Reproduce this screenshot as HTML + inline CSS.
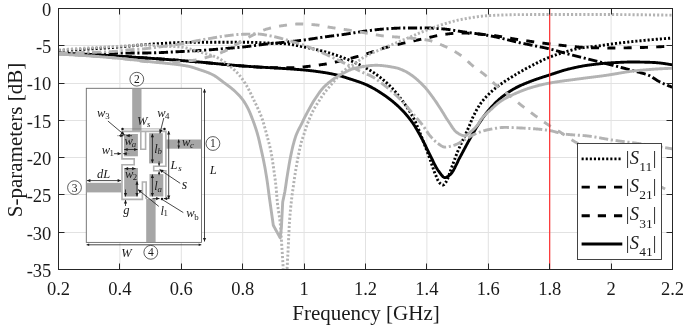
<!DOCTYPE html>
<html><head><meta charset="utf-8"><title>S-parameters</title>
<style>html,body{margin:0;padding:0;background:#fff;}body{width:685px;height:326px;overflow:hidden;font-family:"Liberation Serif",serif;}</style>
</head><body>
<svg width="685" height="326" viewBox="0 0 685 326" style="display:block;will-change:transform">
<rect width="685" height="326" fill="#fff"/>
<path d="M119.90 8.5 V269.5 M181.30 8.5 V269.5 M242.70 8.5 V269.5 M304.10 8.5 V269.5 M365.50 8.5 V269.5 M426.90 8.5 V269.5 M488.30 8.5 V269.5 M549.70 8.5 V269.5 M611.10 8.5 V269.5 M58.5 45.50 H672.5 M58.5 83.50 H672.5 M58.5 120.50 H672.5 M58.5 157.50 H672.5 M58.5 194.50 H672.5 M58.5 232.50 H672.5" stroke="#e2e2e2" stroke-width="1" fill="none"/>
<clipPath id="cp"><rect x="58.5" y="8.5" width="614.0" height="261.0"/></clipPath>
<g clip-path="url(#cp)" fill="none" stroke-width="2.9" stroke-linejoin="round">
<path d="M58.70 50.60 L59.20 50.58 L59.70 50.56 L60.20 50.54 L60.70 50.52 L61.20 50.50 L61.70 50.48 L62.20 50.46 L62.70 50.44 L63.20 50.42 L63.70 50.40 L64.20 50.38 L64.70 50.36 L65.20 50.33 L65.70 50.31 L66.20 50.29 L66.70 50.27 L67.20 50.24 L67.70 50.22 L68.20 50.20 L68.70 50.17 L69.20 50.15 L69.70 50.13 L70.20 50.10 L70.70 50.08 L71.20 50.05 L71.70 50.03 L72.20 50.00 L72.70 49.98 L73.20 49.95 L73.70 49.93 L74.20 49.90 L74.70 49.88 L75.20 49.85 L75.70 49.82 L76.20 49.80 L76.70 49.77 L77.20 49.74 L77.70 49.72 L78.20 49.69 L78.70 49.66 L79.20 49.63 L79.70 49.61 L80.20 49.58 L80.70 49.55 L81.20 49.52 L81.70 49.49 L82.20 49.46 L82.70 49.44 L83.20 49.41 L83.70 49.38 L84.20 49.35 L84.70 49.32 L85.20 49.29 L85.70 49.26 L86.20 49.23 L86.70 49.20 L87.20 49.17 L87.70 49.14 L88.20 49.11 L88.70 49.07 L89.20 49.04 L89.70 49.01 L90.20 48.98 L90.70 48.95 L91.20 48.92 L91.70 48.89 L92.20 48.85 L92.70 48.82 L93.20 48.79 L93.70 48.76 L94.20 48.73 L94.70 48.69 L95.20 48.66 L95.70 48.63 L96.20 48.59 L96.70 48.56 L97.20 48.53 L97.70 48.49 L98.20 48.46 L98.70 48.43 L99.20 48.39 L99.70 48.36 L100.20 48.33 L100.70 48.29 L101.20 48.26 L101.70 48.22 L102.20 48.19 L102.70 48.15 L103.20 48.12 L103.70 48.08 L104.20 48.05 L104.70 48.01 L105.20 47.98 L105.70 47.94 L106.20 47.91 L106.70 47.87 L107.20 47.84 L107.70 47.80 L108.20 47.77 L108.70 47.73 L109.20 47.69 L109.70 47.66 L110.20 47.62 L110.70 47.59 L111.20 47.55 L111.70 47.51 L112.20 47.48 L112.70 47.44 L113.20 47.40 L113.70 47.37 L114.20 47.33 L114.70 47.29 L115.20 47.26 L115.70 47.22 L116.20 47.18 L116.70 47.15 L117.20 47.11 L117.70 47.07 L118.20 47.03 L118.70 47.00 L119.20 46.96 L119.70 46.92 L120.00 46.90 L120.20 46.88 L120.70 46.85 L121.20 46.81 L121.70 46.77 L122.20 46.73 L122.70 46.68 L123.20 46.64 L123.70 46.60 L124.20 46.55 L124.70 46.51 L125.20 46.46 L125.70 46.42 L126.20 46.37 L126.70 46.32 L127.20 46.28 L127.70 46.23 L128.20 46.18 L128.70 46.13 L129.20 46.08 L129.70 46.04 L130.20 45.99 L130.70 45.94 L131.20 45.89 L131.70 45.84 L132.20 45.79 L132.70 45.74 L133.20 45.69 L133.70 45.64 L134.20 45.59 L134.70 45.54 L135.20 45.50 L135.70 45.45 L136.20 45.40 L136.70 45.35 L137.20 45.30 L137.70 45.26 L138.20 45.21 L138.70 45.17 L139.20 45.12 L139.70 45.08 L140.20 45.03 L140.70 44.99 L141.20 44.95 L141.70 44.90 L142.20 44.86 L142.70 44.82 L143.00 44.80 L143.20 44.78 L143.70 44.75 L144.20 44.71 L144.70 44.67 L145.20 44.63 L145.70 44.59 L146.20 44.55 L146.70 44.51 L147.20 44.48 L147.70 44.44 L148.20 44.40 L148.70 44.36 L149.20 44.33 L149.70 44.29 L150.20 44.25 L150.70 44.22 L151.20 44.18 L151.70 44.14 L152.20 44.11 L152.70 44.07 L153.20 44.04 L153.70 44.00 L154.20 43.97 L154.70 43.93 L155.20 43.90 L155.70 43.86 L156.20 43.83 L156.70 43.80 L157.20 43.76 L157.70 43.73 L158.20 43.70 L158.70 43.67 L159.20 43.64 L159.70 43.60 L160.20 43.57 L160.70 43.54 L161.20 43.51 L161.70 43.48 L162.20 43.45 L162.70 43.43 L163.20 43.40 L163.70 43.37 L164.20 43.34 L164.70 43.32 L165.00 43.30 L165.20 43.29 L165.70 43.26 L166.20 43.24 L166.70 43.21 L167.20 43.18 L167.70 43.15 L168.20 43.13 L168.70 43.10 L169.20 43.07 L169.70 43.04 L170.20 43.01 L170.70 42.99 L171.20 42.96 L171.70 42.93 L172.20 42.90 L172.70 42.88 L173.20 42.85 L173.70 42.82 L174.20 42.80 L174.70 42.77 L175.20 42.75 L175.70 42.72 L176.20 42.70 L176.70 42.67 L177.20 42.65 L177.70 42.63 L178.20 42.61 L178.70 42.59 L179.20 42.57 L179.70 42.55 L180.20 42.53 L180.70 42.51 L181.20 42.50 L181.70 42.48 L182.20 42.47 L182.70 42.45 L183.20 42.44 L183.70 42.43 L184.20 42.42 L184.70 42.41 L185.20 42.41 L185.70 42.40 L186.00 42.40 L186.20 42.40 L186.70 42.39 L187.20 42.39 L187.70 42.39 L188.20 42.38 L188.70 42.38 L189.20 42.38 L189.70 42.37 L190.20 42.37 L190.70 42.37 L191.20 42.36 L191.70 42.36 L192.20 42.36 L192.70 42.35 L193.20 42.35 L193.70 42.35 L194.20 42.34 L194.70 42.34 L195.20 42.34 L195.70 42.33 L196.20 42.33 L196.70 42.33 L197.20 42.33 L197.70 42.32 L198.20 42.32 L198.70 42.32 L199.20 42.31 L199.70 42.31 L200.20 42.31 L200.70 42.31 L201.20 42.30 L201.70 42.30 L202.20 42.30 L202.70 42.30 L203.20 42.29 L203.70 42.29 L204.20 42.29 L204.70 42.29 L205.20 42.28 L205.70 42.28 L206.20 42.28 L206.70 42.28 L207.20 42.28 L207.70 42.27 L208.20 42.27 L208.70 42.27 L209.20 42.27 L209.70 42.26 L210.20 42.26 L210.70 42.26 L211.20 42.26 L211.70 42.26 L212.20 42.26 L212.70 42.25 L213.20 42.25 L213.70 42.25 L214.20 42.25 L214.70 42.25 L215.20 42.24 L215.70 42.24 L216.20 42.24 L216.70 42.24 L217.20 42.24 L217.70 42.24 L218.20 42.24 L218.70 42.23 L219.20 42.23 L219.70 42.23 L220.20 42.23 L220.70 42.23 L221.20 42.23 L221.70 42.23 L222.20 42.22 L222.70 42.22 L223.20 42.22 L223.70 42.22 L224.20 42.22 L224.70 42.22 L225.20 42.22 L225.70 42.22 L226.20 42.22 L226.70 42.21 L227.20 42.21 L227.70 42.21 L228.20 42.21 L228.70 42.21 L229.20 42.21 L229.70 42.21 L230.20 42.21 L230.70 42.21 L231.20 42.21 L231.70 42.21 L232.20 42.21 L232.70 42.21 L233.20 42.21 L233.70 42.20 L234.20 42.20 L234.70 42.20 L235.20 42.20 L235.70 42.20 L236.20 42.20 L236.70 42.20 L237.20 42.20 L237.70 42.20 L238.20 42.20 L238.70 42.20 L239.20 42.20 L239.70 42.20 L240.20 42.20 L240.70 42.20 L241.20 42.20 L241.70 42.20 L242.20 42.20 L242.70 42.20 L243.00 42.20 L243.20 42.20 L243.70 42.20 L244.20 42.20 L244.70 42.21 L245.20 42.21 L245.70 42.22 L246.20 42.22 L246.70 42.23 L247.20 42.24 L247.70 42.25 L248.20 42.26 L248.70 42.27 L249.20 42.28 L249.70 42.30 L250.20 42.31 L250.70 42.33 L251.20 42.34 L251.70 42.36 L252.20 42.38 L252.70 42.39 L253.20 42.41 L253.70 42.43 L254.20 42.45 L254.70 42.47 L255.20 42.49 L255.70 42.51 L256.20 42.53 L256.70 42.55 L257.20 42.57 L257.70 42.59 L258.20 42.61 L258.70 42.64 L259.20 42.66 L259.70 42.68 L260.20 42.70 L260.70 42.73 L261.20 42.75 L261.70 42.77 L262.20 42.79 L262.70 42.82 L263.20 42.84 L263.70 42.86 L264.20 42.88 L264.70 42.90 L265.20 42.93 L265.70 42.95 L266.20 42.97 L266.70 42.99 L267.00 43.00 L267.20 43.01 L267.70 43.03 L268.20 43.05 L268.70 43.07 L269.20 43.09 L269.70 43.11 L270.20 43.13 L270.70 43.14 L271.20 43.16 L271.70 43.18 L272.20 43.20 L272.70 43.22 L273.20 43.24 L273.70 43.26 L274.20 43.28 L274.70 43.30 L275.20 43.32 L275.70 43.35 L276.20 43.37 L276.70 43.39 L277.20 43.41 L277.70 43.43 L278.20 43.46 L278.70 43.48 L279.20 43.51 L279.70 43.53 L280.20 43.56 L280.70 43.59 L281.20 43.61 L281.70 43.64 L282.20 43.67 L282.70 43.70 L283.20 43.73 L283.70 43.76 L284.20 43.80 L284.70 43.83 L285.20 43.87 L285.70 43.90 L286.20 43.94 L286.70 43.98 L287.00 44.00 L287.20 44.02 L287.70 44.06 L288.20 44.11 L288.70 44.16 L289.20 44.22 L289.70 44.28 L290.20 44.35 L290.70 44.42 L291.20 44.49 L291.70 44.57 L292.20 44.65 L292.70 44.73 L293.20 44.82 L293.70 44.91 L294.20 45.00 L294.70 45.10 L295.20 45.19 L295.70 45.29 L296.20 45.39 L296.70 45.49 L297.20 45.59 L297.70 45.69 L298.20 45.80 L298.70 45.90 L299.20 46.01 L299.70 46.11 L300.20 46.22 L300.70 46.32 L301.20 46.43 L301.70 46.53 L302.20 46.64 L302.70 46.74 L303.20 46.84 L303.70 46.94 L304.00 47.00 L304.20 47.04 L304.70 47.14 L305.20 47.24 L305.70 47.34 L306.20 47.44 L306.70 47.54 L307.20 47.64 L307.70 47.74 L308.20 47.84 L308.70 47.95 L309.20 48.05 L309.70 48.15 L310.20 48.26 L310.70 48.36 L311.20 48.47 L311.70 48.58 L312.20 48.68 L312.70 48.79 L313.20 48.90 L313.70 49.01 L314.20 49.12 L314.70 49.23 L315.20 49.35 L315.70 49.46 L316.20 49.57 L316.70 49.69 L317.20 49.81 L317.70 49.92 L318.20 50.04 L318.70 50.16 L319.20 50.28 L319.70 50.40 L320.20 50.53 L320.70 50.65 L321.20 50.78 L321.70 50.90 L322.20 51.03 L322.70 51.16 L323.20 51.29 L323.70 51.42 L324.00 51.50 L324.20 51.55 L324.70 51.69 L325.20 51.82 L325.70 51.96 L326.20 52.10 L326.70 52.24 L327.20 52.38 L327.70 52.53 L328.20 52.67 L328.70 52.82 L329.20 52.97 L329.70 53.12 L330.20 53.27 L330.70 53.42 L331.20 53.58 L331.70 53.73 L332.20 53.89 L332.70 54.05 L333.20 54.21 L333.70 54.37 L334.20 54.54 L334.70 54.70 L335.20 54.87 L335.70 55.03 L336.20 55.20 L336.70 55.37 L337.20 55.54 L337.70 55.72 L338.20 55.89 L338.70 56.06 L339.20 56.24 L339.70 56.42 L340.20 56.60 L340.70 56.78 L341.20 56.96 L341.70 57.14 L342.20 57.33 L342.70 57.51 L343.20 57.70 L343.70 57.89 L344.00 58.00 L344.20 58.08 L344.70 58.27 L345.20 58.46 L345.70 58.65 L346.20 58.85 L346.70 59.04 L347.20 59.24 L347.70 59.44 L348.20 59.64 L348.70 59.85 L349.20 60.05 L349.70 60.26 L350.20 60.47 L350.70 60.68 L351.20 60.89 L351.70 61.10 L352.20 61.32 L352.70 61.53 L353.20 61.75 L353.70 61.97 L354.20 62.19 L354.70 62.42 L355.20 62.64 L355.70 62.87 L356.20 63.10 L356.70 63.33 L357.20 63.57 L357.70 63.80 L358.20 64.04 L358.70 64.28 L359.20 64.52 L359.70 64.76 L360.20 65.01 L360.70 65.25 L361.20 65.50 L361.70 65.75 L362.20 66.01 L362.70 66.26 L363.20 66.52 L363.70 66.78 L364.20 67.04 L364.70 67.30 L365.20 67.57 L365.70 67.84 L366.00 68.00 L366.20 68.11 L366.70 68.38 L367.20 68.66 L367.70 68.95 L368.20 69.23 L368.70 69.53 L369.20 69.82 L369.70 70.13 L370.20 70.43 L370.70 70.74 L371.20 71.06 L371.70 71.38 L372.20 71.70 L372.70 72.03 L373.20 72.36 L373.70 72.69 L374.20 73.03 L374.70 73.37 L375.20 73.72 L375.70 74.07 L376.20 74.43 L376.70 74.78 L377.00 75.00 L377.20 75.15 L377.70 75.51 L378.20 75.88 L378.70 76.25 L379.20 76.63 L379.70 77.01 L380.20 77.40 L380.70 77.79 L381.20 78.18 L381.70 78.58 L382.20 78.98 L382.70 79.39 L383.20 79.81 L383.70 80.23 L384.20 80.65 L384.70 81.08 L385.20 81.52 L385.70 81.96 L386.20 82.40 L386.70 82.86 L387.20 83.32 L387.70 83.78 L388.20 84.25 L388.70 84.73 L389.20 85.21 L389.70 85.70 L390.00 86.00 L390.20 86.20 L390.70 86.71 L391.20 87.22 L391.70 87.74 L392.20 88.28 L392.70 88.82 L393.20 89.37 L393.70 89.93 L394.20 90.49 L394.70 91.07 L395.20 91.65 L395.70 92.24 L396.20 92.84 L396.70 93.44 L397.20 94.05 L397.70 94.67 L398.20 95.30 L398.70 95.93 L399.20 96.57 L399.70 97.21 L400.20 97.86 L400.70 98.52 L401.20 99.18 L401.70 99.85 L402.20 100.53 L402.70 101.21 L403.20 101.89 L403.70 102.58 L404.00 103.00 L404.20 103.28 L404.70 103.98 L405.20 104.68 L405.70 105.40 L406.20 106.12 L406.70 106.85 L407.20 107.58 L407.70 108.33 L408.20 109.09 L408.70 109.86 L409.20 110.64 L409.70 111.44 L410.20 112.25 L410.70 113.08 L411.20 113.93 L411.70 114.79 L412.20 115.67 L412.70 116.57 L413.20 117.49 L413.70 118.43 L414.00 119.00 L414.20 119.39 L414.70 120.39 L415.20 121.43 L415.70 122.51 L416.20 123.63 L416.70 124.77 L417.20 125.95 L417.70 127.15 L418.20 128.37 L418.70 129.61 L419.20 130.87 L419.70 132.14 L420.20 133.42 L420.70 134.71 L421.20 136.00 L421.70 137.30 L422.20 138.60 L422.70 139.89 L423.20 141.18 L423.60 142.20 L423.70 142.45 L424.20 143.74 L424.70 145.03 L425.20 146.34 L425.70 147.66 L426.20 148.99 L426.70 150.33 L427.20 151.68 L427.70 153.03 L428.20 154.39 L428.70 155.75 L429.20 157.11 L429.70 158.48 L430.00 159.30 L430.20 159.85 L430.70 161.26 L431.20 162.71 L431.70 164.18 L432.20 165.66 L432.70 167.13 L433.20 168.59 L433.70 170.01 L434.20 171.38 L434.70 172.69 L435.20 173.93 L435.40 174.40 L435.70 175.10 L436.20 176.30 L436.70 177.50 L437.20 178.67 L437.70 179.78 L438.20 180.80 L438.70 181.70 L439.20 182.44 L439.70 183.00 L440.20 183.45 L440.70 183.88 L441.20 184.27 L441.70 184.60 L442.20 184.84 L442.70 184.98 L443.00 185.00 L443.20 184.98 L443.70 184.77 L444.20 184.36 L444.70 183.81 L445.20 183.16 L445.70 182.46 L446.10 181.90 L446.20 181.76 L446.70 180.92 L447.20 179.89 L447.70 178.71 L448.20 177.41 L448.70 176.01 L449.20 174.55 L449.70 173.06 L450.20 171.57 L450.70 170.11 L451.20 168.70 L451.50 167.90 L451.70 167.38 L452.20 166.05 L452.70 164.72 L453.20 163.37 L453.70 162.01 L454.20 160.66 L454.70 159.30 L455.20 157.96 L455.70 156.63 L456.20 155.31 L456.70 154.02 L457.20 152.76 L457.70 151.52 L458.00 150.80 L458.20 150.32 L458.70 149.16 L459.20 148.02 L459.70 146.90 L460.20 145.81 L460.70 144.73 L461.20 143.66 L461.70 142.59 L462.20 141.53 L462.70 140.47 L463.20 139.40 L463.70 138.33 L464.20 137.24 L464.40 136.80 L464.70 136.14 L465.20 135.04 L465.70 133.94 L466.20 132.85 L466.70 131.75 L467.20 130.65 L467.70 129.54 L468.20 128.42 L468.70 127.30 L469.20 126.16 L469.70 125.00 L470.20 123.80 L470.70 122.55 L471.20 121.28 L471.70 120.02 L472.20 118.80 L472.70 117.64 L473.00 117.00 L473.20 116.59 L473.70 115.56 L474.20 114.56 L474.70 113.57 L475.20 112.60 L475.70 111.65 L476.20 110.72 L476.70 109.82 L477.20 108.93 L477.70 108.07 L478.20 107.23 L478.70 106.42 L479.20 105.63 L479.70 104.86 L480.20 104.13 L480.70 103.41 L481.00 103.00 L481.20 102.73 L481.70 102.06 L482.20 101.41 L482.70 100.78 L483.20 100.16 L483.70 99.56 L484.20 98.97 L484.70 98.39 L485.20 97.83 L485.70 97.28 L486.20 96.74 L486.70 96.21 L487.20 95.69 L487.70 95.18 L488.20 94.68 L488.70 94.19 L489.20 93.70 L489.70 93.22 L490.20 92.75 L490.70 92.28 L491.00 92.00 L491.20 91.82 L491.70 91.36 L492.20 90.91 L492.70 90.47 L493.20 90.04 L493.70 89.61 L494.20 89.20 L494.70 88.78 L495.20 88.38 L495.70 87.98 L496.20 87.58 L496.70 87.19 L497.20 86.81 L497.70 86.43 L498.20 86.05 L498.70 85.68 L499.20 85.31 L499.70 84.94 L500.20 84.58 L500.70 84.22 L501.00 84.00 L501.20 83.86 L501.70 83.50 L502.20 83.15 L502.70 82.80 L503.20 82.46 L503.70 82.12 L504.20 81.78 L504.70 81.44 L505.20 81.11 L505.70 80.78 L506.20 80.45 L506.70 80.13 L507.20 79.81 L507.70 79.49 L508.20 79.17 L508.70 78.85 L509.20 78.54 L509.70 78.23 L510.20 77.92 L510.70 77.61 L511.20 77.30 L511.70 77.00 L512.20 76.69 L512.70 76.39 L513.20 76.08 L513.70 75.78 L514.20 75.48 L514.70 75.18 L515.00 75.00 L515.20 74.88 L515.70 74.58 L516.20 74.28 L516.70 73.98 L517.20 73.69 L517.70 73.39 L518.20 73.10 L518.70 72.80 L519.20 72.51 L519.70 72.22 L520.20 71.93 L520.70 71.64 L521.20 71.35 L521.70 71.07 L522.20 70.78 L522.70 70.50 L523.20 70.22 L523.70 69.94 L524.20 69.66 L524.70 69.38 L525.20 69.10 L525.70 68.82 L526.20 68.55 L526.70 68.28 L527.20 68.01 L527.70 67.74 L528.20 67.47 L528.70 67.20 L529.20 66.94 L529.70 66.68 L530.20 66.41 L530.70 66.15 L531.00 66.00 L531.20 65.90 L531.70 65.64 L532.20 65.38 L532.70 65.12 L533.20 64.87 L533.70 64.61 L534.20 64.35 L534.70 64.10 L535.20 63.84 L535.70 63.59 L536.20 63.33 L536.70 63.08 L537.20 62.83 L537.70 62.58 L538.20 62.33 L538.70 62.08 L539.20 61.83 L539.70 61.59 L540.20 61.34 L540.70 61.10 L541.20 60.86 L541.70 60.62 L542.20 60.39 L542.70 60.15 L543.20 59.92 L543.70 59.69 L544.20 59.46 L544.70 59.23 L545.20 59.01 L545.70 58.79 L546.20 58.57 L546.70 58.35 L547.20 58.14 L547.70 57.93 L548.20 57.72 L548.70 57.52 L549.20 57.32 L549.70 57.12 L550.00 57.00 L550.20 56.92 L550.70 56.73 L551.20 56.54 L551.70 56.35 L552.20 56.17 L552.70 55.98 L553.20 55.80 L553.70 55.62 L554.20 55.44 L554.70 55.26 L555.20 55.09 L555.70 54.92 L556.20 54.74 L556.70 54.58 L557.20 54.41 L557.70 54.24 L558.20 54.08 L558.70 53.92 L559.20 53.75 L559.70 53.60 L560.20 53.44 L560.70 53.28 L561.20 53.13 L561.70 52.97 L562.20 52.82 L562.70 52.67 L563.20 52.52 L563.70 52.38 L564.20 52.23 L564.70 52.09 L565.00 52.00 L565.20 51.94 L565.70 51.80 L566.20 51.66 L566.70 51.51 L567.20 51.37 L567.70 51.22 L568.20 51.08 L568.70 50.94 L569.20 50.79 L569.70 50.65 L570.20 50.51 L570.70 50.37 L571.20 50.23 L571.70 50.10 L572.20 49.96 L572.70 49.83 L573.20 49.70 L573.70 49.57 L574.20 49.44 L574.70 49.31 L575.20 49.19 L575.70 49.07 L576.20 48.95 L576.70 48.84 L577.20 48.73 L577.70 48.62 L578.20 48.51 L578.70 48.41 L579.20 48.32 L579.70 48.22 L580.20 48.13 L580.70 48.05 L581.00 48.00 L581.20 47.97 L581.70 47.89 L582.20 47.82 L582.70 47.74 L583.20 47.67 L583.70 47.61 L584.20 47.54 L584.70 47.48 L585.20 47.41 L585.70 47.35 L586.20 47.30 L586.70 47.24 L587.20 47.18 L587.70 47.13 L588.20 47.07 L588.70 47.02 L589.20 46.97 L589.70 46.92 L590.20 46.87 L590.70 46.81 L591.20 46.76 L591.70 46.71 L592.20 46.66 L592.70 46.61 L593.20 46.56 L593.70 46.50 L594.20 46.45 L594.70 46.40 L595.20 46.34 L595.70 46.28 L596.20 46.22 L596.70 46.16 L597.20 46.10 L597.70 46.04 L598.00 46.00 L598.20 45.97 L598.70 45.91 L599.20 45.84 L599.70 45.77 L600.20 45.70 L600.70 45.62 L601.20 45.55 L601.70 45.47 L602.20 45.40 L602.70 45.32 L603.20 45.25 L603.70 45.17 L604.20 45.09 L604.70 45.01 L605.20 44.94 L605.70 44.86 L606.20 44.78 L606.70 44.70 L607.20 44.63 L607.70 44.55 L608.20 44.48 L608.70 44.40 L609.20 44.33 L609.70 44.26 L610.20 44.19 L610.70 44.12 L611.20 44.05 L611.60 44.00 L611.70 43.99 L612.20 43.92 L612.70 43.86 L613.20 43.79 L613.70 43.73 L614.20 43.67 L614.70 43.60 L615.20 43.54 L615.70 43.48 L616.20 43.42 L616.70 43.35 L617.20 43.29 L617.70 43.23 L618.20 43.17 L618.70 43.11 L619.20 43.05 L619.70 42.99 L620.20 42.93 L620.70 42.87 L621.20 42.81 L621.70 42.75 L622.20 42.69 L622.70 42.64 L623.20 42.58 L623.70 42.52 L624.20 42.46 L624.70 42.41 L625.20 42.35 L625.70 42.29 L626.20 42.24 L626.70 42.18 L627.20 42.13 L627.70 42.07 L628.20 42.02 L628.70 41.96 L629.20 41.91 L629.70 41.85 L630.20 41.80 L630.70 41.75 L631.20 41.69 L631.70 41.64 L632.20 41.59 L632.70 41.54 L633.20 41.48 L633.70 41.43 L634.20 41.38 L634.70 41.33 L635.20 41.28 L635.70 41.23 L636.20 41.18 L636.70 41.13 L637.20 41.08 L637.70 41.03 L638.00 41.00 L638.20 40.98 L638.70 40.93 L639.20 40.88 L639.70 40.83 L640.20 40.78 L640.70 40.74 L641.20 40.69 L641.70 40.64 L642.20 40.59 L642.70 40.54 L643.20 40.50 L643.70 40.45 L644.20 40.40 L644.70 40.35 L645.20 40.31 L645.70 40.26 L646.20 40.21 L646.70 40.17 L647.20 40.12 L647.70 40.07 L648.20 40.03 L648.70 39.98 L649.20 39.94 L649.70 39.89 L650.20 39.84 L650.70 39.80 L651.20 39.75 L651.70 39.71 L652.20 39.66 L652.70 39.62 L653.20 39.58 L653.70 39.53 L654.20 39.49 L654.70 39.44 L655.20 39.40 L655.70 39.36 L656.20 39.31 L656.70 39.27 L657.20 39.23 L657.70 39.19 L658.20 39.14 L658.70 39.10 L659.20 39.06 L659.70 39.02 L660.20 38.98 L660.70 38.94 L661.20 38.90 L661.70 38.85 L662.20 38.81 L662.70 38.77 L663.20 38.73 L663.70 38.69 L664.20 38.65 L664.70 38.62 L665.20 38.58 L665.70 38.54 L666.20 38.50 L666.70 38.46 L667.20 38.42 L667.70 38.38 L668.20 38.35 L668.70 38.31 L669.20 38.27 L669.70 38.24 L670.20 38.20 L670.70 38.16 L671.20 38.13 L671.70 38.09 L672.20 38.06 L672.70 38.02 L673.00 38.00" stroke="#000" stroke-dasharray="2.1 2.0"/>
<path d="M58.70 53.20 L59.20 53.22 L59.70 53.23 L60.20 53.25 L60.70 53.26 L61.20 53.28 L61.70 53.29 L62.20 53.31 L62.70 53.33 L63.20 53.34 L63.70 53.36 L64.20 53.38 L64.70 53.40 L65.20 53.41 L65.70 53.43 L66.20 53.45 L66.70 53.47 L67.20 53.48 L67.70 53.50 L68.20 53.52 L68.70 53.54 L69.20 53.56 L69.70 53.58 L70.20 53.60 L70.70 53.61 L71.20 53.63 L71.70 53.65 L72.20 53.67 L72.70 53.69 L73.20 53.71 L73.70 53.73 L74.20 53.75 L74.70 53.77 L75.20 53.79 L75.70 53.81 L76.20 53.84 L76.70 53.86 L77.20 53.88 L77.70 53.90 L78.20 53.92 L78.70 53.94 L79.20 53.96 L79.70 53.99 L80.00 54.00 L80.20 54.01 L80.70 54.03 L81.20 54.05 L81.70 54.08 L82.20 54.10 L82.70 54.12 L83.20 54.15 L83.70 54.17 L84.20 54.20 L84.70 54.22 L85.20 54.24 L85.70 54.27 L86.20 54.29 L86.70 54.32 L87.20 54.35 L87.70 54.37 L88.20 54.40 L88.70 54.42 L89.20 54.45 L89.70 54.48 L90.20 54.50 L90.70 54.53 L91.20 54.56 L91.70 54.58 L92.20 54.61 L92.70 54.64 L93.20 54.67 L93.70 54.69 L94.20 54.72 L94.70 54.75 L95.20 54.78 L95.70 54.81 L96.20 54.84 L96.70 54.87 L97.20 54.89 L97.70 54.92 L98.20 54.95 L98.70 54.98 L99.20 55.01 L99.70 55.04 L100.20 55.07 L100.70 55.10 L101.20 55.13 L101.70 55.16 L102.20 55.19 L102.70 55.22 L103.20 55.25 L103.70 55.28 L104.20 55.31 L104.70 55.34 L105.20 55.37 L105.70 55.40 L106.20 55.44 L106.70 55.47 L107.20 55.50 L107.70 55.53 L108.20 55.56 L108.70 55.59 L109.20 55.62 L109.70 55.65 L110.20 55.68 L110.70 55.72 L111.20 55.75 L111.70 55.78 L112.20 55.81 L112.70 55.84 L113.20 55.87 L113.70 55.90 L114.20 55.94 L114.70 55.97 L115.20 56.00 L115.70 56.03 L116.20 56.06 L116.70 56.09 L117.20 56.12 L117.70 56.16 L118.20 56.19 L118.70 56.22 L119.20 56.25 L119.70 56.28 L120.00 56.30 L120.20 56.31 L120.70 56.34 L121.20 56.38 L121.70 56.41 L122.20 56.44 L122.70 56.47 L123.20 56.50 L123.70 56.53 L124.20 56.56 L124.70 56.60 L125.20 56.63 L125.70 56.66 L126.20 56.69 L126.70 56.72 L127.20 56.76 L127.70 56.79 L128.20 56.82 L128.70 56.85 L129.20 56.88 L129.70 56.92 L130.20 56.95 L130.70 56.98 L131.20 57.01 L131.70 57.05 L132.20 57.08 L132.70 57.11 L133.20 57.14 L133.70 57.18 L134.20 57.21 L134.70 57.24 L135.20 57.28 L135.70 57.31 L136.20 57.34 L136.70 57.37 L137.20 57.41 L137.70 57.44 L138.20 57.47 L138.70 57.51 L139.20 57.54 L139.70 57.57 L140.20 57.61 L140.70 57.64 L141.20 57.67 L141.70 57.71 L142.20 57.74 L142.70 57.77 L143.20 57.81 L143.70 57.84 L144.20 57.88 L144.70 57.91 L145.20 57.94 L145.70 57.98 L146.20 58.01 L146.70 58.05 L147.20 58.08 L147.70 58.11 L148.20 58.15 L148.70 58.18 L149.20 58.22 L149.70 58.25 L150.20 58.29 L150.70 58.32 L151.20 58.35 L151.70 58.39 L152.20 58.42 L152.70 58.46 L153.20 58.49 L153.70 58.53 L154.20 58.56 L154.70 58.60 L155.20 58.63 L155.70 58.67 L156.20 58.70 L156.70 58.74 L157.20 58.77 L157.70 58.81 L158.20 58.85 L158.70 58.88 L159.20 58.92 L159.70 58.95 L160.20 58.99 L160.70 59.02 L161.20 59.06 L161.70 59.10 L162.20 59.13 L162.70 59.17 L163.20 59.20 L163.70 59.24 L164.20 59.28 L164.70 59.31 L165.20 59.35 L165.70 59.39 L166.20 59.42 L166.70 59.46 L167.20 59.49 L167.70 59.53 L168.20 59.57 L168.70 59.60 L169.20 59.64 L169.70 59.68 L170.20 59.72 L170.70 59.75 L171.20 59.79 L171.70 59.83 L172.20 59.86 L172.70 59.90 L173.20 59.94 L173.70 59.98 L174.20 60.01 L174.70 60.05 L175.20 60.09 L175.70 60.13 L176.20 60.17 L176.70 60.20 L177.20 60.24 L177.70 60.28 L178.20 60.32 L178.70 60.36 L179.20 60.39 L179.70 60.43 L180.20 60.47 L180.70 60.51 L181.20 60.55 L181.70 60.59 L182.20 60.62 L182.70 60.66 L183.20 60.70 L183.70 60.74 L184.20 60.78 L184.70 60.82 L185.20 60.86 L185.70 60.90 L186.20 60.94 L186.70 60.98 L187.00 61.00 L187.20 61.02 L187.70 61.06 L188.20 61.10 L188.70 61.14 L189.20 61.18 L189.70 61.22 L190.20 61.26 L190.70 61.30 L191.20 61.34 L191.70 61.39 L192.20 61.43 L192.70 61.47 L193.20 61.51 L193.70 61.56 L194.20 61.60 L194.70 61.65 L195.20 61.69 L195.70 61.73 L196.20 61.78 L196.70 61.82 L197.20 61.87 L197.70 61.91 L198.20 61.96 L198.70 62.01 L199.20 62.05 L199.70 62.10 L200.20 62.14 L200.70 62.19 L201.20 62.24 L201.70 62.29 L202.20 62.33 L202.70 62.38 L203.20 62.43 L203.70 62.47 L204.20 62.52 L204.70 62.57 L205.20 62.62 L205.70 62.66 L206.20 62.71 L206.70 62.76 L207.20 62.81 L207.70 62.86 L208.20 62.91 L208.70 62.95 L209.20 63.00 L209.70 63.05 L210.20 63.10 L210.70 63.15 L211.20 63.20 L211.70 63.24 L212.20 63.29 L212.70 63.34 L213.20 63.39 L213.70 63.44 L214.20 63.49 L214.70 63.54 L215.20 63.58 L215.70 63.63 L216.20 63.68 L216.70 63.73 L217.20 63.78 L217.70 63.83 L218.20 63.87 L218.70 63.92 L219.20 63.97 L219.70 64.02 L220.20 64.06 L220.70 64.11 L221.20 64.16 L221.70 64.21 L222.20 64.25 L222.70 64.30 L223.20 64.35 L223.70 64.39 L224.20 64.44 L224.70 64.49 L225.20 64.53 L225.70 64.58 L226.20 64.63 L226.70 64.67 L227.20 64.72 L227.70 64.76 L228.20 64.81 L228.70 64.85 L229.20 64.90 L229.70 64.94 L230.20 64.98 L230.70 65.03 L231.20 65.07 L231.70 65.11 L232.20 65.16 L232.70 65.20 L233.20 65.24 L233.70 65.28 L234.20 65.33 L234.70 65.37 L235.20 65.41 L235.70 65.45 L236.20 65.49 L236.70 65.53 L237.20 65.57 L237.70 65.61 L238.20 65.65 L238.70 65.69 L239.20 65.72 L239.70 65.76 L240.20 65.80 L240.70 65.84 L241.20 65.87 L241.70 65.91 L242.20 65.94 L242.70 65.98 L243.00 66.00 L243.20 66.01 L243.70 66.05 L244.20 66.08 L244.70 66.12 L245.20 66.16 L245.70 66.19 L246.20 66.23 L246.70 66.27 L247.20 66.30 L247.70 66.34 L248.20 66.38 L248.70 66.41 L249.20 66.45 L249.70 66.49 L250.20 66.52 L250.70 66.56 L251.20 66.60 L251.70 66.63 L252.20 66.67 L252.70 66.71 L253.20 66.74 L253.70 66.78 L254.20 66.81 L254.70 66.85 L255.20 66.88 L255.70 66.92 L256.20 66.95 L256.70 66.99 L257.20 67.02 L257.70 67.05 L258.20 67.08 L258.70 67.11 L259.20 67.14 L259.70 67.17 L260.20 67.20 L260.70 67.23 L261.20 67.26 L261.70 67.29 L262.20 67.31 L262.70 67.34 L263.20 67.36 L263.70 67.39 L264.20 67.41 L264.70 67.43 L265.20 67.45 L265.70 67.47 L266.20 67.49 L266.70 67.51 L267.20 67.53 L267.70 67.54 L268.20 67.56 L268.70 67.57 L269.20 67.58 L269.70 67.59 L270.00 67.60 L270.20 67.60 L270.70 67.61 L271.20 67.62 L271.70 67.63 L272.20 67.64 L272.70 67.65 L273.20 67.66 L273.70 67.67 L274.20 67.68 L274.70 67.68 L275.20 67.69 L275.70 67.70 L276.20 67.71 L276.70 67.71 L277.20 67.72 L277.70 67.73 L278.20 67.74 L278.70 67.74 L279.20 67.75 L279.70 67.75 L280.20 67.76 L280.70 67.77 L281.20 67.77 L281.70 67.78 L282.20 67.78 L282.70 67.78 L283.20 67.79 L283.70 67.79 L284.20 67.79 L284.70 67.80 L285.20 67.80 L285.70 67.80 L286.20 67.80 L286.70 67.80 L287.00 67.80 L287.20 67.80 L287.70 67.80 L288.20 67.79 L288.70 67.79 L289.20 67.78 L289.70 67.77 L290.20 67.76 L290.70 67.75 L291.20 67.73 L291.70 67.72 L292.20 67.70 L292.70 67.68 L293.20 67.66 L293.70 67.63 L294.20 67.61 L294.70 67.58 L295.20 67.55 L295.70 67.52 L296.20 67.49 L296.70 67.46 L297.20 67.43 L297.70 67.39 L298.20 67.36 L298.70 67.32 L299.20 67.28 L299.70 67.24 L300.20 67.20 L300.70 67.15 L301.20 67.11 L301.70 67.06 L302.20 67.02 L302.70 66.97 L303.20 66.92 L303.70 66.87 L304.20 66.82 L304.70 66.77 L305.20 66.71 L305.70 66.66 L306.20 66.61 L306.70 66.55 L307.20 66.49 L307.70 66.44 L308.20 66.38 L308.70 66.32 L309.20 66.26 L309.70 66.20 L310.20 66.14 L310.70 66.08 L311.20 66.02 L311.70 65.95 L312.20 65.89 L312.70 65.83 L313.20 65.76 L313.70 65.70 L314.20 65.63 L314.70 65.56 L315.20 65.50 L315.70 65.43 L316.20 65.36 L316.70 65.30 L317.20 65.23 L317.70 65.16 L318.20 65.09 L318.70 65.03 L319.20 64.96 L319.70 64.89 L320.20 64.82 L320.70 64.75 L321.20 64.68 L321.70 64.62 L322.20 64.55 L322.70 64.48 L323.20 64.41 L323.70 64.34 L324.00 64.30 L324.20 64.27 L324.70 64.20 L325.20 64.13 L325.70 64.05 L326.20 63.97 L326.70 63.89 L327.20 63.80 L327.70 63.71 L328.20 63.62 L328.70 63.53 L329.20 63.43 L329.70 63.33 L330.20 63.23 L330.70 63.13 L331.20 63.02 L331.70 62.92 L332.20 62.81 L332.70 62.70 L333.20 62.59 L333.70 62.48 L334.20 62.36 L334.70 62.25 L335.20 62.13 L335.70 62.01 L336.20 61.89 L336.70 61.78 L337.20 61.66 L337.70 61.53 L338.20 61.41 L338.70 61.29 L339.20 61.17 L339.70 61.05 L340.20 60.93 L340.70 60.80 L341.20 60.68 L341.70 60.56 L342.20 60.44 L342.70 60.31 L343.20 60.19 L343.70 60.07 L344.00 60.00 L344.20 59.95 L344.70 59.83 L345.20 59.71 L345.70 59.59 L346.20 59.46 L346.70 59.34 L347.20 59.22 L347.70 59.09 L348.20 58.96 L348.70 58.84 L349.20 58.71 L349.70 58.58 L350.20 58.45 L350.70 58.32 L351.20 58.19 L351.70 58.06 L352.20 57.92 L352.70 57.79 L353.20 57.66 L353.70 57.52 L354.20 57.39 L354.70 57.25 L355.20 57.11 L355.70 56.98 L356.20 56.84 L356.70 56.70 L357.20 56.56 L357.70 56.42 L358.20 56.28 L358.70 56.14 L359.20 55.99 L359.70 55.85 L360.20 55.71 L360.70 55.56 L361.20 55.42 L361.70 55.27 L362.20 55.13 L362.70 54.98 L363.20 54.83 L363.70 54.69 L364.20 54.54 L364.70 54.39 L365.20 54.24 L365.70 54.09 L366.00 54.00 L366.20 53.94 L366.70 53.79 L367.20 53.63 L367.70 53.47 L368.20 53.31 L368.70 53.15 L369.20 52.98 L369.70 52.81 L370.20 52.64 L370.70 52.47 L371.20 52.30 L371.70 52.13 L372.20 51.95 L372.70 51.78 L373.20 51.60 L373.70 51.43 L374.20 51.25 L374.70 51.07 L375.20 50.90 L375.70 50.72 L376.20 50.54 L376.70 50.37 L377.20 50.19 L377.70 50.02 L378.20 49.85 L378.70 49.68 L379.20 49.51 L379.70 49.34 L380.20 49.18 L380.70 49.01 L381.20 48.85 L381.70 48.69 L382.20 48.54 L382.70 48.38 L383.20 48.23 L383.70 48.09 L384.00 48.00 L384.20 47.94 L384.70 47.80 L385.20 47.66 L385.70 47.52 L386.20 47.38 L386.70 47.25 L387.20 47.11 L387.70 46.98 L388.20 46.84 L388.70 46.71 L389.20 46.58 L389.70 46.45 L390.20 46.32 L390.70 46.19 L391.20 46.06 L391.70 45.94 L392.20 45.81 L392.70 45.69 L393.20 45.56 L393.70 45.44 L394.20 45.32 L394.70 45.20 L395.20 45.07 L395.70 44.95 L396.20 44.83 L396.70 44.71 L397.20 44.59 L397.70 44.48 L398.20 44.36 L398.70 44.24 L399.20 44.12 L399.70 44.00 L400.20 43.89 L400.70 43.77 L401.20 43.65 L401.70 43.54 L402.20 43.42 L402.70 43.30 L403.20 43.19 L403.70 43.07 L404.00 43.00 L404.20 42.95 L404.70 42.84 L405.20 42.72 L405.70 42.61 L406.20 42.49 L406.70 42.38 L407.20 42.27 L407.70 42.15 L408.20 42.04 L408.70 41.93 L409.20 41.82 L409.70 41.71 L410.20 41.60 L410.70 41.49 L411.20 41.38 L411.70 41.27 L412.20 41.16 L412.70 41.05 L413.20 40.94 L413.70 40.83 L414.20 40.73 L414.70 40.62 L415.20 40.51 L415.70 40.40 L416.20 40.30 L416.70 40.19 L417.20 40.08 L417.70 39.98 L418.20 39.87 L418.70 39.76 L419.20 39.66 L419.70 39.55 L420.20 39.45 L420.70 39.34 L421.20 39.23 L421.70 39.13 L422.20 39.02 L422.70 38.92 L423.20 38.81 L423.70 38.70 L424.20 38.60 L424.70 38.49 L425.20 38.38 L425.70 38.28 L426.20 38.17 L426.70 38.06 L427.00 38.00 L427.20 37.96 L427.70 37.85 L428.20 37.74 L428.70 37.62 L429.20 37.51 L429.70 37.39 L430.20 37.27 L430.70 37.15 L431.20 37.03 L431.70 36.91 L432.20 36.79 L432.70 36.67 L433.20 36.55 L433.70 36.43 L434.20 36.31 L434.70 36.19 L435.20 36.07 L435.70 35.95 L436.20 35.83 L436.70 35.72 L437.20 35.61 L437.70 35.50 L438.20 35.39 L438.70 35.29 L439.20 35.18 L439.70 35.08 L440.20 34.99 L440.70 34.90 L441.20 34.81 L441.70 34.73 L442.20 34.65 L442.70 34.57 L443.20 34.50 L443.70 34.44 L444.00 34.40 L444.20 34.38 L444.70 34.32 L445.20 34.26 L445.70 34.20 L446.20 34.14 L446.70 34.08 L447.20 34.02 L447.70 33.96 L448.20 33.90 L448.70 33.85 L449.20 33.79 L449.70 33.73 L450.20 33.68 L450.70 33.63 L451.20 33.58 L451.70 33.53 L452.20 33.48 L452.70 33.43 L453.20 33.38 L453.70 33.34 L454.20 33.30 L454.70 33.26 L455.20 33.22 L455.70 33.19 L456.20 33.16 L456.70 33.13 L457.20 33.10 L457.70 33.08 L458.20 33.06 L458.70 33.04 L459.20 33.02 L459.70 33.01 L460.20 33.00 L460.70 33.00 L461.00 33.00 L461.20 33.00 L461.70 33.00 L462.20 33.01 L462.70 33.01 L463.20 33.02 L463.70 33.03 L464.20 33.04 L464.70 33.05 L465.20 33.07 L465.70 33.09 L466.20 33.10 L466.70 33.13 L467.20 33.15 L467.70 33.17 L468.20 33.19 L468.70 33.22 L469.20 33.25 L469.70 33.28 L470.20 33.31 L470.70 33.34 L471.20 33.37 L471.70 33.41 L472.20 33.44 L472.70 33.48 L473.20 33.52 L473.70 33.56 L474.20 33.59 L474.70 33.63 L475.20 33.68 L475.70 33.72 L476.20 33.76 L476.70 33.81 L477.20 33.85 L477.70 33.89 L478.20 33.94 L478.70 33.99 L479.20 34.03 L479.70 34.08 L480.20 34.13 L480.70 34.18 L481.20 34.23 L481.70 34.28 L482.20 34.32 L482.70 34.37 L483.20 34.42 L483.70 34.47 L484.20 34.52 L484.70 34.57 L485.20 34.62 L485.70 34.67 L486.20 34.72 L486.70 34.77 L487.20 34.82 L487.70 34.87 L488.20 34.92 L488.70 34.97 L489.00 35.00 L489.20 35.02 L489.70 35.07 L490.20 35.12 L490.70 35.18 L491.20 35.23 L491.70 35.29 L492.20 35.35 L492.70 35.41 L493.20 35.47 L493.70 35.54 L494.20 35.60 L494.70 35.67 L495.20 35.74 L495.70 35.81 L496.20 35.88 L496.70 35.95 L497.20 36.03 L497.70 36.10 L498.20 36.18 L498.70 36.26 L499.20 36.34 L499.70 36.42 L500.20 36.50 L500.70 36.58 L501.20 36.66 L501.70 36.74 L502.20 36.83 L502.70 36.91 L503.20 36.99 L503.70 37.08 L504.20 37.17 L504.70 37.25 L505.20 37.34 L505.70 37.43 L506.20 37.51 L506.70 37.60 L507.20 37.69 L507.70 37.78 L508.20 37.86 L508.70 37.95 L509.20 38.04 L509.70 38.13 L510.20 38.22 L510.70 38.30 L511.20 38.39 L511.70 38.48 L512.20 38.57 L512.70 38.65 L513.20 38.74 L513.70 38.83 L514.20 38.91 L514.70 39.00 L515.20 39.08 L515.70 39.17 L516.20 39.25 L516.70 39.33 L517.20 39.41 L517.70 39.49 L518.20 39.57 L518.70 39.65 L519.20 39.73 L519.70 39.81 L520.20 39.88 L520.70 39.96 L521.00 40.00 L521.20 40.03 L521.70 40.10 L522.20 40.18 L522.70 40.25 L523.20 40.32 L523.70 40.39 L524.20 40.47 L524.70 40.54 L525.20 40.61 L525.70 40.69 L526.20 40.76 L526.70 40.83 L527.20 40.90 L527.70 40.98 L528.20 41.05 L528.70 41.12 L529.20 41.19 L529.70 41.26 L530.20 41.34 L530.70 41.41 L531.20 41.48 L531.70 41.55 L532.20 41.62 L532.70 41.69 L533.20 41.76 L533.70 41.84 L534.20 41.91 L534.70 41.98 L535.20 42.05 L535.70 42.12 L536.20 42.19 L536.70 42.26 L537.20 42.32 L537.70 42.39 L538.20 42.46 L538.70 42.53 L539.20 42.60 L539.70 42.67 L540.20 42.73 L540.70 42.80 L541.20 42.87 L541.70 42.94 L542.20 43.00 L542.70 43.07 L543.20 43.14 L543.70 43.20 L544.20 43.27 L544.70 43.33 L545.20 43.40 L545.70 43.46 L546.20 43.53 L546.70 43.59 L547.20 43.65 L547.70 43.72 L548.20 43.78 L548.70 43.84 L549.20 43.90 L549.70 43.96 L550.00 44.00 L550.20 44.02 L550.70 44.09 L551.20 44.15 L551.70 44.21 L552.20 44.27 L552.70 44.33 L553.20 44.39 L553.70 44.45 L554.20 44.51 L554.70 44.57 L555.20 44.63 L555.70 44.68 L556.20 44.74 L556.70 44.80 L557.20 44.86 L557.70 44.92 L558.20 44.97 L558.70 45.03 L559.20 45.09 L559.70 45.14 L560.20 45.20 L560.70 45.25 L561.20 45.31 L561.70 45.36 L562.20 45.42 L562.70 45.47 L563.20 45.52 L563.70 45.58 L564.20 45.63 L564.70 45.68 L565.20 45.73 L565.70 45.78 L566.20 45.83 L566.70 45.88 L567.20 45.92 L567.70 45.97 L568.00 46.00 L568.20 46.02 L568.70 46.07 L569.20 46.11 L569.70 46.16 L570.20 46.21 L570.70 46.26 L571.20 46.31 L571.70 46.36 L572.20 46.41 L572.70 46.46 L573.20 46.51 L573.70 46.55 L574.20 46.60 L574.70 46.65 L575.20 46.70 L575.70 46.75 L576.20 46.80 L576.70 46.84 L577.20 46.89 L577.70 46.94 L578.20 46.98 L578.70 47.02 L579.20 47.07 L579.70 47.11 L580.20 47.15 L580.70 47.19 L581.20 47.23 L581.70 47.27 L582.20 47.30 L582.70 47.34 L583.20 47.37 L583.70 47.40 L584.20 47.43 L584.70 47.46 L585.20 47.49 L585.70 47.51 L586.20 47.53 L586.70 47.56 L587.20 47.57 L587.70 47.59 L588.00 47.60 L588.20 47.61 L588.70 47.62 L589.20 47.63 L589.70 47.65 L590.20 47.66 L590.70 47.67 L591.20 47.69 L591.70 47.70 L592.20 47.71 L592.70 47.73 L593.20 47.74 L593.70 47.75 L594.20 47.76 L594.70 47.78 L595.20 47.79 L595.70 47.80 L596.20 47.81 L596.70 47.82 L597.20 47.83 L597.70 47.84 L598.20 47.85 L598.70 47.86 L599.20 47.87 L599.70 47.88 L600.20 47.89 L600.70 47.90 L601.20 47.91 L601.70 47.92 L602.20 47.92 L602.70 47.93 L603.20 47.94 L603.70 47.95 L604.20 47.95 L604.70 47.96 L605.20 47.96 L605.70 47.97 L606.20 47.97 L606.70 47.98 L607.20 47.98 L607.70 47.99 L608.20 47.99 L608.70 47.99 L609.20 47.99 L609.70 48.00 L610.20 48.00 L610.70 48.00 L611.20 48.00 L611.60 48.00 L611.70 48.00 L612.20 48.00 L612.70 48.00 L613.20 48.00 L613.70 48.00 L614.20 47.99 L614.70 47.99 L615.20 47.99 L615.70 47.99 L616.20 47.98 L616.70 47.98 L617.20 47.97 L617.70 47.97 L618.20 47.97 L618.70 47.96 L619.20 47.95 L619.70 47.95 L620.20 47.94 L620.70 47.94 L621.20 47.93 L621.70 47.92 L622.20 47.91 L622.70 47.91 L623.20 47.90 L623.70 47.89 L624.20 47.88 L624.70 47.88 L625.20 47.87 L625.70 47.86 L626.20 47.85 L626.70 47.84 L627.20 47.83 L627.70 47.82 L628.20 47.81 L628.70 47.80 L629.20 47.79 L629.70 47.78 L630.20 47.77 L630.70 47.76 L631.20 47.75 L631.70 47.74 L632.20 47.73 L632.70 47.72 L633.20 47.71 L633.70 47.70 L634.20 47.68 L634.70 47.67 L635.20 47.66 L635.70 47.65 L636.20 47.64 L636.70 47.63 L637.20 47.62 L637.70 47.61 L638.00 47.60 L638.20 47.60 L638.70 47.58 L639.20 47.57 L639.70 47.56 L640.20 47.55 L640.70 47.53 L641.20 47.52 L641.70 47.51 L642.20 47.49 L642.70 47.48 L643.20 47.46 L643.70 47.45 L644.20 47.43 L644.70 47.41 L645.20 47.40 L645.70 47.38 L646.20 47.36 L646.70 47.35 L647.20 47.33 L647.70 47.31 L648.20 47.29 L648.70 47.27 L649.20 47.25 L649.70 47.23 L650.20 47.21 L650.70 47.19 L651.20 47.17 L651.70 47.15 L652.20 47.13 L652.70 47.11 L653.20 47.08 L653.70 47.06 L654.20 47.04 L654.70 47.02 L655.20 46.99 L655.70 46.97 L656.20 46.95 L656.70 46.92 L657.20 46.90 L657.70 46.87 L658.20 46.85 L658.70 46.82 L659.20 46.80 L659.70 46.77 L660.20 46.74 L660.70 46.72 L661.20 46.69 L661.70 46.66 L662.20 46.64 L662.70 46.61 L663.20 46.58 L663.70 46.56 L664.20 46.53 L664.70 46.50 L665.20 46.47 L665.70 46.44 L666.20 46.41 L666.70 46.38 L667.20 46.35 L667.70 46.32 L668.20 46.30 L668.70 46.27 L669.20 46.23 L669.70 46.20 L670.20 46.17 L670.70 46.14 L671.20 46.11 L671.70 46.08 L672.20 46.05 L672.70 46.02 L673.00 46.00" stroke="#000" stroke-dasharray="8.0 8.3"/>
<path d="M58.70 53.50 L59.20 53.52 L59.70 53.54 L60.20 53.57 L60.70 53.59 L61.20 53.61 L61.70 53.63 L62.20 53.65 L62.70 53.67 L63.20 53.69 L63.70 53.71 L64.20 53.73 L64.70 53.75 L65.20 53.77 L65.70 53.79 L66.20 53.81 L66.70 53.82 L67.20 53.84 L67.70 53.86 L68.20 53.87 L68.70 53.89 L69.20 53.90 L69.70 53.91 L70.20 53.93 L70.70 53.94 L71.20 53.95 L71.70 53.96 L72.20 53.97 L72.70 53.97 L73.20 53.98 L73.70 53.99 L74.20 53.99 L74.70 54.00 L75.20 54.00 L75.70 54.00 L76.00 54.00 L76.20 54.00 L76.70 54.00 L77.20 54.00 L77.70 54.00 L78.20 53.99 L78.70 53.99 L79.20 53.99 L79.70 53.98 L80.20 53.98 L80.70 53.97 L81.20 53.97 L81.70 53.96 L82.20 53.96 L82.70 53.95 L83.20 53.94 L83.70 53.93 L84.20 53.93 L84.70 53.92 L85.20 53.91 L85.70 53.90 L86.20 53.89 L86.70 53.88 L87.20 53.87 L87.70 53.86 L88.20 53.85 L88.70 53.83 L89.20 53.82 L89.70 53.81 L90.20 53.80 L90.70 53.79 L91.20 53.77 L91.70 53.76 L92.20 53.75 L92.70 53.73 L93.20 53.72 L93.70 53.71 L94.20 53.69 L94.70 53.68 L95.20 53.67 L95.70 53.65 L96.20 53.64 L96.70 53.62 L97.20 53.61 L97.70 53.60 L98.20 53.58 L98.70 53.57 L99.20 53.55 L99.70 53.54 L100.20 53.53 L100.70 53.51 L101.20 53.50 L101.70 53.48 L102.20 53.47 L102.70 53.46 L103.20 53.44 L103.70 53.43 L104.20 53.42 L104.70 53.40 L105.20 53.39 L105.70 53.38 L106.20 53.37 L106.70 53.36 L107.20 53.34 L107.70 53.33 L108.20 53.32 L108.70 53.31 L109.20 53.30 L109.70 53.29 L110.20 53.28 L110.70 53.27 L111.20 53.26 L111.70 53.25 L112.20 53.24 L112.70 53.23 L113.20 53.22 L113.70 53.22 L114.20 53.21 L114.70 53.20 L115.00 53.20 L115.20 53.20 L115.70 53.19 L116.20 53.19 L116.70 53.18 L117.20 53.18 L117.70 53.17 L118.20 53.17 L118.70 53.16 L119.20 53.16 L119.70 53.15 L120.20 53.15 L120.70 53.14 L121.20 53.14 L121.70 53.13 L122.20 53.13 L122.70 53.13 L123.20 53.12 L123.70 53.12 L124.20 53.11 L124.70 53.11 L125.20 53.11 L125.70 53.10 L126.20 53.10 L126.70 53.10 L127.20 53.09 L127.70 53.09 L128.20 53.09 L128.70 53.08 L129.20 53.08 L129.70 53.08 L130.20 53.08 L130.70 53.07 L131.20 53.07 L131.70 53.07 L132.20 53.06 L132.70 53.06 L133.20 53.06 L133.70 53.05 L134.20 53.05 L134.70 53.05 L135.20 53.04 L135.70 53.04 L136.20 53.04 L136.70 53.03 L137.20 53.03 L137.70 53.03 L138.20 53.02 L138.70 53.02 L139.20 53.02 L139.70 53.01 L140.20 53.01 L140.70 53.00 L141.20 53.00 L141.70 52.99 L142.20 52.99 L142.70 52.99 L143.20 52.98 L143.70 52.98 L144.20 52.97 L144.70 52.97 L145.20 52.96 L145.70 52.96 L146.20 52.95 L146.70 52.94 L147.20 52.94 L147.70 52.93 L148.20 52.92 L148.70 52.92 L149.20 52.91 L149.70 52.90 L150.00 52.90 L150.20 52.90 L150.70 52.89 L151.20 52.88 L151.70 52.87 L152.20 52.86 L152.70 52.85 L153.20 52.84 L153.70 52.82 L154.20 52.81 L154.70 52.80 L155.20 52.78 L155.70 52.77 L156.20 52.75 L156.70 52.73 L157.20 52.72 L157.70 52.70 L158.20 52.68 L158.70 52.66 L159.20 52.64 L159.70 52.62 L160.20 52.60 L160.70 52.58 L161.20 52.56 L161.70 52.54 L162.20 52.52 L162.70 52.49 L163.20 52.47 L163.70 52.45 L164.20 52.42 L164.70 52.40 L165.20 52.37 L165.70 52.35 L166.20 52.32 L166.70 52.30 L167.20 52.27 L167.70 52.25 L168.20 52.22 L168.70 52.20 L169.20 52.17 L169.70 52.14 L170.20 52.12 L170.70 52.09 L171.20 52.06 L171.70 52.04 L172.20 52.01 L172.70 51.98 L173.20 51.96 L173.70 51.93 L174.20 51.90 L174.70 51.88 L175.20 51.85 L175.70 51.82 L176.20 51.80 L176.70 51.77 L177.20 51.74 L177.70 51.72 L178.20 51.69 L178.70 51.67 L179.20 51.64 L179.70 51.62 L180.00 51.60 L180.20 51.59 L180.70 51.56 L181.20 51.54 L181.70 51.51 L182.20 51.49 L182.70 51.46 L183.20 51.44 L183.70 51.41 L184.20 51.38 L184.70 51.36 L185.20 51.33 L185.70 51.30 L186.20 51.28 L186.70 51.25 L187.20 51.22 L187.70 51.19 L188.20 51.17 L188.70 51.14 L189.20 51.11 L189.70 51.08 L190.20 51.05 L190.70 51.03 L191.20 51.00 L191.70 50.97 L192.20 50.94 L192.70 50.91 L193.20 50.88 L193.70 50.85 L194.20 50.82 L194.70 50.79 L195.20 50.76 L195.70 50.73 L196.20 50.70 L196.70 50.67 L197.20 50.64 L197.70 50.61 L198.20 50.58 L198.70 50.55 L199.20 50.51 L199.70 50.48 L200.20 50.45 L200.70 50.42 L201.20 50.39 L201.70 50.35 L202.20 50.32 L202.70 50.29 L203.20 50.26 L203.70 50.22 L204.20 50.19 L204.70 50.16 L205.20 50.12 L205.70 50.09 L206.20 50.05 L206.70 50.02 L207.00 50.00 L207.20 49.99 L207.70 49.95 L208.20 49.92 L208.70 49.88 L209.20 49.84 L209.70 49.81 L210.20 49.77 L210.70 49.73 L211.20 49.70 L211.70 49.66 L212.20 49.62 L212.70 49.58 L213.20 49.54 L213.70 49.50 L214.20 49.46 L214.70 49.42 L215.20 49.38 L215.70 49.34 L216.20 49.30 L216.70 49.26 L217.20 49.22 L217.70 49.18 L218.20 49.14 L218.70 49.10 L219.20 49.06 L219.70 49.01 L220.20 48.97 L220.70 48.93 L221.20 48.89 L221.70 48.85 L222.20 48.80 L222.70 48.76 L223.20 48.72 L223.70 48.68 L224.20 48.64 L224.70 48.59 L225.20 48.55 L225.70 48.51 L226.20 48.47 L226.70 48.43 L227.00 48.40 L227.20 48.38 L227.70 48.34 L228.20 48.30 L228.70 48.26 L229.20 48.22 L229.70 48.18 L230.20 48.14 L230.70 48.09 L231.20 48.05 L231.70 48.01 L232.20 47.97 L232.70 47.93 L233.20 47.89 L233.70 47.85 L234.20 47.80 L234.70 47.76 L235.20 47.72 L235.70 47.68 L236.20 47.63 L236.70 47.59 L237.20 47.55 L237.70 47.50 L238.20 47.46 L238.70 47.41 L239.20 47.37 L239.70 47.32 L240.20 47.27 L240.70 47.23 L241.20 47.18 L241.70 47.13 L242.20 47.08 L242.70 47.03 L243.00 47.00 L243.20 46.98 L243.70 46.93 L244.20 46.87 L244.70 46.82 L245.20 46.76 L245.70 46.71 L246.20 46.65 L246.70 46.59 L247.20 46.53 L247.70 46.47 L248.20 46.41 L248.70 46.35 L249.20 46.29 L249.70 46.22 L250.20 46.16 L250.70 46.10 L251.20 46.03 L251.70 45.97 L252.20 45.90 L252.70 45.83 L253.20 45.77 L253.70 45.70 L254.20 45.63 L254.70 45.57 L255.20 45.50 L255.70 45.43 L256.20 45.37 L256.70 45.30 L257.20 45.23 L257.70 45.16 L258.20 45.10 L258.70 45.03 L259.20 44.96 L259.70 44.90 L260.20 44.83 L260.70 44.77 L261.20 44.70 L261.70 44.64 L262.20 44.57 L262.70 44.51 L263.20 44.45 L263.70 44.39 L264.20 44.33 L264.70 44.27 L265.20 44.21 L265.70 44.15 L266.20 44.09 L266.70 44.03 L267.00 44.00 L267.20 43.98 L267.70 43.92 L268.20 43.87 L268.70 43.82 L269.20 43.76 L269.70 43.71 L270.20 43.66 L270.70 43.61 L271.20 43.56 L271.70 43.51 L272.20 43.46 L272.70 43.41 L273.20 43.36 L273.70 43.31 L274.20 43.26 L274.70 43.21 L275.20 43.17 L275.70 43.12 L276.20 43.07 L276.70 43.02 L277.20 42.97 L277.70 42.93 L278.20 42.88 L278.70 42.83 L279.20 42.78 L279.70 42.74 L280.20 42.69 L280.70 42.64 L281.20 42.59 L281.70 42.54 L282.20 42.49 L282.70 42.44 L283.20 42.39 L283.70 42.34 L284.20 42.29 L284.70 42.24 L285.20 42.19 L285.70 42.14 L286.20 42.09 L286.70 42.03 L287.00 42.00 L287.20 41.98 L287.70 41.92 L288.20 41.87 L288.70 41.81 L289.20 41.76 L289.70 41.71 L290.20 41.65 L290.70 41.59 L291.20 41.54 L291.70 41.48 L292.20 41.43 L292.70 41.37 L293.20 41.31 L293.70 41.26 L294.20 41.20 L294.70 41.14 L295.20 41.08 L295.70 41.03 L296.20 40.97 L296.70 40.91 L297.20 40.85 L297.70 40.79 L298.20 40.73 L298.70 40.67 L299.20 40.61 L299.70 40.55 L300.20 40.48 L300.70 40.42 L301.20 40.36 L301.70 40.30 L302.20 40.23 L302.70 40.17 L303.20 40.10 L303.70 40.04 L304.00 40.00 L304.20 39.97 L304.70 39.91 L305.20 39.84 L305.70 39.77 L306.20 39.70 L306.70 39.63 L307.20 39.56 L307.70 39.48 L308.20 39.41 L308.70 39.34 L309.20 39.26 L309.70 39.19 L310.20 39.11 L310.70 39.03 L311.20 38.96 L311.70 38.88 L312.20 38.80 L312.70 38.72 L313.20 38.65 L313.70 38.57 L314.20 38.49 L314.70 38.41 L315.20 38.33 L315.70 38.25 L316.20 38.17 L316.70 38.09 L317.20 38.02 L317.70 37.94 L318.20 37.86 L318.70 37.78 L319.20 37.71 L319.70 37.63 L320.20 37.55 L320.70 37.48 L321.20 37.40 L321.70 37.33 L322.20 37.26 L322.70 37.18 L323.20 37.11 L323.70 37.04 L324.00 37.00 L324.20 36.97 L324.70 36.90 L325.20 36.83 L325.70 36.77 L326.20 36.70 L326.70 36.63 L327.20 36.57 L327.70 36.50 L328.20 36.44 L328.70 36.37 L329.20 36.31 L329.70 36.24 L330.20 36.18 L330.70 36.12 L331.20 36.05 L331.70 35.99 L332.20 35.93 L332.70 35.87 L333.20 35.80 L333.70 35.74 L334.20 35.68 L334.70 35.62 L335.20 35.55 L335.70 35.49 L336.20 35.43 L336.70 35.37 L337.20 35.30 L337.70 35.24 L338.20 35.18 L338.70 35.11 L339.20 35.05 L339.70 34.98 L340.20 34.92 L340.70 34.85 L341.20 34.78 L341.70 34.72 L342.20 34.65 L342.70 34.58 L343.20 34.51 L343.70 34.44 L344.00 34.40 L344.20 34.37 L344.70 34.30 L345.20 34.23 L345.70 34.15 L346.20 34.08 L346.70 34.00 L347.20 33.93 L347.70 33.85 L348.20 33.77 L348.70 33.69 L349.20 33.61 L349.70 33.53 L350.20 33.45 L350.70 33.37 L351.20 33.29 L351.70 33.21 L352.20 33.13 L352.70 33.04 L353.20 32.96 L353.70 32.88 L354.20 32.80 L354.70 32.72 L355.20 32.63 L355.70 32.55 L356.20 32.47 L356.70 32.39 L357.20 32.31 L357.70 32.23 L358.20 32.15 L358.70 32.07 L359.20 31.99 L359.70 31.91 L360.20 31.83 L360.70 31.75 L361.20 31.68 L361.70 31.60 L362.20 31.53 L362.70 31.45 L363.20 31.38 L363.70 31.31 L364.20 31.24 L364.70 31.17 L365.20 31.10 L365.70 31.04 L366.00 31.00 L366.20 30.97 L366.70 30.91 L367.20 30.85 L367.70 30.78 L368.20 30.72 L368.70 30.65 L369.20 30.59 L369.70 30.52 L370.20 30.46 L370.70 30.40 L371.20 30.33 L371.70 30.27 L372.20 30.21 L372.70 30.14 L373.20 30.08 L373.70 30.02 L374.20 29.96 L374.70 29.90 L375.20 29.84 L375.70 29.79 L376.20 29.73 L376.70 29.67 L377.20 29.62 L377.70 29.56 L378.20 29.51 L378.70 29.46 L379.20 29.41 L379.70 29.36 L380.20 29.31 L380.70 29.27 L381.20 29.22 L381.70 29.18 L382.20 29.14 L382.70 29.10 L383.20 29.06 L383.70 29.02 L384.00 29.00 L384.20 28.99 L384.70 28.95 L385.20 28.92 L385.70 28.88 L386.20 28.85 L386.70 28.81 L387.20 28.77 L387.70 28.74 L388.20 28.70 L388.70 28.67 L389.20 28.63 L389.70 28.60 L390.20 28.57 L390.70 28.53 L391.20 28.50 L391.70 28.47 L392.20 28.44 L392.70 28.40 L393.20 28.37 L393.70 28.34 L394.20 28.31 L394.70 28.29 L395.20 28.26 L395.70 28.23 L396.20 28.21 L396.70 28.18 L397.20 28.16 L397.70 28.14 L398.20 28.12 L398.70 28.10 L399.20 28.08 L399.70 28.07 L400.20 28.05 L400.70 28.04 L401.20 28.03 L401.70 28.02 L402.20 28.01 L402.70 28.01 L403.20 28.00 L403.70 28.00 L404.00 28.00 L404.20 28.00 L404.70 28.00 L405.20 28.00 L405.70 28.00 L406.20 28.00 L406.70 28.00 L407.20 28.00 L407.70 28.00 L408.20 28.00 L408.70 28.00 L409.20 28.00 L409.70 28.00 L410.20 28.00 L410.70 28.00 L411.20 28.00 L411.70 28.00 L412.20 28.00 L412.70 28.00 L413.20 28.00 L413.70 28.00 L414.20 28.00 L414.70 28.00 L415.20 28.00 L415.70 28.00 L416.20 28.00 L416.70 28.00 L417.20 28.00 L417.70 28.00 L418.20 28.00 L418.70 28.00 L419.20 28.00 L419.70 28.00 L420.20 28.00 L420.70 28.00 L421.20 28.00 L421.70 28.00 L422.20 28.00 L422.70 28.00 L423.20 28.00 L423.70 28.00 L424.20 28.00 L424.70 28.00 L425.20 28.00 L425.70 28.00 L426.20 28.00 L426.70 28.00 L427.00 28.00 L427.20 28.00 L427.70 28.00 L428.20 28.01 L428.70 28.02 L429.20 28.03 L429.70 28.04 L430.20 28.05 L430.70 28.07 L431.20 28.09 L431.70 28.11 L432.20 28.13 L432.70 28.16 L433.20 28.18 L433.70 28.21 L434.20 28.24 L434.70 28.27 L435.20 28.30 L435.70 28.33 L436.20 28.37 L436.70 28.41 L437.20 28.44 L437.70 28.48 L438.20 28.52 L438.70 28.56 L439.20 28.60 L439.70 28.64 L440.20 28.68 L440.70 28.72 L441.20 28.76 L441.70 28.81 L442.20 28.85 L442.70 28.89 L443.20 28.93 L443.70 28.97 L444.00 29.00 L444.20 29.02 L444.70 29.06 L445.20 29.11 L445.70 29.16 L446.20 29.22 L446.70 29.28 L447.20 29.34 L447.70 29.40 L448.20 29.47 L448.70 29.54 L449.20 29.61 L449.70 29.68 L450.20 29.75 L450.70 29.83 L451.20 29.91 L451.70 29.99 L452.20 30.07 L452.70 30.15 L453.20 30.23 L453.70 30.31 L454.20 30.40 L454.70 30.48 L455.20 30.57 L455.70 30.65 L456.20 30.73 L456.70 30.82 L457.20 30.90 L457.70 30.98 L458.20 31.06 L458.70 31.15 L459.20 31.22 L459.70 31.30 L460.20 31.38 L460.70 31.46 L461.00 31.50 L461.20 31.53 L461.70 31.60 L462.20 31.67 L462.70 31.75 L463.20 31.82 L463.70 31.89 L464.20 31.96 L464.70 32.03 L465.20 32.10 L465.70 32.17 L466.20 32.24 L466.70 32.31 L467.20 32.37 L467.70 32.44 L468.20 32.51 L468.70 32.58 L469.20 32.65 L469.70 32.72 L470.20 32.78 L470.70 32.85 L471.20 32.92 L471.70 32.99 L472.20 33.06 L472.70 33.12 L473.20 33.19 L473.70 33.26 L474.20 33.33 L474.70 33.40 L475.20 33.47 L475.70 33.54 L476.20 33.61 L476.70 33.68 L477.20 33.75 L477.70 33.82 L478.20 33.89 L478.70 33.96 L479.20 34.03 L479.70 34.11 L480.20 34.18 L480.70 34.25 L481.20 34.33 L481.70 34.40 L482.20 34.48 L482.70 34.56 L483.20 34.63 L483.70 34.71 L484.20 34.79 L484.70 34.87 L485.20 34.95 L485.70 35.03 L486.20 35.12 L486.70 35.20 L487.20 35.29 L487.70 35.37 L488.20 35.46 L488.70 35.55 L489.00 35.60 L489.20 35.64 L489.70 35.73 L490.20 35.82 L490.70 35.91 L491.20 36.01 L491.70 36.11 L492.20 36.21 L492.70 36.31 L493.20 36.41 L493.70 36.51 L494.20 36.62 L494.70 36.73 L495.20 36.83 L495.70 36.94 L496.20 37.05 L496.70 37.16 L497.20 37.28 L497.70 37.39 L498.20 37.51 L498.70 37.62 L499.20 37.74 L499.70 37.86 L500.20 37.97 L500.70 38.09 L501.20 38.21 L501.70 38.33 L502.20 38.45 L502.70 38.58 L503.20 38.70 L503.70 38.82 L504.20 38.94 L504.70 39.07 L505.20 39.19 L505.70 39.31 L506.20 39.44 L506.70 39.56 L507.20 39.69 L507.70 39.81 L508.20 39.94 L508.70 40.06 L509.20 40.19 L509.70 40.31 L510.20 40.44 L510.70 40.56 L511.20 40.69 L511.70 40.81 L512.20 40.93 L512.70 41.06 L513.20 41.18 L513.70 41.30 L514.20 41.42 L514.70 41.54 L515.20 41.66 L515.70 41.78 L516.20 41.90 L516.70 42.02 L517.20 42.14 L517.70 42.26 L518.20 42.37 L518.70 42.49 L519.20 42.60 L519.70 42.71 L520.20 42.82 L520.70 42.93 L521.00 43.00 L521.20 43.04 L521.70 43.15 L522.20 43.26 L522.70 43.37 L523.20 43.47 L523.70 43.58 L524.20 43.68 L524.70 43.78 L525.20 43.89 L525.70 43.99 L526.20 44.09 L526.70 44.19 L527.20 44.29 L527.70 44.39 L528.20 44.49 L528.70 44.59 L529.20 44.69 L529.70 44.79 L530.20 44.89 L530.70 44.98 L531.20 45.08 L531.70 45.18 L532.20 45.28 L532.70 45.37 L533.20 45.47 L533.70 45.57 L534.20 45.67 L534.70 45.76 L535.20 45.86 L535.70 45.96 L536.20 46.06 L536.70 46.16 L537.20 46.26 L537.70 46.35 L538.20 46.45 L538.70 46.55 L539.20 46.65 L539.70 46.75 L540.20 46.86 L540.70 46.96 L541.20 47.06 L541.70 47.16 L542.20 47.27 L542.70 47.37 L543.20 47.48 L543.70 47.58 L544.20 47.69 L544.70 47.80 L545.20 47.90 L545.70 48.01 L546.20 48.12 L546.70 48.24 L547.20 48.35 L547.70 48.46 L548.20 48.58 L548.70 48.69 L549.20 48.81 L549.70 48.93 L550.00 49.00 L550.20 49.05 L550.70 49.17 L551.20 49.29 L551.70 49.42 L552.20 49.55 L552.70 49.68 L553.20 49.81 L553.70 49.95 L554.20 50.08 L554.70 50.22 L555.20 50.36 L555.70 50.50 L556.20 50.64 L556.70 50.78 L557.20 50.93 L557.70 51.07 L558.20 51.21 L558.70 51.36 L559.20 51.51 L559.70 51.65 L560.20 51.80 L560.70 51.94 L561.20 52.09 L561.70 52.23 L562.20 52.38 L562.70 52.52 L563.20 52.67 L563.70 52.81 L564.20 52.95 L564.70 53.10 L565.20 53.24 L565.70 53.38 L566.20 53.51 L566.70 53.65 L567.20 53.79 L567.70 53.92 L568.00 54.00 L568.20 54.05 L568.70 54.18 L569.20 54.31 L569.70 54.44 L570.20 54.57 L570.70 54.70 L571.20 54.83 L571.70 54.96 L572.20 55.08 L572.70 55.21 L573.20 55.34 L573.70 55.46 L574.20 55.59 L574.70 55.71 L575.20 55.84 L575.70 55.96 L576.20 56.08 L576.70 56.21 L577.20 56.33 L577.70 56.45 L578.20 56.58 L578.70 56.70 L579.20 56.82 L579.70 56.95 L580.20 57.07 L580.70 57.19 L581.20 57.31 L581.70 57.44 L582.20 57.56 L582.70 57.68 L583.20 57.81 L583.70 57.93 L584.20 58.05 L584.70 58.18 L585.20 58.30 L585.70 58.42 L586.20 58.55 L586.70 58.67 L587.20 58.80 L587.70 58.92 L588.00 59.00 L588.20 59.05 L588.70 59.18 L589.20 59.30 L589.70 59.43 L590.20 59.55 L590.70 59.68 L591.20 59.81 L591.70 59.93 L592.20 60.06 L592.70 60.18 L593.20 60.31 L593.70 60.44 L594.20 60.56 L594.70 60.69 L595.20 60.81 L595.70 60.94 L596.20 61.07 L596.70 61.19 L597.20 61.32 L597.70 61.45 L598.20 61.57 L598.70 61.70 L599.20 61.83 L599.70 61.95 L600.20 62.08 L600.70 62.21 L601.20 62.33 L601.70 62.46 L602.20 62.59 L602.70 62.71 L603.20 62.84 L603.70 62.97 L604.20 63.10 L604.70 63.22 L605.20 63.35 L605.70 63.48 L606.20 63.61 L606.70 63.74 L607.20 63.86 L607.70 63.99 L608.20 64.12 L608.70 64.25 L609.20 64.38 L609.70 64.51 L610.20 64.64 L610.70 64.77 L611.20 64.90 L611.60 65.00 L611.70 65.03 L612.20 65.16 L612.70 65.29 L613.20 65.41 L613.70 65.54 L614.20 65.67 L614.70 65.80 L615.20 65.93 L615.70 66.06 L616.20 66.19 L616.70 66.32 L617.20 66.45 L617.70 66.58 L618.20 66.71 L618.70 66.83 L619.20 66.96 L619.70 67.09 L620.20 67.22 L620.70 67.35 L621.20 67.48 L621.70 67.61 L622.20 67.74 L622.70 67.87 L623.20 68.00 L623.70 68.13 L624.20 68.26 L624.70 68.39 L625.20 68.52 L625.70 68.65 L626.20 68.79 L626.70 68.92 L627.20 69.05 L627.70 69.18 L628.20 69.31 L628.70 69.45 L629.20 69.58 L629.70 69.72 L630.20 69.85 L630.70 69.98 L631.20 70.12 L631.70 70.25 L632.20 70.39 L632.70 70.53 L633.20 70.66 L633.70 70.80 L634.20 70.94 L634.70 71.07 L635.20 71.21 L635.70 71.35 L636.20 71.49 L636.70 71.63 L637.20 71.77 L637.70 71.91 L638.00 72.00 L638.20 72.06 L638.70 72.20 L639.20 72.33 L639.70 72.47 L640.20 72.60 L640.70 72.74 L641.20 72.87 L641.70 73.01 L642.20 73.14 L642.70 73.28 L643.20 73.42 L643.70 73.56 L644.20 73.71 L644.70 73.86 L645.20 74.02 L645.70 74.18 L646.20 74.34 L646.70 74.52 L647.20 74.70 L647.70 74.88 L648.00 75.00 L648.20 75.08 L648.70 75.29 L649.20 75.52 L649.70 75.77 L650.20 76.04 L650.70 76.31 L651.20 76.60 L651.70 76.90 L652.20 77.20 L652.70 77.52 L653.20 77.84 L653.70 78.16 L654.20 78.49 L654.70 78.82 L655.20 79.15 L655.70 79.47 L656.20 79.80 L656.70 80.12 L657.20 80.43 L657.70 80.74 L658.20 81.03 L658.70 81.32 L659.20 81.59 L659.70 81.85 L660.00 82.00 L660.20 82.10 L660.70 82.34 L661.20 82.58 L661.70 82.81 L662.20 83.05 L662.70 83.28 L663.20 83.51 L663.70 83.74 L664.20 83.96 L664.70 84.18 L665.20 84.40 L665.70 84.62 L666.20 84.83 L666.70 85.04 L667.20 85.25 L667.70 85.45 L668.20 85.65 L668.70 85.85 L669.20 86.04 L669.70 86.23 L670.20 86.42 L670.70 86.60 L671.20 86.78 L671.70 86.96 L672.20 87.13 L672.70 87.30 L673.00 87.40" stroke="#000" stroke-dasharray="9.2 2.7 2.1 2.7"/>
<path d="M58.70 53.20 L59.20 53.22 L59.70 53.23 L60.20 53.25 L60.70 53.26 L61.20 53.28 L61.70 53.29 L62.20 53.31 L62.70 53.33 L63.20 53.34 L63.70 53.36 L64.20 53.38 L64.70 53.40 L65.20 53.41 L65.70 53.43 L66.20 53.45 L66.70 53.47 L67.20 53.48 L67.70 53.50 L68.20 53.52 L68.70 53.54 L69.20 53.56 L69.70 53.58 L70.20 53.60 L70.70 53.61 L71.20 53.63 L71.70 53.65 L72.20 53.67 L72.70 53.69 L73.20 53.71 L73.70 53.73 L74.20 53.75 L74.70 53.77 L75.20 53.79 L75.70 53.81 L76.20 53.84 L76.70 53.86 L77.20 53.88 L77.70 53.90 L78.20 53.92 L78.70 53.94 L79.20 53.96 L79.70 53.99 L80.00 54.00 L80.20 54.01 L80.70 54.03 L81.20 54.05 L81.70 54.08 L82.20 54.10 L82.70 54.12 L83.20 54.15 L83.70 54.17 L84.20 54.20 L84.70 54.22 L85.20 54.24 L85.70 54.27 L86.20 54.29 L86.70 54.32 L87.20 54.35 L87.70 54.37 L88.20 54.40 L88.70 54.42 L89.20 54.45 L89.70 54.48 L90.20 54.50 L90.70 54.53 L91.20 54.56 L91.70 54.58 L92.20 54.61 L92.70 54.64 L93.20 54.67 L93.70 54.69 L94.20 54.72 L94.70 54.75 L95.20 54.78 L95.70 54.81 L96.20 54.84 L96.70 54.87 L97.20 54.89 L97.70 54.92 L98.20 54.95 L98.70 54.98 L99.20 55.01 L99.70 55.04 L100.20 55.07 L100.70 55.10 L101.20 55.13 L101.70 55.16 L102.20 55.19 L102.70 55.22 L103.20 55.25 L103.70 55.28 L104.20 55.31 L104.70 55.34 L105.20 55.37 L105.70 55.40 L106.20 55.44 L106.70 55.47 L107.20 55.50 L107.70 55.53 L108.20 55.56 L108.70 55.59 L109.20 55.62 L109.70 55.65 L110.20 55.68 L110.70 55.72 L111.20 55.75 L111.70 55.78 L112.20 55.81 L112.70 55.84 L113.20 55.87 L113.70 55.90 L114.20 55.94 L114.70 55.97 L115.20 56.00 L115.70 56.03 L116.20 56.06 L116.70 56.09 L117.20 56.12 L117.70 56.16 L118.20 56.19 L118.70 56.22 L119.20 56.25 L119.70 56.28 L120.00 56.30 L120.20 56.31 L120.70 56.34 L121.20 56.38 L121.70 56.41 L122.20 56.44 L122.70 56.47 L123.20 56.50 L123.70 56.53 L124.20 56.56 L124.70 56.60 L125.20 56.63 L125.70 56.66 L126.20 56.69 L126.70 56.72 L127.20 56.76 L127.70 56.79 L128.20 56.82 L128.70 56.85 L129.20 56.88 L129.70 56.92 L130.20 56.95 L130.70 56.98 L131.20 57.01 L131.70 57.05 L132.20 57.08 L132.70 57.11 L133.20 57.14 L133.70 57.18 L134.20 57.21 L134.70 57.24 L135.20 57.28 L135.70 57.31 L136.20 57.34 L136.70 57.37 L137.20 57.41 L137.70 57.44 L138.20 57.47 L138.70 57.51 L139.20 57.54 L139.70 57.57 L140.20 57.61 L140.70 57.64 L141.20 57.67 L141.70 57.71 L142.20 57.74 L142.70 57.77 L143.20 57.81 L143.70 57.84 L144.20 57.88 L144.70 57.91 L145.20 57.94 L145.70 57.98 L146.20 58.01 L146.70 58.05 L147.20 58.08 L147.70 58.11 L148.20 58.15 L148.70 58.18 L149.20 58.22 L149.70 58.25 L150.20 58.29 L150.70 58.32 L151.20 58.35 L151.70 58.39 L152.20 58.42 L152.70 58.46 L153.20 58.49 L153.70 58.53 L154.20 58.56 L154.70 58.60 L155.20 58.63 L155.70 58.67 L156.20 58.70 L156.70 58.74 L157.20 58.77 L157.70 58.81 L158.20 58.85 L158.70 58.88 L159.20 58.92 L159.70 58.95 L160.20 58.99 L160.70 59.02 L161.20 59.06 L161.70 59.10 L162.20 59.13 L162.70 59.17 L163.20 59.20 L163.70 59.24 L164.20 59.28 L164.70 59.31 L165.20 59.35 L165.70 59.39 L166.20 59.42 L166.70 59.46 L167.20 59.49 L167.70 59.53 L168.20 59.57 L168.70 59.60 L169.20 59.64 L169.70 59.68 L170.20 59.72 L170.70 59.75 L171.20 59.79 L171.70 59.83 L172.20 59.86 L172.70 59.90 L173.20 59.94 L173.70 59.98 L174.20 60.01 L174.70 60.05 L175.20 60.09 L175.70 60.13 L176.20 60.17 L176.70 60.20 L177.20 60.24 L177.70 60.28 L178.20 60.32 L178.70 60.36 L179.20 60.39 L179.70 60.43 L180.20 60.47 L180.70 60.51 L181.20 60.55 L181.70 60.59 L182.20 60.62 L182.70 60.66 L183.20 60.70 L183.70 60.74 L184.20 60.78 L184.70 60.82 L185.20 60.86 L185.70 60.90 L186.20 60.94 L186.70 60.98 L187.00 61.00 L187.20 61.02 L187.70 61.06 L188.20 61.10 L188.70 61.14 L189.20 61.18 L189.70 61.22 L190.20 61.26 L190.70 61.30 L191.20 61.34 L191.70 61.38 L192.20 61.43 L192.70 61.47 L193.20 61.51 L193.70 61.55 L194.20 61.60 L194.70 61.64 L195.20 61.68 L195.70 61.73 L196.20 61.77 L196.70 61.82 L197.20 61.86 L197.70 61.90 L198.20 61.95 L198.70 61.99 L199.20 62.04 L199.70 62.08 L200.20 62.13 L200.70 62.18 L201.20 62.22 L201.70 62.27 L202.20 62.31 L202.70 62.36 L203.20 62.41 L203.70 62.45 L204.20 62.50 L204.70 62.55 L205.20 62.59 L205.70 62.64 L206.20 62.69 L206.70 62.73 L207.20 62.78 L207.70 62.83 L208.20 62.87 L208.70 62.92 L209.20 62.97 L209.70 63.02 L210.20 63.06 L210.70 63.11 L211.20 63.16 L211.70 63.21 L212.20 63.25 L212.70 63.30 L213.20 63.35 L213.70 63.40 L214.20 63.45 L214.70 63.49 L215.20 63.54 L215.70 63.59 L216.20 63.64 L216.70 63.68 L217.20 63.73 L217.70 63.78 L218.20 63.83 L218.70 63.87 L219.20 63.92 L219.70 63.97 L220.20 64.02 L220.70 64.06 L221.20 64.11 L221.70 64.16 L222.20 64.20 L222.70 64.25 L223.20 64.30 L223.70 64.34 L224.20 64.39 L224.70 64.44 L225.20 64.48 L225.70 64.53 L226.20 64.57 L226.70 64.62 L227.20 64.67 L227.70 64.71 L228.20 64.76 L228.70 64.80 L229.20 64.85 L229.70 64.89 L230.20 64.94 L230.70 64.98 L231.20 65.03 L231.70 65.07 L232.20 65.11 L232.70 65.16 L233.20 65.20 L233.70 65.24 L234.20 65.29 L234.70 65.33 L235.20 65.37 L235.70 65.41 L236.20 65.46 L236.70 65.50 L237.20 65.54 L237.70 65.58 L238.20 65.62 L238.70 65.66 L239.20 65.70 L239.70 65.74 L240.20 65.78 L240.70 65.82 L241.20 65.86 L241.70 65.90 L242.20 65.94 L242.70 65.98 L243.00 66.00 L243.20 66.02 L243.70 66.05 L244.20 66.09 L244.70 66.13 L245.20 66.16 L245.70 66.20 L246.20 66.24 L246.70 66.27 L247.20 66.31 L247.70 66.34 L248.20 66.38 L248.70 66.41 L249.20 66.44 L249.70 66.48 L250.20 66.51 L250.70 66.54 L251.20 66.58 L251.70 66.61 L252.20 66.64 L252.70 66.67 L253.20 66.71 L253.70 66.74 L254.20 66.77 L254.70 66.80 L255.20 66.83 L255.70 66.86 L256.20 66.89 L256.70 66.92 L257.20 66.95 L257.70 66.98 L258.20 67.01 L258.70 67.04 L259.20 67.07 L259.70 67.10 L260.20 67.13 L260.70 67.16 L261.20 67.19 L261.70 67.22 L262.20 67.25 L262.70 67.28 L263.20 67.30 L263.70 67.33 L264.20 67.36 L264.70 67.39 L265.20 67.42 L265.70 67.45 L266.20 67.47 L266.70 67.50 L267.20 67.53 L267.70 67.56 L268.20 67.59 L268.70 67.62 L269.20 67.64 L269.70 67.67 L270.20 67.70 L270.70 67.73 L271.20 67.76 L271.70 67.78 L272.20 67.81 L272.70 67.84 L273.20 67.87 L273.70 67.90 L274.20 67.93 L274.70 67.95 L275.20 67.98 L275.70 68.01 L276.20 68.04 L276.70 68.07 L277.20 68.10 L277.70 68.13 L278.20 68.16 L278.70 68.19 L279.20 68.21 L279.70 68.24 L280.20 68.27 L280.70 68.30 L281.20 68.33 L281.70 68.36 L282.20 68.39 L282.70 68.43 L283.20 68.46 L283.70 68.49 L284.20 68.52 L284.70 68.55 L285.20 68.58 L285.70 68.61 L286.20 68.65 L286.70 68.68 L287.20 68.71 L287.70 68.74 L288.20 68.78 L288.70 68.81 L289.20 68.84 L289.70 68.88 L290.20 68.91 L290.70 68.95 L291.20 68.98 L291.70 69.02 L292.20 69.05 L292.70 69.09 L293.20 69.12 L293.70 69.16 L294.20 69.20 L294.70 69.23 L295.20 69.27 L295.70 69.31 L296.20 69.35 L296.70 69.39 L297.20 69.43 L297.70 69.47 L298.20 69.50 L298.70 69.55 L299.20 69.59 L299.70 69.63 L300.20 69.67 L300.70 69.71 L301.20 69.75 L301.70 69.80 L302.20 69.84 L302.70 69.88 L303.20 69.93 L303.70 69.97 L304.00 70.00 L304.20 70.02 L304.70 70.06 L305.20 70.11 L305.70 70.16 L306.20 70.21 L306.70 70.26 L307.20 70.31 L307.70 70.36 L308.20 70.41 L308.70 70.47 L309.20 70.52 L309.70 70.58 L310.20 70.63 L310.70 70.69 L311.20 70.75 L311.70 70.81 L312.20 70.87 L312.70 70.93 L313.20 70.99 L313.70 71.05 L314.20 71.11 L314.70 71.18 L315.20 71.24 L315.70 71.31 L316.20 71.37 L316.70 71.44 L317.20 71.51 L317.70 71.57 L318.20 71.64 L318.70 71.71 L319.20 71.78 L319.70 71.86 L320.20 71.93 L320.70 72.00 L321.20 72.07 L321.70 72.15 L322.20 72.22 L322.70 72.30 L323.20 72.38 L323.70 72.45 L324.00 72.50 L324.20 72.53 L324.70 72.61 L325.20 72.69 L325.70 72.77 L326.20 72.86 L326.70 72.94 L327.20 73.03 L327.70 73.12 L328.20 73.21 L328.70 73.30 L329.20 73.40 L329.70 73.49 L330.20 73.59 L330.70 73.69 L331.20 73.79 L331.70 73.89 L332.20 73.99 L332.70 74.10 L333.20 74.20 L333.70 74.31 L334.20 74.42 L334.70 74.53 L335.20 74.64 L335.70 74.76 L336.20 74.87 L336.70 74.99 L337.20 75.11 L337.70 75.23 L338.00 75.30 L338.20 75.35 L338.70 75.47 L339.20 75.60 L339.70 75.74 L340.20 75.88 L340.70 76.02 L341.20 76.16 L341.70 76.31 L342.20 76.46 L342.70 76.61 L343.20 76.76 L343.70 76.92 L344.20 77.08 L344.70 77.24 L345.20 77.40 L345.70 77.56 L346.20 77.72 L346.70 77.88 L347.20 78.04 L347.70 78.20 L348.00 78.30 L348.20 78.36 L348.70 78.52 L349.20 78.68 L349.70 78.84 L350.20 79.00 L350.70 79.16 L351.20 79.32 L351.70 79.47 L352.20 79.63 L352.70 79.79 L353.20 79.95 L353.70 80.11 L354.20 80.27 L354.70 80.43 L355.20 80.60 L355.70 80.76 L356.20 80.92 L356.70 81.09 L357.20 81.26 L357.70 81.43 L358.20 81.60 L358.70 81.77 L359.20 81.95 L359.70 82.12 L360.20 82.30 L360.70 82.49 L361.20 82.67 L361.70 82.86 L362.20 83.05 L362.70 83.24 L363.20 83.44 L363.70 83.64 L364.20 83.84 L364.70 84.05 L365.20 84.26 L365.70 84.47 L366.00 84.60 L366.20 84.69 L366.70 84.91 L367.20 85.14 L367.70 85.37 L368.20 85.61 L368.70 85.85 L369.20 86.10 L369.70 86.35 L370.20 86.60 L370.70 86.86 L371.20 87.12 L371.70 87.39 L372.20 87.66 L372.70 87.94 L373.20 88.22 L373.70 88.50 L374.20 88.79 L374.70 89.08 L375.20 89.37 L375.70 89.67 L376.20 89.97 L376.70 90.28 L377.20 90.58 L377.70 90.89 L378.20 91.20 L378.70 91.52 L379.20 91.84 L379.70 92.16 L380.20 92.48 L380.70 92.80 L381.20 93.13 L381.70 93.46 L382.20 93.79 L382.70 94.12 L383.20 94.46 L383.70 94.80 L384.00 95.00 L384.20 95.14 L384.70 95.48 L385.20 95.82 L385.70 96.17 L386.20 96.53 L386.70 96.88 L387.20 97.25 L387.70 97.61 L388.20 97.98 L388.70 98.35 L389.20 98.73 L389.70 99.11 L390.20 99.50 L390.70 99.89 L391.20 100.28 L391.70 100.68 L392.20 101.08 L392.70 101.49 L393.20 101.91 L393.70 102.32 L394.20 102.74 L394.70 103.17 L395.20 103.60 L395.70 104.04 L396.20 104.48 L396.70 104.93 L397.20 105.38 L397.70 105.83 L398.20 106.30 L398.70 106.76 L399.20 107.23 L399.70 107.71 L400.00 108.00 L400.20 108.19 L400.70 108.68 L401.20 109.18 L401.70 109.69 L402.20 110.20 L402.70 110.72 L403.20 111.25 L403.70 111.79 L404.20 112.34 L404.70 112.89 L405.20 113.45 L405.70 114.03 L406.20 114.61 L406.70 115.19 L407.20 115.79 L407.70 116.40 L408.20 117.02 L408.70 117.64 L409.20 118.27 L409.70 118.92 L410.20 119.57 L410.70 120.23 L411.20 120.90 L411.70 121.59 L412.00 122.00 L412.20 122.28 L412.70 122.99 L413.20 123.72 L413.70 124.47 L414.20 125.25 L414.70 126.03 L415.20 126.84 L415.70 127.66 L416.20 128.49 L416.70 129.34 L417.20 130.19 L417.70 131.06 L418.20 131.94 L418.70 132.83 L419.20 133.72 L419.70 134.62 L420.20 135.53 L420.70 136.44 L421.20 137.35 L421.50 137.90 L421.70 138.27 L422.20 139.21 L422.70 140.16 L423.20 141.14 L423.70 142.14 L424.20 143.15 L424.70 144.17 L425.20 145.20 L425.70 146.23 L426.20 147.27 L426.70 148.31 L427.20 149.35 L427.70 150.38 L428.20 151.41 L428.70 152.42 L429.20 153.43 L429.70 154.41 L430.00 155.00 L430.20 155.39 L430.70 156.38 L431.20 157.39 L431.70 158.41 L432.20 159.44 L432.70 160.47 L433.20 161.51 L433.70 162.53 L434.20 163.54 L434.70 164.53 L435.20 165.50 L435.70 166.45 L436.20 167.36 L436.70 168.23 L437.20 169.06 L437.70 169.83 L438.20 170.56 L438.60 171.10 L438.70 171.23 L439.20 171.90 L439.70 172.59 L440.20 173.28 L440.70 173.97 L441.20 174.64 L441.70 175.27 L442.20 175.85 L442.70 176.37 L443.20 176.82 L443.70 177.18 L444.20 177.43 L444.70 177.58 L445.00 177.60 L445.20 177.59 L445.70 177.52 L446.20 177.37 L446.70 177.16 L447.20 176.89 L447.70 176.57 L448.20 176.22 L448.70 175.83 L449.20 175.42 L449.70 175.00 L450.20 174.57 L450.40 174.40 L450.70 174.13 L451.20 173.60 L451.70 172.99 L452.20 172.30 L452.70 171.55 L453.20 170.73 L453.70 169.85 L454.20 168.93 L454.70 167.97 L455.20 166.97 L455.70 165.95 L456.20 164.91 L456.70 163.86 L457.20 162.81 L457.70 161.76 L458.20 160.72 L458.70 159.71 L459.20 158.71 L459.70 157.76 L460.00 157.20 L460.20 156.83 L460.70 155.91 L461.20 154.99 L461.70 154.05 L462.20 153.12 L462.70 152.18 L463.20 151.23 L463.70 150.29 L464.20 149.34 L464.70 148.40 L465.20 147.46 L465.70 146.52 L466.20 145.58 L466.70 144.65 L467.20 143.73 L467.70 142.81 L468.20 141.90 L468.70 141.00 L469.20 140.10 L469.70 139.21 L470.20 138.31 L470.70 137.42 L471.20 136.52 L471.70 135.63 L472.20 134.74 L472.70 133.86 L473.20 132.98 L473.70 132.11 L474.20 131.24 L474.70 130.39 L475.20 129.54 L475.70 128.70 L476.20 127.87 L476.70 127.06 L477.20 126.26 L477.70 125.47 L478.00 125.00 L478.20 124.69 L478.70 123.92 L479.20 123.16 L479.70 122.40 L480.20 121.64 L480.70 120.89 L481.20 120.15 L481.70 119.41 L482.20 118.69 L482.70 117.97 L483.20 117.26 L483.70 116.56 L484.20 115.86 L484.70 115.18 L485.20 114.51 L485.70 113.86 L486.20 113.21 L486.70 112.58 L487.20 111.96 L487.70 111.36 L488.00 111.00 L488.20 110.76 L488.70 110.18 L489.20 109.60 L489.70 109.03 L490.20 108.46 L490.70 107.90 L491.20 107.35 L491.70 106.80 L492.20 106.26 L492.70 105.72 L493.20 105.19 L493.70 104.67 L494.20 104.15 L494.70 103.64 L495.20 103.14 L495.70 102.64 L496.20 102.15 L496.70 101.67 L497.20 101.19 L497.70 100.72 L498.20 100.26 L498.70 99.81 L499.20 99.36 L499.70 98.92 L500.20 98.49 L500.70 98.07 L501.20 97.65 L501.70 97.24 L502.00 97.00 L502.20 96.84 L502.70 96.45 L503.20 96.06 L503.70 95.67 L504.20 95.29 L504.70 94.91 L505.20 94.54 L505.70 94.18 L506.20 93.81 L506.70 93.46 L507.20 93.11 L507.70 92.76 L508.20 92.42 L508.70 92.08 L509.20 91.75 L509.70 91.42 L510.20 91.10 L510.70 90.79 L511.20 90.47 L511.70 90.17 L512.20 89.87 L512.70 89.57 L513.20 89.28 L513.70 88.99 L514.20 88.71 L514.70 88.43 L515.20 88.16 L515.50 88.00 L515.70 87.89 L516.20 87.63 L516.70 87.37 L517.20 87.12 L517.70 86.87 L518.20 86.62 L518.70 86.38 L519.20 86.14 L519.70 85.90 L520.20 85.67 L520.70 85.44 L521.20 85.21 L521.70 84.99 L522.20 84.77 L522.70 84.55 L523.20 84.33 L523.70 84.12 L524.20 83.91 L524.70 83.70 L525.20 83.49 L525.70 83.29 L526.20 83.08 L526.70 82.88 L527.20 82.68 L527.70 82.48 L528.20 82.28 L528.70 82.09 L529.20 81.89 L529.70 81.70 L530.20 81.51 L530.70 81.31 L531.00 81.20 L531.20 81.12 L531.70 80.93 L532.20 80.75 L532.70 80.56 L533.20 80.38 L533.70 80.19 L534.20 80.01 L534.70 79.84 L535.20 79.66 L535.70 79.48 L536.20 79.31 L536.70 79.14 L537.20 78.96 L537.70 78.79 L538.20 78.62 L538.70 78.46 L539.20 78.29 L539.70 78.12 L540.20 77.96 L540.70 77.79 L541.20 77.63 L541.70 77.47 L542.20 77.30 L542.70 77.14 L543.20 76.98 L543.70 76.82 L544.20 76.66 L544.70 76.50 L545.20 76.34 L545.70 76.18 L546.20 76.02 L546.70 75.86 L547.20 75.70 L547.70 75.54 L548.20 75.38 L548.70 75.22 L549.20 75.06 L549.70 74.90 L550.00 74.80 L550.20 74.74 L550.70 74.57 L551.20 74.41 L551.70 74.24 L552.20 74.08 L552.70 73.91 L553.20 73.75 L553.70 73.58 L554.20 73.41 L554.70 73.25 L555.20 73.08 L555.70 72.91 L556.20 72.75 L556.70 72.58 L557.20 72.41 L557.70 72.25 L558.20 72.08 L558.70 71.92 L559.20 71.76 L559.70 71.60 L560.20 71.44 L560.70 71.28 L561.20 71.12 L561.70 70.96 L562.20 70.81 L562.70 70.66 L563.20 70.51 L563.70 70.36 L564.20 70.22 L564.70 70.07 L565.20 69.93 L565.70 69.80 L566.20 69.66 L566.70 69.53 L567.20 69.40 L567.70 69.27 L568.00 69.20 L568.20 69.15 L568.70 69.03 L569.20 68.91 L569.70 68.79 L570.20 68.67 L570.70 68.55 L571.20 68.43 L571.70 68.32 L572.20 68.20 L572.70 68.08 L573.20 67.97 L573.70 67.86 L574.20 67.74 L574.70 67.63 L575.20 67.52 L575.70 67.41 L576.20 67.31 L576.70 67.20 L577.20 67.09 L577.70 66.99 L578.20 66.89 L578.70 66.79 L579.20 66.69 L579.70 66.59 L580.20 66.49 L580.70 66.40 L581.20 66.30 L581.70 66.21 L582.20 66.12 L582.70 66.03 L583.20 65.94 L583.70 65.86 L584.20 65.77 L584.70 65.69 L585.20 65.61 L585.70 65.53 L586.20 65.46 L586.70 65.38 L587.20 65.31 L587.70 65.24 L588.00 65.20 L588.20 65.17 L588.70 65.11 L589.20 65.04 L589.70 64.97 L590.20 64.91 L590.70 64.84 L591.20 64.78 L591.70 64.71 L592.20 64.65 L592.70 64.58 L593.20 64.52 L593.70 64.46 L594.20 64.40 L594.70 64.34 L595.20 64.28 L595.70 64.22 L596.20 64.16 L596.70 64.10 L597.20 64.05 L597.70 63.99 L598.20 63.94 L598.70 63.88 L599.20 63.83 L599.70 63.77 L600.20 63.72 L600.70 63.67 L601.20 63.62 L601.70 63.57 L602.20 63.52 L602.70 63.48 L603.20 63.43 L603.70 63.38 L604.20 63.34 L604.70 63.29 L605.20 63.25 L605.70 63.21 L606.20 63.17 L606.70 63.13 L607.20 63.09 L607.70 63.05 L608.20 63.02 L608.70 62.98 L609.20 62.95 L609.70 62.91 L610.20 62.88 L610.70 62.85 L611.20 62.82 L611.60 62.80 L611.70 62.79 L612.20 62.77 L612.70 62.74 L613.20 62.71 L613.70 62.68 L614.20 62.65 L614.70 62.63 L615.20 62.60 L615.70 62.57 L616.20 62.54 L616.70 62.51 L617.20 62.49 L617.70 62.46 L618.20 62.43 L618.70 62.41 L619.20 62.38 L619.70 62.36 L620.20 62.33 L620.70 62.31 L621.20 62.28 L621.70 62.26 L622.20 62.24 L622.70 62.22 L623.20 62.20 L623.70 62.18 L624.20 62.16 L624.70 62.14 L625.20 62.12 L625.70 62.11 L626.20 62.09 L626.70 62.08 L627.20 62.06 L627.70 62.05 L628.20 62.04 L628.70 62.03 L629.20 62.02 L629.70 62.02 L630.20 62.01 L630.70 62.00 L631.20 62.00 L631.70 62.00 L632.00 62.00 L632.20 62.00 L632.70 62.00 L633.20 62.00 L633.70 62.00 L634.20 62.01 L634.70 62.01 L635.20 62.01 L635.70 62.02 L636.20 62.02 L636.70 62.03 L637.20 62.03 L637.70 62.04 L638.20 62.05 L638.70 62.05 L639.20 62.06 L639.70 62.07 L640.20 62.08 L640.70 62.09 L641.20 62.10 L641.70 62.11 L642.20 62.12 L642.70 62.13 L643.20 62.14 L643.70 62.15 L644.20 62.17 L644.70 62.18 L645.20 62.19 L645.70 62.20 L646.20 62.22 L646.70 62.23 L647.20 62.25 L647.70 62.26 L648.20 62.28 L648.70 62.29 L649.20 62.31 L649.70 62.32 L650.20 62.34 L650.70 62.36 L651.20 62.37 L651.70 62.39 L652.00 62.40 L652.20 62.41 L652.70 62.43 L653.20 62.45 L653.70 62.48 L654.20 62.50 L654.70 62.53 L655.20 62.57 L655.70 62.60 L656.20 62.64 L656.70 62.68 L657.20 62.73 L657.70 62.77 L658.20 62.82 L658.70 62.87 L659.20 62.93 L659.70 62.98 L660.20 63.04 L660.70 63.10 L661.20 63.16 L661.70 63.22 L662.20 63.29 L662.70 63.35 L663.20 63.42 L663.70 63.49 L664.20 63.56 L664.70 63.63 L665.20 63.71 L665.70 63.78 L666.20 63.86 L666.70 63.94 L667.20 64.02 L667.70 64.10 L668.20 64.18 L668.70 64.26 L669.20 64.34 L669.70 64.43 L670.20 64.51 L670.70 64.60 L671.20 64.68 L671.70 64.77 L672.20 64.86 L672.70 64.95 L673.00 65.00" stroke="#000" />
<path d="M58.70 49.90 L59.20 49.87 L59.70 49.83 L60.20 49.80 L60.70 49.77 L61.20 49.73 L61.70 49.70 L62.20 49.67 L62.70 49.64 L63.20 49.60 L63.70 49.57 L64.20 49.54 L64.70 49.51 L65.20 49.47 L65.70 49.44 L66.20 49.41 L66.70 49.38 L67.20 49.34 L67.70 49.31 L68.20 49.28 L68.70 49.25 L69.20 49.22 L69.70 49.18 L70.20 49.15 L70.70 49.12 L71.20 49.09 L71.70 49.06 L72.20 49.02 L72.70 48.99 L73.20 48.96 L73.70 48.93 L74.20 48.90 L74.70 48.87 L75.20 48.84 L75.70 48.80 L76.20 48.77 L76.70 48.74 L77.20 48.71 L77.70 48.68 L78.20 48.65 L78.70 48.62 L79.20 48.59 L79.70 48.55 L80.20 48.52 L80.70 48.49 L81.20 48.46 L81.70 48.43 L82.20 48.40 L82.70 48.37 L83.20 48.34 L83.70 48.31 L84.20 48.28 L84.70 48.25 L85.20 48.22 L85.70 48.19 L86.20 48.16 L86.70 48.13 L87.20 48.10 L87.70 48.07 L88.20 48.04 L88.70 48.01 L89.20 47.98 L89.70 47.95 L90.20 47.92 L90.70 47.89 L91.20 47.86 L91.70 47.83 L92.20 47.80 L92.70 47.77 L93.20 47.74 L93.70 47.71 L94.20 47.68 L94.70 47.65 L95.20 47.62 L95.70 47.59 L96.20 47.56 L96.70 47.53 L97.20 47.50 L97.70 47.47 L98.20 47.44 L98.70 47.41 L99.20 47.38 L99.70 47.35 L100.20 47.32 L100.70 47.29 L101.20 47.27 L101.70 47.24 L102.20 47.21 L102.70 47.18 L103.20 47.15 L103.70 47.12 L104.20 47.09 L104.70 47.06 L105.20 47.03 L105.70 47.01 L106.20 46.98 L106.70 46.95 L107.20 46.92 L107.70 46.89 L108.20 46.86 L108.70 46.83 L109.20 46.81 L109.70 46.78 L110.20 46.75 L110.70 46.72 L111.20 46.69 L111.70 46.66 L112.20 46.64 L112.70 46.61 L113.20 46.58 L113.70 46.55 L114.20 46.52 L114.70 46.50 L115.20 46.47 L115.70 46.44 L116.20 46.41 L116.70 46.38 L117.20 46.36 L117.70 46.33 L118.20 46.30 L118.70 46.27 L119.20 46.24 L119.70 46.22 L120.00 46.20 L120.20 46.19 L120.70 46.16 L121.20 46.13 L121.70 46.10 L122.20 46.07 L122.70 46.04 L123.20 46.01 L123.70 45.97 L124.20 45.94 L124.70 45.91 L125.20 45.87 L125.70 45.84 L126.20 45.80 L126.70 45.77 L127.20 45.73 L127.70 45.70 L128.20 45.66 L128.70 45.63 L129.20 45.59 L129.70 45.56 L130.20 45.53 L130.70 45.49 L131.20 45.46 L131.70 45.43 L132.20 45.40 L132.70 45.37 L133.20 45.34 L133.70 45.31 L134.20 45.28 L134.70 45.25 L135.20 45.22 L135.70 45.20 L136.20 45.17 L136.70 45.15 L137.20 45.13 L137.70 45.11 L138.20 45.09 L138.70 45.07 L139.20 45.06 L139.70 45.04 L140.20 45.03 L140.70 45.02 L141.20 45.01 L141.70 45.01 L142.20 45.00 L142.70 45.00 L143.00 45.00 L143.20 45.00 L143.70 45.00 L144.20 45.01 L144.70 45.02 L145.20 45.03 L145.70 45.04 L146.20 45.05 L146.70 45.07 L147.20 45.09 L147.70 45.11 L148.20 45.14 L148.70 45.16 L149.20 45.19 L149.70 45.22 L150.20 45.25 L150.70 45.28 L151.20 45.31 L151.70 45.35 L152.20 45.38 L152.70 45.42 L153.20 45.45 L153.70 45.49 L154.20 45.53 L154.70 45.57 L155.20 45.61 L155.70 45.64 L156.20 45.68 L156.70 45.72 L157.20 45.76 L157.70 45.80 L158.20 45.84 L158.70 45.88 L159.20 45.92 L159.70 45.96 L160.20 45.99 L160.70 46.03 L161.20 46.07 L161.70 46.10 L162.20 46.14 L162.70 46.17 L163.20 46.20 L163.70 46.23 L164.20 46.26 L164.70 46.28 L165.00 46.30 L165.20 46.31 L165.70 46.33 L166.20 46.36 L166.70 46.38 L167.20 46.40 L167.70 46.42 L168.20 46.44 L168.70 46.45 L169.20 46.47 L169.70 46.49 L170.20 46.50 L170.70 46.52 L171.20 46.54 L171.70 46.55 L172.20 46.57 L172.70 46.58 L173.20 46.60 L173.70 46.62 L174.20 46.64 L174.70 46.65 L175.20 46.67 L175.70 46.69 L176.20 46.72 L176.70 46.74 L177.20 46.76 L177.70 46.79 L178.20 46.81 L178.70 46.84 L179.20 46.87 L179.70 46.91 L180.20 46.94 L180.70 46.98 L181.00 47.00 L181.20 47.02 L181.70 47.07 L182.20 47.13 L182.70 47.21 L183.20 47.29 L183.70 47.39 L184.20 47.50 L184.70 47.61 L185.20 47.73 L185.70 47.85 L186.20 47.98 L186.70 48.11 L187.20 48.25 L187.70 48.39 L188.20 48.52 L188.70 48.66 L189.20 48.79 L189.70 48.92 L190.00 49.00 L190.20 49.05 L190.70 49.18 L191.20 49.31 L191.70 49.45 L192.20 49.59 L192.70 49.73 L193.20 49.88 L193.70 50.03 L194.20 50.18 L194.70 50.33 L195.20 50.48 L195.70 50.63 L196.20 50.79 L196.70 50.95 L197.20 51.10 L197.70 51.26 L198.20 51.42 L198.70 51.58 L199.20 51.73 L199.70 51.89 L200.20 52.05 L200.70 52.21 L201.00 52.30 L201.20 52.36 L201.70 52.52 L202.20 52.67 L202.70 52.82 L203.20 52.96 L203.70 53.11 L204.20 53.25 L204.70 53.40 L205.20 53.54 L205.70 53.68 L206.20 53.82 L206.70 53.97 L207.20 54.11 L207.70 54.26 L208.20 54.40 L208.70 54.55 L209.20 54.70 L209.70 54.85 L210.20 55.01 L210.70 55.16 L211.20 55.32 L211.70 55.49 L212.20 55.65 L212.70 55.82 L213.20 56.00 L213.70 56.18 L214.20 56.36 L214.70 56.55 L215.20 56.75 L215.70 56.95 L216.20 57.16 L216.70 57.37 L217.00 57.50 L217.20 57.59 L217.70 57.82 L218.20 58.07 L218.70 58.33 L219.20 58.60 L219.70 58.89 L220.20 59.18 L220.70 59.48 L221.20 59.80 L221.70 60.12 L222.20 60.45 L222.70 60.79 L223.20 61.13 L223.70 61.48 L224.20 61.83 L224.70 62.19 L225.20 62.55 L225.70 62.91 L226.20 63.28 L226.50 63.50 L226.70 63.65 L227.20 64.02 L227.70 64.39 L228.20 64.77 L228.70 65.16 L229.20 65.55 L229.70 65.95 L230.20 66.35 L230.70 66.76 L231.20 67.18 L231.70 67.60 L232.20 68.03 L232.70 68.47 L233.20 68.92 L233.70 69.37 L234.20 69.84 L234.70 70.31 L235.20 70.79 L235.70 71.28 L236.20 71.78 L236.70 72.29 L237.20 72.82 L237.70 73.35 L238.20 73.89 L238.30 74.00 L238.70 74.45 L239.20 75.03 L239.70 75.62 L240.20 76.24 L240.70 76.88 L241.20 77.54 L241.70 78.21 L242.20 78.91 L242.70 79.62 L243.20 80.34 L243.70 81.08 L244.20 81.84 L244.70 82.61 L245.20 83.39 L245.70 84.19 L246.20 85.00 L246.70 85.83 L247.20 86.70 L247.70 87.59 L248.20 88.52 L248.70 89.47 L249.20 90.43 L249.70 91.42 L250.20 92.43 L250.70 93.45 L251.20 94.49 L251.70 95.53 L252.20 96.58 L252.70 97.63 L253.20 98.69 L253.70 99.74 L254.20 100.79 L254.30 101.00 L254.70 101.83 L255.20 102.86 L255.70 103.89 L256.20 104.91 L256.70 105.93 L257.20 106.97 L257.70 108.02 L258.20 109.08 L258.70 110.18 L259.20 111.30 L259.70 112.46 L260.20 113.66 L260.70 114.90 L261.20 116.20 L261.50 117.00 L261.70 117.55 L262.20 118.99 L262.70 120.52 L263.20 122.12 L263.70 123.79 L264.20 125.52 L264.70 127.29 L265.20 129.09 L265.70 130.93 L266.20 132.78 L266.70 134.63 L266.80 135.00 L267.20 136.47 L267.70 138.31 L268.20 140.16 L268.70 142.04 L269.20 144.00 L269.70 146.05 L270.20 148.22 L270.70 150.53 L271.00 152.00 L271.20 153.03 L271.70 155.83 L272.20 158.90 L272.70 162.16 L273.20 165.55 L273.70 169.00 L274.20 172.45 L274.70 175.97 L275.20 179.72 L275.70 183.81 L276.00 186.50 L276.20 188.52 L276.70 194.52 L277.20 200.63 L277.50 203.70 L277.70 205.41 L278.20 209.06 L278.70 212.17 L279.20 215.22 L279.70 218.68 L280.20 223.00 L280.70 229.01 L281.20 236.51 L281.70 244.45 L281.80 246.00 L282.20 252.01 L282.70 259.79 L283.20 269.00 L283.70 284.81 L284.00 290.00 L284.20 290.00 L284.70 290.00 L285.20 290.00 L285.70 290.00 L286.20 290.00 L286.30 290.00 L286.70 281.74 L287.10 269.00 L287.20 266.82 L287.70 257.14 L288.20 247.96 L288.30 246.00 L288.70 237.22 L289.20 226.40 L289.40 223.00 L289.70 218.78 L290.20 212.65 L290.70 207.38 L291.20 202.68 L291.50 200.00 L291.70 198.28 L292.20 194.34 L292.70 190.73 L293.20 187.21 L293.30 186.50 L293.70 183.64 L294.20 180.11 L294.70 176.68 L295.20 173.38 L295.50 171.50 L295.70 170.28 L296.20 167.29 L296.70 164.41 L297.20 161.62 L297.70 158.92 L298.20 156.32 L298.60 154.30 L298.70 153.80 L299.20 151.32 L299.70 148.90 L300.20 146.58 L300.70 144.43 L301.20 142.50 L301.70 140.81 L302.20 139.28 L302.70 137.86 L303.20 136.46 L303.70 135.00 L304.20 133.47 L304.70 131.90 L305.20 130.33 L305.70 128.77 L306.20 127.26 L306.70 125.82 L307.00 125.00 L307.20 124.47 L307.70 123.15 L308.20 121.87 L308.70 120.61 L309.20 119.37 L309.70 118.17 L310.20 116.99 L310.70 115.84 L311.20 114.73 L311.70 113.65 L312.20 112.60 L312.70 111.59 L313.00 111.00 L313.20 110.61 L313.70 109.68 L314.20 108.77 L314.70 107.89 L315.20 107.04 L315.70 106.21 L316.20 105.40 L316.70 104.60 L317.20 103.82 L317.70 103.03 L318.20 102.25 L318.70 101.47 L319.00 101.00 L319.20 100.68 L319.70 99.90 L320.20 99.12 L320.70 98.34 L321.20 97.57 L321.70 96.81 L322.20 96.06 L322.70 95.33 L323.20 94.61 L323.70 93.91 L324.00 93.50 L324.20 93.23 L324.70 92.56 L325.20 91.91 L325.70 91.26 L326.20 90.63 L326.70 90.01 L327.20 89.39 L327.70 88.78 L328.20 88.18 L328.70 87.59 L329.20 87.00 L329.70 86.41 L330.20 85.83 L330.70 85.25 L331.20 84.67 L331.70 84.09 L332.20 83.51 L332.70 82.93 L333.20 82.35 L333.70 81.76 L334.20 81.17 L334.70 80.58 L335.20 79.98 L335.70 79.37 L336.00 79.00 L336.20 78.75 L336.70 78.10 L337.20 77.44 L337.70 76.76 L338.20 76.10 L338.70 75.46 L339.20 74.85 L339.70 74.30 L340.00 74.00 L340.20 73.81 L340.70 73.35 L341.20 72.90 L341.70 72.46 L342.20 72.04 L342.70 71.63 L343.20 71.24 L343.70 70.85 L344.20 70.48 L344.70 70.11 L345.20 69.76 L345.70 69.41 L346.20 69.06 L346.70 68.73 L347.20 68.40 L347.70 68.07 L348.20 67.75 L348.70 67.43 L349.20 67.11 L349.70 66.80 L350.20 66.48 L350.70 66.16 L351.20 65.85 L351.70 65.53 L352.20 65.20 L352.70 64.87 L353.20 64.54 L353.70 64.21 L354.00 64.00 L354.20 63.86 L354.70 63.51 L355.20 63.16 L355.70 62.81 L356.20 62.46 L356.70 62.10 L357.20 61.75 L357.70 61.39 L358.20 61.04 L358.70 60.69 L359.20 60.33 L359.70 59.99 L360.20 59.64 L360.70 59.30 L361.20 58.96 L361.70 58.62 L362.20 58.29 L362.70 57.97 L363.20 57.65 L363.70 57.34 L364.20 57.03 L364.70 56.73 L365.20 56.44 L365.70 56.16 L366.00 56.00 L366.20 55.89 L366.70 55.63 L367.20 55.37 L367.70 55.11 L368.20 54.86 L368.70 54.61 L369.20 54.36 L369.70 54.12 L370.20 53.89 L370.70 53.65 L371.20 53.42 L371.70 53.20 L372.20 52.97 L372.70 52.75 L373.20 52.53 L373.70 52.31 L374.20 52.10 L374.70 51.88 L375.20 51.67 L375.70 51.46 L376.20 51.25 L376.70 51.04 L377.20 50.84 L377.70 50.63 L378.20 50.42 L378.70 50.22 L379.20 50.01 L379.70 49.81 L380.20 49.60 L380.70 49.39 L381.20 49.18 L381.70 48.98 L382.20 48.77 L382.70 48.56 L383.20 48.34 L383.70 48.13 L384.00 48.00 L384.20 47.91 L384.70 47.70 L385.20 47.48 L385.70 47.27 L386.20 47.05 L386.70 46.84 L387.20 46.63 L387.70 46.42 L388.20 46.20 L388.70 45.99 L389.20 45.78 L389.70 45.57 L390.20 45.36 L390.70 45.15 L391.20 44.94 L391.70 44.73 L392.20 44.52 L392.70 44.31 L393.20 44.10 L393.70 43.89 L394.20 43.68 L394.70 43.47 L395.20 43.27 L395.70 43.06 L396.20 42.85 L396.70 42.64 L397.20 42.43 L397.70 42.23 L398.20 42.02 L398.70 41.81 L399.20 41.60 L399.70 41.39 L400.20 41.19 L400.70 40.98 L401.20 40.77 L401.70 40.56 L402.20 40.35 L402.70 40.14 L403.20 39.93 L403.70 39.73 L404.00 39.60 L404.20 39.52 L404.70 39.31 L405.20 39.10 L405.70 38.88 L406.20 38.67 L406.70 38.46 L407.20 38.25 L407.70 38.03 L408.20 37.82 L408.70 37.61 L409.20 37.39 L409.70 37.18 L410.20 36.96 L410.70 36.75 L411.20 36.53 L411.70 36.32 L412.20 36.10 L412.70 35.89 L413.20 35.67 L413.70 35.46 L414.20 35.25 L414.70 35.03 L415.20 34.82 L415.70 34.61 L416.20 34.39 L416.70 34.18 L417.20 33.97 L417.70 33.76 L418.20 33.55 L418.70 33.34 L419.20 33.13 L419.70 32.92 L420.20 32.71 L420.70 32.51 L421.20 32.30 L421.70 32.10 L422.20 31.89 L422.70 31.69 L423.20 31.49 L423.70 31.29 L424.20 31.09 L424.70 30.89 L425.20 30.70 L425.70 30.50 L426.20 30.31 L426.70 30.11 L427.00 30.00 L427.20 29.92 L427.70 29.73 L428.20 29.54 L428.70 29.35 L429.20 29.16 L429.70 28.98 L430.20 28.79 L430.70 28.60 L431.20 28.41 L431.70 28.23 L432.20 28.04 L432.70 27.85 L433.20 27.67 L433.70 27.49 L434.20 27.30 L434.70 27.12 L435.20 26.94 L435.70 26.76 L436.20 26.58 L436.70 26.41 L437.20 26.23 L437.70 26.06 L438.20 25.88 L438.70 25.71 L439.20 25.54 L439.70 25.37 L440.20 25.21 L440.70 25.04 L441.20 24.88 L441.70 24.72 L442.20 24.56 L442.70 24.40 L443.20 24.24 L443.70 24.09 L444.00 24.00 L444.20 23.94 L444.70 23.79 L445.20 23.64 L445.70 23.49 L446.20 23.34 L446.70 23.19 L447.20 23.04 L447.70 22.89 L448.20 22.74 L448.70 22.59 L449.20 22.44 L449.70 22.30 L450.20 22.15 L450.70 22.01 L451.20 21.87 L451.70 21.73 L452.20 21.59 L452.70 21.45 L453.20 21.31 L453.70 21.18 L454.20 21.05 L454.70 20.92 L455.20 20.79 L455.70 20.67 L456.20 20.54 L456.70 20.42 L457.20 20.30 L457.70 20.19 L458.20 20.08 L458.70 19.97 L459.20 19.86 L459.70 19.75 L460.20 19.65 L460.70 19.56 L461.00 19.50 L461.20 19.46 L461.70 19.37 L462.20 19.28 L462.70 19.18 L463.20 19.09 L463.70 19.00 L464.20 18.91 L464.70 18.81 L465.20 18.72 L465.70 18.63 L466.20 18.54 L466.70 18.45 L467.20 18.36 L467.70 18.27 L468.20 18.19 L468.70 18.10 L469.20 18.01 L469.70 17.93 L470.20 17.84 L470.70 17.76 L471.20 17.67 L471.70 17.59 L472.20 17.51 L472.70 17.43 L473.20 17.35 L473.70 17.27 L474.20 17.20 L474.70 17.12 L475.20 17.05 L475.70 16.97 L476.20 16.90 L476.70 16.83 L477.20 16.76 L477.70 16.69 L478.20 16.62 L478.70 16.56 L479.20 16.50 L479.70 16.43 L480.20 16.37 L480.70 16.31 L481.20 16.26 L481.70 16.20 L482.20 16.15 L482.70 16.09 L483.20 16.04 L483.70 15.99 L484.20 15.95 L484.70 15.90 L485.20 15.86 L485.70 15.82 L486.20 15.78 L486.70 15.74 L487.20 15.71 L487.70 15.67 L488.20 15.64 L488.70 15.62 L489.00 15.60 L489.20 15.59 L489.70 15.56 L490.20 15.54 L490.70 15.51 L491.20 15.49 L491.70 15.46 L492.20 15.44 L492.70 15.41 L493.20 15.39 L493.70 15.37 L494.20 15.34 L494.70 15.32 L495.20 15.30 L495.70 15.27 L496.20 15.25 L496.70 15.23 L497.20 15.21 L497.70 15.18 L498.20 15.16 L498.70 15.14 L499.20 15.12 L499.70 15.10 L500.20 15.08 L500.70 15.06 L501.20 15.04 L501.70 15.02 L502.20 15.00 L502.70 14.98 L503.20 14.97 L503.70 14.95 L504.20 14.93 L504.70 14.91 L505.20 14.90 L505.70 14.88 L506.20 14.87 L506.70 14.85 L507.20 14.84 L507.70 14.82 L508.20 14.81 L508.70 14.79 L509.20 14.78 L509.70 14.77 L510.20 14.75 L510.70 14.74 L511.20 14.73 L511.70 14.72 L512.20 14.71 L512.70 14.70 L513.20 14.69 L513.70 14.68 L514.20 14.67 L514.70 14.66 L515.20 14.65 L515.70 14.65 L516.20 14.64 L516.70 14.63 L517.20 14.63 L517.70 14.62 L518.20 14.62 L518.70 14.61 L519.20 14.61 L519.70 14.61 L520.20 14.60 L520.70 14.60 L521.00 14.60 L521.20 14.60 L521.70 14.60 L522.20 14.60 L522.70 14.60 L523.20 14.59 L523.70 14.59 L524.20 14.59 L524.70 14.59 L525.20 14.59 L525.70 14.59 L526.20 14.59 L526.70 14.58 L527.20 14.58 L527.70 14.58 L528.20 14.58 L528.70 14.58 L529.20 14.58 L529.70 14.58 L530.20 14.58 L530.70 14.57 L531.20 14.57 L531.70 14.57 L532.20 14.57 L532.70 14.57 L533.20 14.57 L533.70 14.57 L534.20 14.57 L534.70 14.57 L535.20 14.56 L535.70 14.56 L536.20 14.56 L536.70 14.56 L537.20 14.56 L537.70 14.56 L538.20 14.56 L538.70 14.56 L539.20 14.56 L539.70 14.55 L540.20 14.55 L540.70 14.55 L541.20 14.55 L541.70 14.55 L542.20 14.55 L542.70 14.55 L543.20 14.55 L543.70 14.55 L544.20 14.55 L544.70 14.54 L545.20 14.54 L545.70 14.54 L546.20 14.54 L546.70 14.54 L547.20 14.54 L547.70 14.54 L548.20 14.54 L548.70 14.54 L549.20 14.54 L549.70 14.54 L550.20 14.54 L550.70 14.53 L551.20 14.53 L551.70 14.53 L552.20 14.53 L552.70 14.53 L553.20 14.53 L553.70 14.53 L554.20 14.53 L554.70 14.53 L555.20 14.53 L555.70 14.53 L556.20 14.53 L556.70 14.53 L557.20 14.53 L557.70 14.52 L558.20 14.52 L558.70 14.52 L559.20 14.52 L559.70 14.52 L560.20 14.52 L560.70 14.52 L561.20 14.52 L561.70 14.52 L562.20 14.52 L562.70 14.52 L563.20 14.52 L563.70 14.52 L564.20 14.52 L564.70 14.52 L565.20 14.52 L565.70 14.52 L566.20 14.52 L566.70 14.51 L567.20 14.51 L567.70 14.51 L568.20 14.51 L568.70 14.51 L569.20 14.51 L569.70 14.51 L570.20 14.51 L570.70 14.51 L571.20 14.51 L571.70 14.51 L572.20 14.51 L572.70 14.51 L573.20 14.51 L573.70 14.51 L574.20 14.51 L574.70 14.51 L575.20 14.51 L575.70 14.51 L576.20 14.51 L576.70 14.51 L577.20 14.51 L577.70 14.51 L578.20 14.51 L578.70 14.51 L579.20 14.51 L579.70 14.50 L580.20 14.50 L580.70 14.50 L581.20 14.50 L581.70 14.50 L582.20 14.50 L582.70 14.50 L583.20 14.50 L583.70 14.50 L584.20 14.50 L584.70 14.50 L585.20 14.50 L585.70 14.50 L586.20 14.50 L586.70 14.50 L587.20 14.50 L587.70 14.50 L588.20 14.50 L588.70 14.50 L589.20 14.50 L589.70 14.50 L590.20 14.50 L590.70 14.50 L591.20 14.50 L591.70 14.50 L592.20 14.50 L592.70 14.50 L593.20 14.50 L593.70 14.50 L594.20 14.50 L594.70 14.50 L595.20 14.50 L595.70 14.50 L596.20 14.50 L596.70 14.50 L597.20 14.50 L597.70 14.50 L598.00 14.50 L598.20 14.50 L598.70 14.50 L599.20 14.50 L599.70 14.50 L600.20 14.50 L600.70 14.50 L601.20 14.50 L601.70 14.50 L602.20 14.50 L602.70 14.50 L603.20 14.50 L603.70 14.51 L604.20 14.51 L604.70 14.51 L605.20 14.51 L605.70 14.51 L606.20 14.51 L606.70 14.51 L607.20 14.51 L607.70 14.52 L608.20 14.52 L608.70 14.52 L609.20 14.52 L609.70 14.52 L610.20 14.53 L610.70 14.53 L611.20 14.53 L611.70 14.53 L612.20 14.53 L612.70 14.54 L613.20 14.54 L613.70 14.54 L614.20 14.54 L614.70 14.55 L615.20 14.55 L615.70 14.55 L616.20 14.55 L616.70 14.56 L617.20 14.56 L617.70 14.56 L618.20 14.57 L618.70 14.57 L619.20 14.57 L619.70 14.58 L620.20 14.58 L620.70 14.58 L621.20 14.59 L621.70 14.59 L622.20 14.59 L622.70 14.60 L623.20 14.60 L623.70 14.61 L624.20 14.61 L624.70 14.61 L625.20 14.62 L625.70 14.62 L626.20 14.63 L626.70 14.63 L627.20 14.63 L627.70 14.64 L628.20 14.64 L628.70 14.65 L629.20 14.65 L629.70 14.66 L630.20 14.66 L630.70 14.67 L631.20 14.67 L631.70 14.68 L632.20 14.68 L632.70 14.69 L633.20 14.69 L633.70 14.69 L634.20 14.70 L634.70 14.71 L635.20 14.71 L635.70 14.72 L636.20 14.72 L636.70 14.73 L637.20 14.73 L637.70 14.74 L638.20 14.74 L638.70 14.75 L639.20 14.75 L639.70 14.76 L640.20 14.76 L640.70 14.77 L641.20 14.78 L641.70 14.78 L642.20 14.79 L642.70 14.79 L643.20 14.80 L643.70 14.80 L644.20 14.81 L644.70 14.82 L645.20 14.82 L645.70 14.83 L646.20 14.83 L646.70 14.84 L647.20 14.85 L647.70 14.85 L648.20 14.86 L648.70 14.87 L649.20 14.87 L649.70 14.88 L650.20 14.88 L650.70 14.89 L651.20 14.90 L651.70 14.90 L652.20 14.91 L652.70 14.92 L653.20 14.92 L653.70 14.93 L654.20 14.94 L654.70 14.94 L655.20 14.95 L655.70 14.96 L656.20 14.96 L656.70 14.97 L657.20 14.98 L657.70 14.98 L658.20 14.99 L658.70 15.00 L659.20 15.00 L659.70 15.01 L660.20 15.02 L660.70 15.02 L661.20 15.03 L661.70 15.04 L662.20 15.05 L662.70 15.05 L663.20 15.06 L663.70 15.07 L664.20 15.07 L664.70 15.08 L665.20 15.09 L665.70 15.09 L666.20 15.10 L666.70 15.11 L667.20 15.12 L667.70 15.12 L668.20 15.13 L668.70 15.14 L669.20 15.14 L669.70 15.15 L670.20 15.16 L670.70 15.17 L671.20 15.17 L671.70 15.18 L672.20 15.19 L672.70 15.20 L673.00 15.20" stroke="#b3b3b3" stroke-dasharray="2.1 2.0"/>
<path d="M58.70 54.20 L59.20 54.22 L59.70 54.24 L60.20 54.26 L60.70 54.29 L61.20 54.31 L61.70 54.33 L62.20 54.35 L62.70 54.38 L63.20 54.40 L63.70 54.42 L64.20 54.45 L64.70 54.47 L65.20 54.49 L65.70 54.52 L66.20 54.54 L66.70 54.57 L67.20 54.59 L67.70 54.62 L68.20 54.64 L68.70 54.67 L69.20 54.69 L69.70 54.72 L70.20 54.75 L70.70 54.77 L71.20 54.80 L71.70 54.83 L72.20 54.85 L72.70 54.88 L73.20 54.91 L73.70 54.93 L74.20 54.96 L74.70 54.99 L75.20 55.02 L75.70 55.05 L76.20 55.08 L76.70 55.10 L77.20 55.13 L77.70 55.16 L78.20 55.19 L78.70 55.22 L79.20 55.25 L79.70 55.28 L80.00 55.30 L80.20 55.31 L80.70 55.34 L81.20 55.37 L81.70 55.40 L82.20 55.44 L82.70 55.47 L83.20 55.50 L83.70 55.53 L84.20 55.56 L84.70 55.59 L85.20 55.63 L85.70 55.66 L86.20 55.69 L86.70 55.73 L87.20 55.76 L87.70 55.79 L88.20 55.83 L88.70 55.86 L89.20 55.89 L89.70 55.93 L90.20 55.96 L90.70 56.00 L91.20 56.03 L91.70 56.07 L92.20 56.10 L92.70 56.14 L93.20 56.18 L93.70 56.21 L94.20 56.25 L94.70 56.28 L95.20 56.32 L95.70 56.36 L96.20 56.39 L96.70 56.43 L97.20 56.47 L97.70 56.51 L98.20 56.55 L98.70 56.58 L99.20 56.62 L99.70 56.66 L100.20 56.70 L100.70 56.74 L101.20 56.78 L101.70 56.82 L102.20 56.86 L102.70 56.90 L103.20 56.94 L103.70 56.98 L104.20 57.02 L104.70 57.06 L105.20 57.10 L105.70 57.14 L106.20 57.18 L106.70 57.22 L107.20 57.26 L107.70 57.31 L108.20 57.35 L108.70 57.39 L109.20 57.43 L109.70 57.47 L110.20 57.52 L110.70 57.56 L111.20 57.60 L111.70 57.65 L112.20 57.69 L112.70 57.74 L113.20 57.78 L113.70 57.82 L114.20 57.87 L114.70 57.91 L115.20 57.96 L115.70 58.00 L116.20 58.05 L116.70 58.09 L117.20 58.14 L117.70 58.19 L118.20 58.23 L118.70 58.28 L119.20 58.33 L119.70 58.37 L120.00 58.40 L120.20 58.42 L120.70 58.47 L121.20 58.52 L121.70 58.57 L122.20 58.62 L122.70 58.68 L123.20 58.74 L123.70 58.79 L124.20 58.85 L124.70 58.91 L125.20 58.97 L125.70 59.04 L126.20 59.10 L126.70 59.17 L127.20 59.23 L127.70 59.30 L128.20 59.36 L128.70 59.43 L129.20 59.50 L129.70 59.57 L130.20 59.64 L130.70 59.71 L131.20 59.78 L131.70 59.85 L132.20 59.92 L132.70 59.99 L133.20 60.06 L133.70 60.13 L134.20 60.20 L134.70 60.27 L135.20 60.34 L135.70 60.40 L136.20 60.47 L136.70 60.54 L137.20 60.61 L137.70 60.67 L138.20 60.74 L138.70 60.81 L139.20 60.87 L139.70 60.93 L140.20 61.00 L140.70 61.06 L141.20 61.12 L141.70 61.17 L142.20 61.23 L142.70 61.29 L143.20 61.34 L143.70 61.40 L144.20 61.45 L144.70 61.50 L145.20 61.54 L145.70 61.59 L146.20 61.63 L146.70 61.68 L147.20 61.72 L147.70 61.75 L148.20 61.79 L148.70 61.82 L149.20 61.86 L149.70 61.88 L150.00 61.90 L150.20 61.91 L150.70 61.94 L151.20 61.96 L151.70 61.99 L152.20 62.01 L152.70 62.04 L153.20 62.07 L153.70 62.09 L154.20 62.12 L154.70 62.14 L155.20 62.17 L155.70 62.19 L156.20 62.21 L156.70 62.24 L157.20 62.26 L157.70 62.28 L158.20 62.30 L158.70 62.33 L159.20 62.35 L159.70 62.37 L160.20 62.39 L160.70 62.41 L161.20 62.43 L161.70 62.44 L162.20 62.46 L162.70 62.48 L163.20 62.49 L163.70 62.51 L164.20 62.52 L164.70 62.53 L165.20 62.54 L165.70 62.55 L166.20 62.56 L166.70 62.57 L167.20 62.58 L167.70 62.59 L168.20 62.59 L168.70 62.60 L169.20 62.60 L169.70 62.60 L170.00 62.60 L170.20 62.60 L170.70 62.60 L171.20 62.59 L171.70 62.57 L172.20 62.56 L172.70 62.54 L173.20 62.51 L173.70 62.49 L174.20 62.45 L174.70 62.42 L175.20 62.38 L175.70 62.34 L176.20 62.30 L176.70 62.25 L177.20 62.21 L177.70 62.16 L178.20 62.10 L178.70 62.05 L179.20 61.99 L179.70 61.94 L180.20 61.88 L180.70 61.82 L181.20 61.76 L181.70 61.70 L182.20 61.63 L182.70 61.57 L183.20 61.51 L183.70 61.44 L184.20 61.38 L184.70 61.32 L185.20 61.25 L185.70 61.19 L186.20 61.13 L186.70 61.07 L187.20 61.01 L187.70 60.95 L188.20 60.89 L188.70 60.83 L189.00 60.80 L189.20 60.78 L189.70 60.72 L190.20 60.67 L190.70 60.62 L191.20 60.56 L191.70 60.51 L192.20 60.45 L192.70 60.39 L193.20 60.33 L193.70 60.27 L194.20 60.21 L194.70 60.14 L195.20 60.07 L195.70 60.00 L196.20 59.93 L196.70 59.85 L197.00 59.80 L197.20 59.77 L197.70 59.67 L198.20 59.57 L198.70 59.47 L199.20 59.35 L199.70 59.23 L200.20 59.11 L200.70 58.98 L201.20 58.84 L201.70 58.71 L202.20 58.57 L202.70 58.43 L203.20 58.29 L203.70 58.15 L204.20 58.01 L204.70 57.88 L205.00 57.80 L205.20 57.75 L205.70 57.62 L206.20 57.49 L206.70 57.36 L207.20 57.22 L207.70 57.09 L208.20 56.96 L208.70 56.83 L209.20 56.70 L209.70 56.56 L210.20 56.42 L210.70 56.28 L211.20 56.14 L211.70 56.00 L212.20 55.85 L212.70 55.70 L213.20 55.55 L213.70 55.40 L214.00 55.30 L214.20 55.24 L214.70 55.07 L215.20 54.90 L215.70 54.73 L216.20 54.56 L216.70 54.38 L217.20 54.20 L217.70 54.01 L218.20 53.82 L218.70 53.63 L219.20 53.44 L219.70 53.24 L220.20 53.04 L220.70 52.84 L221.20 52.63 L221.70 52.43 L222.00 52.30 L222.20 52.22 L222.70 52.01 L223.20 51.79 L223.70 51.58 L224.20 51.36 L224.70 51.14 L225.20 50.92 L225.70 50.69 L226.20 50.45 L226.70 50.21 L227.20 49.96 L227.70 49.71 L228.20 49.44 L228.70 49.17 L229.00 49.00 L229.20 48.88 L229.70 48.57 L230.20 48.23 L230.70 47.86 L231.20 47.49 L231.70 47.11 L232.20 46.73 L232.70 46.36 L233.20 46.01 L233.70 45.68 L234.00 45.50 L234.20 45.38 L234.70 45.11 L235.20 44.84 L235.70 44.59 L236.20 44.34 L236.70 44.10 L237.20 43.86 L237.70 43.63 L238.20 43.39 L238.70 43.16 L239.20 42.91 L239.70 42.66 L240.00 42.50 L240.20 42.39 L240.70 42.12 L241.20 41.84 L241.70 41.56 L242.20 41.27 L242.70 40.98 L243.20 40.69 L243.70 40.39 L244.20 40.09 L244.70 39.78 L245.20 39.48 L245.70 39.18 L246.20 38.87 L246.70 38.57 L247.20 38.26 L247.70 37.96 L248.20 37.66 L248.70 37.36 L249.20 37.07 L249.70 36.78 L250.20 36.49 L250.70 36.21 L251.20 35.94 L251.70 35.67 L252.20 35.40 L252.70 35.15 L253.00 35.00 L253.20 34.90 L253.70 34.65 L254.20 34.41 L254.70 34.16 L255.20 33.92 L255.70 33.67 L256.20 33.43 L256.70 33.18 L257.20 32.94 L257.70 32.70 L258.20 32.47 L258.70 32.23 L259.20 32.00 L259.70 31.77 L260.20 31.55 L260.70 31.33 L261.20 31.11 L261.70 30.90 L262.20 30.69 L262.70 30.49 L263.20 30.29 L263.70 30.10 L264.20 29.92 L264.70 29.74 L265.20 29.56 L265.70 29.40 L266.20 29.24 L266.70 29.09 L267.00 29.00 L267.20 28.94 L267.70 28.80 L268.20 28.66 L268.70 28.53 L269.20 28.39 L269.70 28.26 L270.20 28.13 L270.70 28.00 L271.20 27.88 L271.70 27.75 L272.20 27.63 L272.70 27.51 L273.20 27.40 L273.70 27.28 L274.20 27.17 L274.70 27.06 L275.20 26.96 L275.70 26.85 L276.20 26.75 L276.70 26.65 L277.20 26.55 L277.70 26.46 L278.20 26.37 L278.70 26.28 L279.20 26.19 L279.70 26.10 L280.20 26.02 L280.70 25.94 L281.20 25.86 L281.70 25.79 L282.20 25.71 L282.70 25.64 L283.00 25.60 L283.20 25.57 L283.70 25.50 L284.20 25.43 L284.70 25.36 L285.20 25.29 L285.70 25.22 L286.20 25.16 L286.70 25.09 L287.20 25.02 L287.70 24.95 L288.20 24.88 L288.70 24.81 L289.20 24.75 L289.70 24.69 L290.20 24.62 L290.70 24.56 L291.20 24.50 L291.70 24.45 L292.20 24.40 L292.70 24.34 L293.20 24.30 L293.70 24.25 L294.20 24.21 L294.70 24.17 L295.20 24.13 L295.70 24.10 L296.20 24.07 L296.70 24.05 L297.20 24.03 L297.70 24.02 L298.20 24.01 L298.70 24.00 L299.00 24.00 L299.20 24.00 L299.70 24.00 L300.20 24.01 L300.70 24.01 L301.20 24.02 L301.70 24.03 L302.20 24.04 L302.70 24.06 L303.20 24.07 L303.70 24.09 L304.20 24.11 L304.70 24.13 L305.20 24.15 L305.70 24.17 L306.20 24.20 L306.70 24.22 L307.20 24.25 L307.70 24.28 L308.20 24.31 L308.70 24.34 L309.20 24.38 L309.70 24.41 L310.20 24.45 L310.70 24.48 L311.20 24.52 L311.70 24.56 L312.20 24.60 L312.70 24.63 L313.20 24.67 L313.70 24.72 L314.20 24.76 L314.70 24.80 L315.20 24.84 L315.70 24.89 L316.20 24.93 L316.70 24.97 L317.00 25.00 L317.20 25.02 L317.70 25.07 L318.20 25.13 L318.70 25.20 L319.20 25.27 L319.70 25.36 L320.20 25.44 L320.70 25.53 L321.20 25.63 L321.70 25.73 L322.20 25.83 L322.70 25.94 L323.20 26.04 L323.70 26.15 L324.20 26.26 L324.70 26.36 L325.20 26.47 L325.70 26.57 L326.20 26.67 L326.70 26.77 L327.20 26.86 L327.70 26.95 L328.00 27.00 L328.20 27.03 L328.70 27.12 L329.20 27.20 L329.70 27.28 L330.20 27.36 L330.70 27.43 L331.20 27.51 L331.70 27.59 L332.20 27.67 L332.70 27.74 L333.20 27.82 L333.70 27.89 L334.20 27.97 L334.70 28.04 L335.20 28.11 L335.70 28.19 L336.20 28.26 L336.70 28.33 L337.20 28.40 L337.70 28.48 L338.20 28.55 L338.70 28.62 L339.20 28.69 L339.70 28.76 L340.20 28.84 L340.70 28.91 L341.20 28.98 L341.70 29.05 L342.20 29.13 L342.70 29.20 L343.20 29.27 L343.70 29.35 L344.20 29.42 L344.70 29.49 L345.20 29.57 L345.70 29.64 L346.20 29.72 L346.70 29.80 L347.20 29.87 L347.70 29.95 L348.00 30.00 L348.20 30.03 L348.70 30.11 L349.20 30.19 L349.70 30.27 L350.20 30.35 L350.70 30.43 L351.20 30.51 L351.70 30.60 L352.20 30.68 L352.70 30.76 L353.20 30.84 L353.70 30.93 L354.20 31.01 L354.70 31.09 L355.20 31.18 L355.70 31.26 L356.20 31.35 L356.70 31.43 L357.20 31.51 L357.70 31.60 L358.20 31.68 L358.70 31.77 L359.20 31.85 L359.70 31.94 L360.20 32.02 L360.70 32.11 L361.20 32.19 L361.70 32.28 L362.20 32.36 L362.70 32.45 L363.20 32.53 L363.70 32.61 L364.20 32.70 L364.70 32.78 L365.20 32.87 L365.70 32.95 L366.00 33.00 L366.20 33.03 L366.70 33.12 L367.20 33.20 L367.70 33.29 L368.20 33.38 L368.70 33.47 L369.20 33.56 L369.70 33.65 L370.20 33.74 L370.70 33.84 L371.20 33.93 L371.70 34.02 L372.20 34.11 L372.70 34.21 L373.20 34.30 L373.70 34.39 L374.20 34.48 L374.70 34.58 L375.20 34.67 L375.70 34.76 L376.20 34.84 L376.70 34.93 L377.20 35.02 L377.70 35.10 L378.20 35.19 L378.70 35.27 L379.20 35.35 L379.70 35.43 L380.20 35.50 L380.70 35.58 L381.20 35.65 L381.70 35.72 L382.20 35.78 L382.70 35.85 L383.20 35.91 L383.70 35.97 L384.00 36.00 L384.20 36.02 L384.70 36.07 L385.20 36.13 L385.70 36.18 L386.20 36.22 L386.70 36.27 L387.20 36.32 L387.70 36.36 L388.20 36.40 L388.70 36.45 L389.20 36.49 L389.70 36.53 L390.20 36.57 L390.70 36.61 L391.20 36.64 L391.70 36.68 L392.20 36.72 L392.70 36.75 L393.20 36.79 L393.70 36.83 L394.20 36.86 L394.70 36.90 L395.20 36.93 L395.70 36.96 L396.20 37.00 L396.70 37.03 L397.20 37.07 L397.70 37.10 L398.20 37.14 L398.70 37.18 L399.20 37.21 L399.70 37.25 L400.20 37.29 L400.70 37.33 L401.20 37.36 L401.70 37.40 L402.20 37.44 L402.70 37.49 L403.20 37.53 L403.70 37.57 L404.00 37.60 L404.20 37.62 L404.70 37.66 L405.20 37.71 L405.70 37.75 L406.20 37.79 L406.70 37.84 L407.20 37.88 L407.70 37.92 L408.20 37.96 L408.70 38.00 L409.20 38.04 L409.70 38.08 L410.20 38.13 L410.70 38.17 L411.20 38.21 L411.70 38.25 L412.20 38.29 L412.70 38.34 L413.20 38.38 L413.70 38.42 L414.20 38.47 L414.70 38.51 L415.20 38.56 L415.70 38.60 L416.20 38.65 L416.70 38.70 L417.20 38.75 L417.70 38.80 L418.20 38.85 L418.70 38.90 L419.20 38.95 L419.70 39.01 L420.20 39.06 L420.70 39.12 L421.20 39.18 L421.70 39.24 L422.20 39.30 L422.70 39.37 L423.20 39.43 L423.70 39.50 L424.20 39.57 L424.70 39.64 L425.20 39.72 L425.70 39.79 L426.20 39.87 L426.70 39.95 L427.00 40.00 L427.20 40.03 L427.70 40.12 L428.20 40.22 L428.70 40.33 L429.20 40.44 L429.70 40.57 L430.20 40.70 L430.70 40.83 L431.20 40.97 L431.70 41.12 L432.20 41.28 L432.70 41.44 L433.20 41.60 L433.70 41.78 L434.20 41.95 L434.70 42.13 L435.20 42.32 L435.70 42.51 L436.20 42.70 L436.70 42.90 L437.20 43.10 L437.70 43.30 L438.20 43.51 L438.70 43.72 L439.20 43.93 L439.70 44.14 L440.20 44.35 L440.70 44.57 L441.20 44.78 L441.70 45.00 L442.20 45.22 L442.70 45.44 L443.20 45.65 L443.70 45.87 L444.00 46.00 L444.20 46.09 L444.70 46.31 L445.20 46.53 L445.70 46.76 L446.20 46.99 L446.70 47.22 L447.20 47.46 L447.70 47.70 L448.20 47.94 L448.70 48.19 L449.20 48.44 L449.70 48.70 L450.20 48.96 L450.70 49.22 L451.20 49.49 L451.70 49.76 L452.20 50.03 L452.70 50.31 L453.20 50.60 L453.70 50.88 L454.20 51.17 L454.70 51.46 L455.20 51.76 L455.70 52.06 L456.20 52.37 L456.70 52.68 L457.20 52.99 L457.70 53.31 L458.20 53.63 L458.70 53.95 L459.20 54.28 L459.70 54.62 L460.20 54.95 L460.70 55.29 L461.00 55.50 L461.20 55.64 L461.70 56.00 L462.20 56.38 L462.70 56.77 L463.20 57.18 L463.70 57.60 L464.20 58.03 L464.70 58.46 L465.20 58.91 L465.70 59.37 L466.20 59.83 L466.70 60.29 L467.20 60.76 L467.70 61.23 L468.20 61.70 L468.70 62.17 L469.20 62.64 L469.70 63.11 L470.20 63.57 L470.70 64.02 L471.20 64.47 L471.70 64.91 L472.20 65.34 L472.70 65.76 L473.00 66.00 L473.20 66.16 L473.70 66.56 L474.20 66.95 L474.70 67.33 L475.20 67.71 L475.70 68.08 L476.20 68.45 L476.70 68.82 L477.20 69.18 L477.70 69.54 L478.20 69.90 L478.70 70.26 L479.20 70.62 L479.70 70.98 L480.20 71.34 L480.70 71.70 L481.20 72.06 L481.70 72.43 L482.20 72.81 L482.70 73.18 L483.20 73.57 L483.70 73.95 L484.20 74.35 L484.70 74.75 L485.00 75.00 L485.20 75.17 L485.70 75.59 L486.20 76.02 L486.70 76.46 L487.20 76.91 L487.70 77.37 L488.20 77.83 L488.70 78.30 L489.20 78.77 L489.70 79.25 L490.20 79.73 L490.70 80.21 L491.20 80.69 L491.70 81.17 L492.20 81.65 L492.70 82.13 L493.20 82.60 L493.70 83.07 L494.20 83.54 L494.70 84.00 L495.20 84.45 L495.70 84.89 L496.20 85.33 L496.70 85.75 L497.00 86.00 L497.20 86.16 L497.70 86.57 L498.20 86.97 L498.70 87.36 L499.20 87.75 L499.70 88.13 L500.20 88.50 L500.70 88.88 L501.20 89.25 L501.70 89.61 L502.20 89.97 L502.70 90.34 L503.20 90.70 L503.70 91.06 L504.20 91.42 L504.70 91.78 L505.20 92.14 L505.70 92.51 L506.20 92.87 L506.70 93.24 L507.20 93.62 L507.70 93.99 L508.20 94.38 L508.70 94.76 L509.00 95.00 L509.20 95.16 L509.70 95.56 L510.20 95.96 L510.70 96.37 L511.20 96.78 L511.70 97.20 L512.20 97.62 L512.70 98.04 L513.20 98.46 L513.70 98.89 L514.20 99.31 L514.70 99.74 L515.20 100.17 L515.70 100.60 L516.20 101.02 L516.70 101.45 L517.20 101.87 L517.70 102.29 L518.20 102.71 L518.70 103.13 L519.20 103.54 L519.70 103.95 L520.20 104.36 L520.70 104.76 L521.00 105.00 L521.20 105.16 L521.70 105.55 L522.20 105.95 L522.70 106.34 L523.20 106.73 L523.70 107.11 L524.20 107.50 L524.70 107.89 L525.20 108.27 L525.70 108.65 L526.20 109.03 L526.70 109.41 L527.20 109.79 L527.70 110.17 L528.20 110.55 L528.70 110.92 L529.20 111.29 L529.70 111.67 L530.20 112.04 L530.70 112.41 L531.20 112.78 L531.70 113.15 L532.20 113.51 L532.70 113.88 L533.20 114.25 L533.70 114.61 L534.20 114.98 L534.70 115.34 L535.20 115.70 L535.70 116.06 L536.20 116.42 L536.70 116.78 L537.00 117.00 L537.20 117.14 L537.70 117.50 L538.20 117.86 L538.70 118.22 L539.20 118.58 L539.70 118.94 L540.20 119.29 L540.70 119.65 L541.20 120.01 L541.70 120.36 L542.20 120.71 L542.70 121.07 L543.20 121.42 L543.70 121.77 L544.20 122.11 L544.70 122.46 L545.20 122.81 L545.70 123.15 L546.20 123.49 L546.70 123.83 L547.20 124.16 L547.70 124.50 L548.20 124.83 L548.70 125.16 L549.20 125.48 L549.70 125.81 L550.00 126.00 L550.20 126.13 L550.70 126.44 L551.20 126.75 L551.70 127.06 L552.20 127.36 L552.70 127.66 L553.20 127.96 L553.70 128.25 L554.20 128.55 L554.70 128.84 L555.20 129.13 L555.70 129.42 L556.20 129.71 L556.70 130.00 L557.20 130.30 L557.70 130.59 L558.20 130.89 L558.70 131.20 L559.20 131.50 L559.70 131.81 L560.00 132.00 L560.20 132.13 L560.70 132.45 L561.20 132.77 L561.70 133.10 L562.20 133.43 L562.70 133.76 L563.20 134.10 L563.70 134.43 L564.20 134.77 L564.70 135.11 L565.20 135.46 L565.70 135.80 L566.20 136.14 L566.70 136.48 L567.20 136.83 L567.70 137.17 L568.20 137.51 L568.70 137.84 L569.20 138.18 L569.70 138.51 L570.20 138.84 L570.70 139.17 L571.20 139.49 L571.70 139.81 L572.00 140.00 L572.20 140.13 L572.70 140.44 L573.20 140.75 L573.70 141.05 L574.20 141.36 L574.70 141.66 L575.20 141.96 L575.70 142.26 L576.20 142.56 L576.70 142.85 L577.20 143.14 L577.70 143.43 L578.00 143.60 L578.20 143.71 L578.70 144.00 L579.20 144.28 L579.70 144.57 L580.20 144.85 L580.70 145.13 L581.20 145.41 L581.70 145.69 L582.20 145.97 L582.70 146.25 L583.20 146.53 L583.70 146.81 L584.20 147.09 L584.70 147.37 L585.20 147.65 L585.70 147.93 L586.20 148.20 L586.70 148.48 L587.20 148.75 L587.70 149.03 L588.20 149.31 L588.70 149.58 L589.20 149.85 L589.70 150.13 L590.20 150.40 L590.70 150.67 L591.20 150.95 L591.70 151.22 L592.20 151.49 L592.70 151.76 L593.20 152.03 L593.70 152.30 L594.20 152.57 L594.70 152.84 L595.20 153.11 L595.70 153.38 L596.20 153.65 L596.70 153.92 L597.20 154.19 L597.70 154.45 L598.20 154.72 L598.70 154.99 L599.20 155.26 L599.70 155.52 L600.20 155.79 L600.70 156.05 L601.20 156.32 L601.70 156.58 L602.20 156.85 L602.70 157.11 L603.20 157.37 L603.70 157.64 L604.20 157.90 L604.70 158.16 L605.20 158.43 L605.70 158.69 L606.20 158.95 L606.70 159.21 L607.20 159.47 L607.70 159.74 L608.20 160.00 L608.70 160.26 L609.20 160.52 L609.70 160.78 L610.20 161.04 L610.70 161.30 L611.20 161.56 L611.70 161.82 L612.20 162.08 L612.70 162.33 L613.20 162.59 L613.70 162.85 L614.20 163.11 L614.70 163.37 L615.20 163.62 L615.70 163.88 L616.20 164.14 L616.70 164.40 L617.20 164.65 L617.70 164.91 L618.20 165.17 L618.70 165.42 L619.20 165.68 L619.70 165.93 L620.20 166.19 L620.70 166.44 L621.20 166.70 L621.70 166.96 L622.20 167.21 L622.70 167.47 L623.20 167.72 L623.70 167.97 L624.20 168.23 L624.70 168.48 L625.20 168.74 L625.70 168.99 L626.20 169.25 L626.70 169.50 L627.20 169.75 L627.70 170.01 L628.20 170.26 L628.70 170.51 L629.20 170.77 L629.70 171.02 L630.20 171.27 L630.70 171.53 L631.20 171.78 L631.70 172.03 L632.20 172.29 L632.70 172.54 L633.20 172.79 L633.70 173.04 L634.20 173.30 L634.70 173.55 L635.20 173.80 L635.70 174.06 L636.20 174.31 L636.70 174.56 L637.20 174.81 L637.70 175.07 L638.20 175.32 L638.70 175.57 L639.20 175.82 L639.70 176.08 L640.20 176.33 L640.70 176.58 L641.20 176.83 L641.70 177.09 L642.20 177.34 L642.70 177.59 L643.20 177.84 L643.70 178.10 L644.20 178.35 L644.70 178.60 L645.20 178.85 L645.70 179.11 L646.20 179.36 L646.70 179.61 L647.20 179.86 L647.70 180.12 L648.20 180.37 L648.70 180.62 L649.20 180.88 L649.70 181.13 L650.20 181.38 L650.70 181.64 L651.20 181.89 L651.70 182.14 L652.20 182.40 L652.70 182.65 L653.20 182.91 L653.70 183.16 L654.20 183.41 L654.70 183.67 L655.20 183.92 L655.70 184.18 L656.20 184.43 L656.70 184.69 L657.20 184.94 L657.70 185.20 L658.20 185.45 L658.70 185.71 L659.20 185.96 L659.70 186.22 L660.20 186.48 L660.70 186.73 L661.20 186.99 L661.70 187.25 L662.00 187.40 L662.20 187.50 L662.70 187.76 L663.20 188.02 L663.70 188.27 L664.20 188.53 L664.70 188.78 L665.20 189.04 L665.70 189.29 L666.20 189.55 L666.70 189.80 L667.20 190.06 L667.70 190.31 L668.20 190.56 L668.70 190.82 L669.20 191.07 L669.70 191.33 L670.20 191.58 L670.70 191.83 L671.20 192.09 L671.70 192.34 L672.20 192.59 L672.70 192.85 L673.00 193.00" stroke="#b3b3b3" stroke-dasharray="8.0 8.3"/>
<path d="M58.70 53.00 L59.20 52.99 L59.70 52.99 L60.20 52.98 L60.70 52.97 L61.20 52.97 L61.70 52.96 L62.20 52.95 L62.70 52.95 L63.20 52.94 L63.70 52.93 L64.20 52.92 L64.70 52.91 L65.20 52.91 L65.70 52.90 L66.20 52.89 L66.70 52.88 L67.20 52.87 L67.70 52.86 L68.20 52.86 L68.70 52.85 L69.20 52.84 L69.70 52.83 L70.20 52.82 L70.70 52.81 L71.20 52.80 L71.70 52.79 L72.20 52.78 L72.70 52.77 L73.20 52.76 L73.70 52.75 L74.20 52.74 L74.70 52.73 L75.20 52.72 L75.70 52.71 L76.00 52.70 L76.20 52.70 L76.70 52.68 L77.20 52.67 L77.70 52.66 L78.20 52.65 L78.70 52.64 L79.20 52.63 L79.70 52.62 L80.20 52.61 L80.70 52.60 L81.20 52.59 L81.70 52.57 L82.20 52.56 L82.70 52.55 L83.20 52.54 L83.70 52.53 L84.20 52.52 L84.70 52.51 L85.20 52.49 L85.70 52.48 L86.20 52.47 L86.70 52.46 L87.20 52.45 L87.70 52.43 L88.20 52.42 L88.70 52.41 L89.20 52.40 L89.70 52.38 L90.20 52.37 L90.70 52.36 L91.20 52.34 L91.70 52.33 L92.20 52.32 L92.70 52.30 L93.20 52.29 L93.70 52.27 L94.20 52.26 L94.70 52.24 L95.20 52.23 L95.70 52.21 L96.20 52.20 L96.70 52.18 L97.20 52.17 L97.70 52.15 L98.20 52.14 L98.70 52.12 L99.20 52.10 L99.70 52.09 L100.20 52.07 L100.70 52.05 L101.20 52.03 L101.70 52.01 L102.20 52.00 L102.70 51.98 L103.20 51.96 L103.70 51.94 L104.20 51.92 L104.70 51.90 L105.20 51.88 L105.70 51.86 L106.20 51.84 L106.70 51.81 L107.20 51.79 L107.70 51.77 L108.20 51.75 L108.70 51.72 L109.20 51.70 L109.70 51.68 L110.20 51.65 L110.70 51.63 L111.20 51.60 L111.70 51.58 L112.20 51.55 L112.70 51.53 L113.20 51.50 L113.70 51.47 L114.20 51.44 L114.70 51.42 L115.00 51.40 L115.20 51.39 L115.70 51.35 L116.20 51.32 L116.70 51.27 L117.20 51.23 L117.70 51.17 L118.20 51.12 L118.70 51.06 L119.20 51.00 L119.70 50.94 L120.20 50.87 L120.70 50.80 L121.20 50.74 L121.70 50.67 L122.20 50.60 L122.70 50.53 L123.20 50.46 L123.70 50.39 L124.20 50.33 L124.70 50.26 L125.20 50.20 L125.70 50.14 L126.20 50.08 L126.70 50.02 L127.20 49.97 L127.70 49.93 L128.00 49.90 L128.20 49.88 L128.70 49.84 L129.20 49.80 L129.70 49.77 L130.20 49.73 L130.70 49.69 L131.20 49.66 L131.70 49.63 L132.20 49.60 L132.70 49.56 L133.20 49.53 L133.70 49.51 L134.20 49.48 L134.70 49.45 L135.20 49.42 L135.70 49.39 L136.20 49.36 L136.70 49.33 L137.20 49.30 L137.70 49.27 L138.20 49.24 L138.70 49.21 L139.20 49.18 L139.70 49.15 L140.20 49.11 L140.70 49.08 L141.20 49.04 L141.70 49.01 L142.20 48.97 L142.70 48.93 L143.00 48.90 L143.20 48.88 L143.70 48.84 L144.20 48.79 L144.70 48.74 L145.20 48.70 L145.70 48.65 L146.20 48.59 L146.70 48.54 L147.20 48.49 L147.70 48.43 L148.20 48.37 L148.70 48.31 L149.20 48.26 L149.70 48.20 L150.20 48.13 L150.70 48.07 L151.20 48.01 L151.70 47.95 L152.20 47.88 L152.70 47.82 L153.20 47.75 L153.70 47.69 L154.20 47.62 L154.70 47.55 L155.20 47.48 L155.70 47.42 L156.20 47.35 L156.70 47.28 L157.20 47.21 L157.70 47.15 L158.20 47.08 L158.70 47.01 L159.20 46.94 L159.70 46.87 L160.20 46.81 L160.70 46.74 L161.00 46.70 L161.20 46.67 L161.70 46.61 L162.20 46.54 L162.70 46.47 L163.20 46.41 L163.70 46.34 L164.20 46.28 L164.70 46.21 L165.20 46.14 L165.70 46.08 L166.20 46.01 L166.70 45.94 L167.20 45.88 L167.70 45.81 L168.20 45.74 L168.70 45.68 L169.20 45.61 L169.70 45.54 L170.20 45.47 L170.70 45.40 L171.20 45.33 L171.70 45.27 L172.20 45.20 L172.70 45.13 L173.20 45.05 L173.70 44.98 L174.20 44.91 L174.70 44.84 L175.20 44.77 L175.70 44.69 L176.20 44.62 L176.70 44.54 L177.20 44.47 L177.70 44.39 L178.20 44.32 L178.70 44.24 L179.20 44.16 L179.70 44.08 L180.20 44.00 L180.70 43.92 L181.20 43.84 L181.70 43.75 L182.20 43.67 L182.70 43.59 L183.20 43.50 L183.70 43.41 L184.20 43.33 L184.70 43.24 L185.20 43.15 L185.70 43.06 L186.00 43.00 L186.20 42.96 L186.70 42.86 L187.20 42.76 L187.70 42.65 L188.20 42.53 L188.70 42.41 L189.20 42.30 L189.70 42.18 L190.20 42.07 L190.70 41.96 L191.00 41.90 L191.20 41.86 L191.70 41.76 L192.20 41.66 L192.70 41.56 L193.20 41.46 L193.70 41.37 L194.20 41.27 L194.70 41.17 L195.20 41.08 L195.70 40.98 L196.20 40.89 L196.70 40.80 L197.20 40.71 L197.70 40.61 L198.20 40.52 L198.70 40.43 L199.20 40.34 L199.70 40.25 L200.20 40.16 L200.70 40.07 L201.20 39.99 L201.70 39.90 L202.20 39.81 L202.70 39.72 L203.20 39.63 L203.70 39.55 L204.20 39.46 L204.70 39.37 L205.20 39.29 L205.70 39.20 L206.20 39.11 L206.70 39.03 L207.20 38.94 L207.70 38.86 L208.20 38.77 L208.60 38.70 L208.70 38.68 L209.20 38.60 L209.70 38.51 L210.20 38.42 L210.70 38.33 L211.20 38.24 L211.70 38.16 L212.20 38.07 L212.70 37.98 L213.20 37.89 L213.70 37.80 L214.20 37.71 L214.70 37.63 L215.20 37.54 L215.70 37.45 L216.20 37.36 L216.70 37.28 L217.20 37.19 L217.70 37.11 L218.20 37.02 L218.70 36.94 L219.20 36.86 L219.70 36.78 L220.20 36.70 L220.70 36.62 L221.20 36.54 L221.70 36.46 L222.20 36.39 L222.70 36.32 L223.20 36.24 L223.70 36.17 L224.20 36.11 L224.70 36.04 L225.00 36.00 L225.20 35.97 L225.70 35.91 L226.20 35.84 L226.70 35.78 L227.20 35.71 L227.70 35.64 L228.20 35.58 L228.70 35.51 L229.20 35.45 L229.70 35.38 L230.20 35.32 L230.70 35.25 L231.20 35.19 L231.70 35.13 L232.20 35.07 L232.70 35.01 L233.20 34.95 L233.70 34.89 L234.20 34.84 L234.70 34.79 L235.20 34.74 L235.70 34.69 L236.20 34.65 L236.70 34.60 L237.20 34.56 L237.70 34.53 L238.20 34.49 L238.70 34.46 L239.20 34.44 L239.70 34.41 L240.00 34.40 L240.20 34.39 L240.70 34.37 L241.20 34.35 L241.70 34.33 L242.20 34.32 L242.70 34.30 L243.20 34.28 L243.70 34.26 L244.20 34.25 L244.70 34.23 L245.20 34.21 L245.70 34.20 L246.20 34.18 L246.70 34.17 L247.20 34.15 L247.70 34.14 L248.20 34.12 L248.70 34.11 L249.20 34.10 L249.70 34.09 L250.20 34.08 L250.70 34.07 L251.20 34.06 L251.70 34.05 L252.20 34.04 L252.70 34.03 L253.20 34.03 L253.70 34.02 L254.20 34.01 L254.70 34.01 L255.20 34.01 L255.70 34.00 L256.20 34.00 L256.70 34.00 L257.00 34.00 L257.20 34.00 L257.70 34.01 L258.20 34.02 L258.70 34.05 L259.20 34.08 L259.70 34.12 L260.20 34.16 L260.70 34.22 L261.20 34.27 L261.70 34.34 L262.20 34.40 L262.70 34.48 L263.20 34.55 L263.70 34.63 L264.20 34.72 L264.70 34.81 L265.20 34.90 L265.70 34.99 L266.20 35.08 L266.70 35.18 L267.20 35.27 L267.70 35.37 L268.20 35.47 L268.70 35.57 L269.20 35.66 L269.70 35.76 L270.20 35.85 L270.70 35.95 L271.00 36.00 L271.20 36.04 L271.70 36.13 L272.20 36.23 L272.70 36.33 L273.20 36.43 L273.70 36.54 L274.20 36.64 L274.70 36.76 L275.20 36.87 L275.70 36.99 L276.20 37.10 L276.70 37.23 L277.20 37.35 L277.70 37.47 L278.20 37.60 L278.70 37.73 L279.20 37.86 L279.70 37.99 L280.20 38.12 L280.70 38.26 L281.20 38.39 L281.70 38.53 L282.20 38.66 L282.70 38.80 L283.20 38.94 L283.70 39.08 L284.20 39.22 L284.70 39.36 L285.20 39.50 L285.70 39.64 L286.20 39.78 L286.70 39.92 L287.00 40.00 L287.20 40.06 L287.70 40.20 L288.20 40.34 L288.70 40.48 L289.20 40.62 L289.70 40.76 L290.20 40.91 L290.70 41.06 L291.20 41.20 L291.70 41.35 L292.20 41.50 L292.70 41.65 L293.20 41.80 L293.70 41.95 L294.20 42.11 L294.70 42.26 L295.20 42.42 L295.70 42.57 L296.20 42.73 L296.70 42.89 L297.20 43.05 L297.70 43.21 L298.20 43.38 L298.70 43.54 L299.20 43.70 L299.70 43.87 L300.20 44.04 L300.70 44.21 L301.20 44.38 L301.70 44.55 L302.20 44.72 L302.70 44.90 L303.00 45.00 L303.20 45.07 L303.70 45.25 L304.20 45.43 L304.70 45.61 L305.20 45.79 L305.70 45.97 L306.20 46.16 L306.70 46.34 L307.20 46.53 L307.70 46.72 L308.20 46.91 L308.70 47.11 L309.20 47.30 L309.70 47.50 L310.20 47.69 L310.70 47.89 L311.20 48.09 L311.70 48.29 L312.20 48.49 L312.70 48.70 L313.20 48.90 L313.70 49.10 L314.20 49.31 L314.70 49.52 L315.20 49.73 L315.70 49.93 L316.20 50.14 L316.70 50.35 L317.20 50.57 L317.70 50.78 L318.20 50.99 L318.70 51.20 L319.20 51.42 L319.70 51.63 L320.20 51.85 L320.70 52.06 L321.20 52.28 L321.70 52.50 L322.20 52.71 L322.70 52.93 L323.20 53.15 L323.70 53.37 L324.00 53.50 L324.20 53.59 L324.70 53.81 L325.20 54.03 L325.70 54.25 L326.20 54.48 L326.70 54.70 L327.20 54.93 L327.70 55.16 L328.20 55.39 L328.70 55.62 L329.20 55.85 L329.70 56.08 L330.20 56.32 L330.70 56.55 L331.20 56.79 L331.70 57.03 L332.20 57.26 L332.70 57.50 L333.20 57.74 L333.70 57.98 L334.20 58.22 L334.70 58.46 L335.20 58.70 L335.70 58.95 L336.20 59.19 L336.70 59.43 L337.20 59.68 L337.70 59.92 L338.20 60.16 L338.70 60.41 L339.20 60.65 L339.70 60.90 L340.20 61.14 L340.70 61.39 L341.20 61.63 L341.70 61.88 L342.20 62.12 L342.70 62.37 L343.20 62.61 L343.70 62.85 L344.00 63.00 L344.20 63.10 L344.70 63.34 L345.20 63.59 L345.70 63.84 L346.20 64.09 L346.70 64.34 L347.20 64.59 L347.70 64.84 L348.20 65.10 L348.70 65.35 L349.20 65.61 L349.70 65.86 L350.20 66.12 L350.70 66.38 L351.20 66.64 L351.70 66.89 L352.20 67.15 L352.70 67.41 L353.20 67.67 L353.70 67.92 L354.20 68.18 L354.70 68.44 L355.20 68.69 L355.70 68.95 L356.20 69.20 L356.70 69.46 L357.20 69.71 L357.70 69.96 L358.20 70.21 L358.70 70.46 L359.20 70.71 L359.70 70.96 L360.20 71.20 L360.70 71.45 L361.20 71.69 L361.70 71.93 L362.20 72.16 L362.70 72.40 L363.20 72.63 L363.70 72.86 L364.00 73.00 L364.20 73.09 L364.70 73.31 L365.20 73.52 L365.70 73.73 L366.20 73.93 L366.70 74.13 L367.20 74.33 L367.70 74.53 L368.20 74.73 L368.70 74.94 L369.20 75.15 L369.70 75.37 L370.20 75.60 L370.70 75.85 L371.00 76.00 L371.20 76.10 L371.70 76.37 L372.20 76.65 L372.70 76.94 L373.20 77.23 L373.70 77.54 L374.20 77.85 L374.70 78.17 L375.20 78.50 L375.70 78.83 L376.20 79.18 L376.70 79.52 L377.20 79.88 L377.70 80.23 L378.20 80.60 L378.70 80.96 L379.20 81.33 L379.70 81.71 L380.20 82.08 L380.70 82.46 L381.20 82.84 L381.70 83.23 L382.20 83.61 L382.70 84.00 L383.20 84.38 L383.70 84.77 L384.00 85.00 L384.20 85.15 L384.70 85.54 L385.20 85.93 L385.70 86.33 L386.20 86.72 L386.70 87.12 L387.20 87.52 L387.70 87.93 L388.20 88.34 L388.70 88.75 L389.20 89.17 L389.70 89.58 L390.20 90.01 L390.70 90.43 L391.20 90.86 L391.70 91.29 L392.20 91.73 L392.70 92.17 L393.20 92.61 L393.70 93.05 L394.20 93.50 L394.70 93.96 L395.20 94.41 L395.70 94.87 L396.20 95.34 L396.70 95.81 L397.20 96.28 L397.70 96.76 L398.20 97.24 L398.70 97.72 L399.20 98.21 L399.70 98.70 L400.00 99.00 L400.20 99.20 L400.70 99.71 L401.20 100.22 L401.70 100.74 L402.20 101.28 L402.70 101.82 L403.20 102.36 L403.70 102.92 L404.20 103.48 L404.70 104.04 L405.20 104.62 L405.70 105.19 L406.20 105.77 L406.70 106.36 L407.20 106.94 L407.70 107.53 L408.20 108.13 L408.70 108.72 L409.20 109.32 L409.70 109.91 L410.20 110.51 L410.70 111.11 L411.20 111.70 L411.70 112.30 L412.20 112.89 L412.70 113.48 L413.20 114.07 L413.70 114.65 L414.00 115.00 L414.20 115.23 L414.70 115.81 L415.20 116.38 L415.70 116.95 L416.20 117.52 L416.70 118.09 L417.20 118.66 L417.70 119.23 L418.20 119.80 L418.70 120.38 L419.20 120.96 L419.70 121.55 L420.20 122.15 L420.70 122.75 L421.20 123.36 L421.70 123.98 L422.20 124.61 L422.50 125.00 L422.70 125.26 L423.20 125.94 L423.70 126.64 L424.20 127.37 L424.70 128.11 L425.20 128.86 L425.70 129.63 L426.20 130.39 L426.70 131.15 L427.20 131.90 L427.70 132.64 L428.20 133.36 L428.70 134.05 L429.20 134.71 L429.70 135.34 L430.00 135.70 L430.20 135.93 L430.70 136.51 L431.20 137.09 L431.70 137.65 L432.20 138.21 L432.70 138.75 L433.20 139.29 L433.70 139.80 L434.20 140.31 L434.70 140.80 L435.20 141.26 L435.70 141.71 L436.20 142.14 L436.70 142.54 L437.20 142.92 L437.60 143.20 L437.70 143.27 L438.20 143.62 L438.70 143.98 L439.20 144.34 L439.70 144.70 L440.20 145.06 L440.70 145.40 L441.20 145.72 L441.70 146.02 L442.20 146.30 L442.70 146.54 L443.20 146.75 L443.70 146.91 L444.20 147.03 L444.70 147.09 L445.00 147.10 L445.20 147.10 L445.70 147.08 L446.20 147.05 L446.70 147.00 L447.20 146.94 L447.70 146.86 L448.20 146.78 L448.70 146.68 L449.20 146.57 L449.70 146.46 L450.20 146.33 L450.70 146.20 L451.20 146.07 L451.70 145.93 L452.20 145.79 L452.70 145.65 L453.20 145.51 L453.60 145.40 L453.70 145.37 L454.20 145.22 L454.70 145.05 L455.20 144.86 L455.70 144.66 L456.20 144.45 L456.70 144.22 L457.20 143.98 L457.70 143.73 L458.20 143.47 L458.70 143.20 L459.20 142.93 L459.70 142.65 L460.20 142.37 L460.70 142.08 L461.20 141.80 L461.70 141.51 L462.20 141.22 L462.70 140.94 L463.20 140.66 L463.70 140.38 L464.20 140.11 L464.40 140.00 L464.70 139.84 L465.20 139.56 L465.70 139.28 L466.20 138.99 L466.70 138.69 L467.20 138.39 L467.70 138.08 L468.20 137.77 L468.70 137.46 L469.20 137.15 L469.70 136.85 L470.20 136.54 L470.70 136.24 L471.20 135.95 L471.70 135.66 L472.20 135.38 L472.70 135.10 L473.20 134.84 L473.70 134.59 L474.20 134.35 L474.70 134.13 L475.00 134.00 L475.20 133.92 L475.70 133.71 L476.20 133.51 L476.70 133.31 L477.20 133.11 L477.70 132.91 L478.20 132.72 L478.70 132.53 L479.20 132.34 L479.70 132.15 L480.20 131.97 L480.70 131.80 L481.20 131.62 L481.70 131.45 L482.20 131.29 L482.70 131.12 L483.20 130.97 L483.70 130.81 L484.20 130.67 L484.70 130.52 L485.20 130.38 L485.70 130.25 L486.20 130.12 L486.70 130.00 L487.20 129.88 L487.70 129.76 L488.20 129.66 L488.70 129.56 L489.00 129.50 L489.20 129.46 L489.70 129.37 L490.20 129.27 L490.70 129.18 L491.20 129.08 L491.70 128.99 L492.20 128.90 L492.70 128.80 L493.20 128.71 L493.70 128.62 L494.20 128.53 L494.70 128.45 L495.20 128.36 L495.70 128.28 L496.20 128.20 L496.70 128.12 L497.20 128.04 L497.70 127.97 L498.20 127.90 L498.70 127.84 L499.20 127.78 L499.70 127.72 L500.20 127.66 L500.70 127.61 L501.20 127.57 L501.70 127.53 L502.20 127.49 L502.70 127.46 L503.20 127.44 L503.70 127.42 L504.20 127.41 L504.70 127.40 L505.00 127.40 L505.20 127.40 L505.70 127.40 L506.20 127.41 L506.70 127.41 L507.20 127.42 L507.70 127.43 L508.20 127.44 L508.70 127.45 L509.20 127.46 L509.70 127.48 L510.20 127.50 L510.70 127.51 L511.20 127.53 L511.70 127.55 L512.20 127.57 L512.70 127.59 L513.20 127.62 L513.70 127.64 L514.20 127.66 L514.70 127.69 L515.20 127.71 L515.70 127.74 L516.20 127.76 L516.70 127.79 L517.20 127.81 L517.70 127.84 L518.20 127.86 L518.70 127.89 L519.20 127.91 L519.70 127.94 L520.20 127.96 L520.70 127.99 L521.00 128.00 L521.20 128.01 L521.70 128.03 L522.20 128.06 L522.70 128.08 L523.20 128.11 L523.70 128.13 L524.20 128.16 L524.70 128.18 L525.20 128.21 L525.70 128.24 L526.20 128.26 L526.70 128.29 L527.20 128.32 L527.70 128.35 L528.20 128.38 L528.70 128.41 L529.20 128.44 L529.70 128.47 L530.20 128.50 L530.70 128.53 L531.20 128.57 L531.70 128.60 L532.20 128.63 L532.70 128.67 L533.20 128.70 L533.70 128.74 L534.20 128.78 L534.70 128.82 L535.20 128.85 L535.70 128.89 L536.20 128.93 L536.70 128.97 L537.00 129.00 L537.20 129.02 L537.70 129.06 L538.20 129.10 L538.70 129.15 L539.20 129.20 L539.70 129.25 L540.20 129.30 L540.70 129.35 L541.20 129.41 L541.70 129.46 L542.20 129.52 L542.70 129.58 L543.20 129.64 L543.70 129.70 L544.20 129.76 L544.70 129.82 L545.20 129.89 L545.70 129.96 L546.20 130.03 L546.70 130.10 L547.20 130.17 L547.70 130.24 L548.20 130.32 L548.70 130.39 L549.20 130.47 L549.70 130.55 L550.00 130.60 L550.20 130.63 L550.70 130.72 L551.20 130.82 L551.70 130.93 L552.20 131.04 L552.70 131.16 L553.20 131.29 L553.70 131.42 L554.20 131.55 L554.70 131.69 L555.20 131.84 L555.70 131.98 L556.20 132.12 L556.70 132.27 L557.20 132.42 L557.70 132.56 L558.20 132.70 L558.70 132.84 L559.20 132.98 L559.70 133.12 L560.20 133.25 L560.70 133.37 L561.20 133.49 L561.70 133.60 L562.20 133.70 L562.70 133.80 L563.20 133.88 L563.70 133.96 L564.00 134.00 L564.20 134.03 L564.70 134.09 L565.20 134.15 L565.70 134.21 L566.20 134.26 L566.70 134.32 L567.20 134.37 L567.70 134.42 L568.20 134.47 L568.70 134.51 L569.20 134.56 L569.70 134.60 L570.20 134.64 L570.70 134.68 L571.20 134.72 L571.70 134.76 L572.20 134.80 L572.70 134.83 L573.20 134.87 L573.70 134.90 L574.20 134.94 L574.70 134.97 L575.20 135.00 L575.70 135.04 L576.20 135.07 L576.70 135.10 L577.20 135.13 L577.70 135.17 L578.20 135.20 L578.70 135.23 L579.20 135.26 L579.70 135.30 L580.20 135.33 L580.70 135.37 L581.20 135.40 L581.70 135.44 L582.20 135.47 L582.70 135.51 L583.20 135.55 L583.70 135.59 L584.20 135.63 L584.70 135.67 L585.20 135.72 L585.70 135.77 L586.20 135.81 L586.70 135.86 L587.20 135.91 L587.70 135.97 L588.00 136.00 L588.20 136.02 L588.70 136.08 L589.20 136.14 L589.70 136.20 L590.20 136.27 L590.70 136.34 L591.20 136.41 L591.70 136.48 L592.20 136.55 L592.70 136.63 L593.20 136.71 L593.70 136.78 L594.20 136.87 L594.70 136.95 L595.20 137.03 L595.70 137.12 L596.20 137.20 L596.70 137.29 L597.20 137.38 L597.70 137.47 L598.20 137.56 L598.70 137.65 L599.20 137.74 L599.70 137.83 L600.20 137.92 L600.70 138.02 L601.20 138.11 L601.70 138.20 L602.20 138.30 L602.70 138.39 L603.20 138.48 L603.70 138.58 L604.20 138.67 L604.70 138.76 L605.20 138.85 L605.70 138.94 L606.20 139.03 L606.70 139.12 L607.20 139.21 L607.70 139.30 L608.20 139.39 L608.70 139.47 L609.20 139.56 L609.70 139.64 L610.20 139.72 L610.70 139.80 L611.20 139.88 L611.70 139.96 L612.00 140.00 L612.20 140.03 L612.70 140.10 L613.20 140.18 L613.70 140.25 L614.20 140.32 L614.70 140.39 L615.20 140.46 L615.70 140.53 L616.20 140.60 L616.70 140.67 L617.20 140.74 L617.70 140.81 L618.20 140.87 L618.70 140.94 L619.20 141.01 L619.70 141.07 L620.20 141.14 L620.70 141.21 L621.20 141.27 L621.70 141.34 L622.20 141.40 L622.70 141.46 L623.20 141.53 L623.70 141.59 L624.20 141.66 L624.70 141.72 L625.20 141.78 L625.70 141.85 L626.20 141.91 L626.70 141.97 L627.20 142.04 L627.70 142.10 L628.20 142.16 L628.70 142.23 L629.20 142.29 L629.70 142.35 L630.20 142.42 L630.70 142.48 L631.20 142.54 L631.70 142.61 L632.20 142.67 L632.70 142.74 L633.20 142.80 L633.70 142.86 L634.20 142.93 L634.70 142.99 L635.20 143.06 L635.70 143.13 L636.20 143.19 L636.70 143.26 L637.20 143.33 L637.70 143.40 L638.20 143.46 L638.70 143.53 L639.20 143.60 L639.70 143.67 L640.20 143.74 L640.70 143.81 L641.20 143.88 L641.70 143.96 L642.00 144.00 L642.20 144.03 L642.70 144.10 L643.20 144.18 L643.70 144.25 L644.20 144.32 L644.70 144.40 L645.20 144.47 L645.70 144.55 L646.20 144.62 L646.70 144.70 L647.20 144.77 L647.70 144.85 L648.20 144.92 L648.70 145.00 L649.20 145.08 L649.70 145.15 L650.20 145.23 L650.70 145.31 L651.20 145.39 L651.70 145.46 L652.20 145.54 L652.70 145.62 L653.20 145.70 L653.70 145.78 L654.20 145.86 L654.70 145.94 L655.20 146.02 L655.70 146.10 L656.20 146.18 L656.70 146.26 L657.20 146.34 L657.70 146.42 L658.20 146.50 L658.70 146.58 L659.20 146.66 L659.70 146.74 L660.20 146.83 L660.70 146.91 L661.20 146.99 L661.70 147.07 L662.20 147.16 L662.70 147.24 L663.20 147.32 L663.70 147.41 L664.20 147.49 L664.70 147.57 L665.20 147.66 L665.70 147.74 L666.20 147.83 L666.70 147.91 L667.20 148.00 L667.70 148.08 L668.20 148.17 L668.70 148.25 L669.20 148.34 L669.70 148.43 L670.20 148.51 L670.70 148.60 L671.20 148.69 L671.70 148.77 L672.20 148.86 L672.70 148.95 L673.00 149.00" stroke="#b3b3b3" stroke-dasharray="9.2 2.7 2.1 2.7"/>
<path d="M58.70 54.20 L59.20 54.22 L59.70 54.24 L60.20 54.26 L60.70 54.29 L61.20 54.31 L61.70 54.33 L62.20 54.35 L62.70 54.38 L63.20 54.40 L63.70 54.42 L64.20 54.45 L64.70 54.47 L65.20 54.49 L65.70 54.52 L66.20 54.54 L66.70 54.57 L67.20 54.59 L67.70 54.62 L68.20 54.64 L68.70 54.67 L69.20 54.69 L69.70 54.72 L70.20 54.75 L70.70 54.77 L71.20 54.80 L71.70 54.83 L72.20 54.85 L72.70 54.88 L73.20 54.91 L73.70 54.93 L74.20 54.96 L74.70 54.99 L75.20 55.02 L75.70 55.05 L76.20 55.08 L76.70 55.10 L77.20 55.13 L77.70 55.16 L78.20 55.19 L78.70 55.22 L79.20 55.25 L79.70 55.28 L80.00 55.30 L80.20 55.31 L80.70 55.34 L81.20 55.37 L81.70 55.40 L82.20 55.44 L82.70 55.47 L83.20 55.50 L83.70 55.53 L84.20 55.56 L84.70 55.60 L85.20 55.63 L85.70 55.66 L86.20 55.69 L86.70 55.73 L87.20 55.76 L87.70 55.80 L88.20 55.83 L88.70 55.86 L89.20 55.90 L89.70 55.93 L90.20 55.97 L90.70 56.00 L91.20 56.04 L91.70 56.07 L92.20 56.11 L92.70 56.15 L93.20 56.18 L93.70 56.22 L94.20 56.26 L94.70 56.29 L95.20 56.33 L95.70 56.37 L96.20 56.40 L96.70 56.44 L97.20 56.48 L97.70 56.52 L98.20 56.56 L98.70 56.59 L99.20 56.63 L99.70 56.67 L100.20 56.71 L100.70 56.75 L101.20 56.79 L101.70 56.83 L102.20 56.87 L102.70 56.91 L103.20 56.95 L103.70 56.99 L104.20 57.03 L104.70 57.07 L105.20 57.11 L105.70 57.15 L106.20 57.19 L106.70 57.24 L107.20 57.28 L107.70 57.32 L108.20 57.36 L108.70 57.40 L109.20 57.45 L109.70 57.49 L110.20 57.53 L110.70 57.57 L111.20 57.62 L111.70 57.66 L112.20 57.70 L112.70 57.75 L113.20 57.79 L113.70 57.83 L114.20 57.88 L114.70 57.92 L115.20 57.97 L115.70 58.01 L116.20 58.06 L116.70 58.10 L117.20 58.15 L117.70 58.19 L118.20 58.24 L118.70 58.28 L119.20 58.33 L119.70 58.37 L120.00 58.40 L120.20 58.42 L120.70 58.46 L121.20 58.51 L121.70 58.56 L122.20 58.61 L122.70 58.66 L123.20 58.70 L123.70 58.75 L124.20 58.80 L124.70 58.85 L125.20 58.90 L125.70 58.96 L126.20 59.01 L126.70 59.06 L127.20 59.11 L127.70 59.16 L128.20 59.22 L128.70 59.27 L129.20 59.33 L129.70 59.38 L130.20 59.43 L130.70 59.49 L131.20 59.54 L131.70 59.60 L132.20 59.65 L132.70 59.71 L133.20 59.77 L133.70 59.82 L134.20 59.88 L134.70 59.94 L135.20 59.99 L135.70 60.05 L136.20 60.11 L136.70 60.16 L137.20 60.22 L137.70 60.28 L138.20 60.34 L138.70 60.40 L139.20 60.45 L139.70 60.51 L140.20 60.57 L140.70 60.63 L141.20 60.69 L141.70 60.74 L142.20 60.80 L142.70 60.86 L143.20 60.92 L143.70 60.98 L144.20 61.03 L144.70 61.09 L145.20 61.15 L145.70 61.21 L146.20 61.27 L146.70 61.32 L147.20 61.38 L147.70 61.44 L148.20 61.50 L148.70 61.55 L149.20 61.61 L149.70 61.67 L150.00 61.70 L150.20 61.72 L150.70 61.78 L151.20 61.83 L151.70 61.89 L152.20 61.94 L152.70 61.99 L153.20 62.05 L153.70 62.10 L154.20 62.15 L154.70 62.20 L155.20 62.25 L155.70 62.30 L156.20 62.35 L156.70 62.40 L157.20 62.45 L157.70 62.50 L158.20 62.55 L158.70 62.60 L159.20 62.64 L159.70 62.69 L160.20 62.74 L160.70 62.79 L161.20 62.84 L161.70 62.88 L162.20 62.93 L162.70 62.98 L163.20 63.03 L163.70 63.07 L164.20 63.12 L164.70 63.17 L165.20 63.22 L165.70 63.27 L166.20 63.32 L166.70 63.37 L167.20 63.42 L167.70 63.47 L168.20 63.52 L168.70 63.57 L169.20 63.62 L169.70 63.67 L170.20 63.72 L170.70 63.77 L171.20 63.83 L171.70 63.88 L172.20 63.94 L172.70 63.99 L173.20 64.05 L173.70 64.10 L174.20 64.16 L174.70 64.22 L175.20 64.28 L175.70 64.34 L176.20 64.40 L176.70 64.46 L177.20 64.52 L177.70 64.59 L178.20 64.65 L178.70 64.72 L179.20 64.79 L179.70 64.85 L180.20 64.92 L180.70 64.99 L181.20 65.07 L181.70 65.14 L182.20 65.21 L182.70 65.29 L183.20 65.37 L183.70 65.44 L184.20 65.52 L184.70 65.61 L185.20 65.69 L185.70 65.77 L186.20 65.86 L186.70 65.95 L187.00 66.00 L187.20 66.04 L187.70 66.13 L188.20 66.23 L188.70 66.34 L189.20 66.46 L189.70 66.58 L190.20 66.71 L190.70 66.84 L191.20 66.97 L191.70 67.11 L192.20 67.26 L192.70 67.41 L193.20 67.56 L193.70 67.71 L194.20 67.87 L194.70 68.03 L195.20 68.19 L195.70 68.36 L196.20 68.53 L196.70 68.69 L197.20 68.86 L197.70 69.03 L198.20 69.20 L198.70 69.37 L199.20 69.53 L199.70 69.70 L200.00 69.80 L200.20 69.87 L200.70 70.03 L201.20 70.20 L201.70 70.36 L202.20 70.53 L202.70 70.70 L203.20 70.87 L203.70 71.04 L204.20 71.21 L204.70 71.38 L205.20 71.56 L205.70 71.74 L206.20 71.92 L206.70 72.10 L207.20 72.29 L207.70 72.49 L208.20 72.68 L208.70 72.89 L209.20 73.09 L209.70 73.30 L210.20 73.52 L210.70 73.74 L211.20 73.97 L211.70 74.21 L212.20 74.45 L212.30 74.50 L212.70 74.70 L213.20 74.97 L213.70 75.25 L214.20 75.54 L214.70 75.84 L215.20 76.16 L215.70 76.48 L216.20 76.82 L216.70 77.16 L217.20 77.51 L217.70 77.87 L218.20 78.23 L218.70 78.60 L219.20 78.97 L219.70 79.35 L220.20 79.73 L220.70 80.11 L221.20 80.50 L221.70 80.88 L222.20 81.26 L222.70 81.65 L223.20 82.03 L223.70 82.40 L224.20 82.78 L224.50 83.00 L224.70 83.15 L225.20 83.52 L225.70 83.88 L226.20 84.25 L226.70 84.61 L227.20 84.98 L227.70 85.35 L228.20 85.72 L228.70 86.10 L229.20 86.47 L229.70 86.85 L230.20 87.24 L230.70 87.63 L231.20 88.03 L231.70 88.44 L232.20 88.85 L232.70 89.27 L233.20 89.70 L233.70 90.14 L234.10 90.50 L234.20 90.59 L234.70 91.05 L235.20 91.51 L235.70 91.98 L236.20 92.45 L236.70 92.93 L237.20 93.43 L237.70 93.93 L238.20 94.44 L238.70 94.97 L239.20 95.50 L239.70 96.06 L240.20 96.62 L240.70 97.20 L241.20 97.80 L241.70 98.41 L242.20 99.05 L242.70 99.70 L243.20 100.38 L243.70 101.09 L244.20 101.84 L244.70 102.62 L245.20 103.42 L245.70 104.26 L246.20 105.13 L246.70 106.03 L247.20 106.96 L247.70 107.91 L248.00 108.50 L248.20 108.90 L248.70 109.94 L249.20 111.04 L249.70 112.18 L250.20 113.38 L250.70 114.60 L251.20 115.86 L251.70 117.14 L252.20 118.43 L252.70 119.74 L252.80 120.00 L253.20 121.05 L253.70 122.40 L254.20 123.79 L254.70 125.21 L255.20 126.68 L255.70 128.19 L255.80 128.50 L256.20 129.75 L256.70 131.37 L257.20 133.04 L257.70 134.79 L258.20 136.62 L258.30 137.00 L258.70 138.57 L259.20 140.66 L259.70 142.84 L260.20 145.08 L260.70 147.35 L261.00 148.70 L261.20 149.60 L261.70 151.84 L262.20 154.09 L262.70 156.38 L263.20 158.73 L263.70 161.16 L264.20 163.70 L264.70 166.35 L265.20 169.10 L265.70 171.97 L266.20 174.95 L266.70 178.06 L267.00 180.00 L267.20 181.34 L267.70 184.91 L268.20 188.68 L268.70 192.51 L269.20 196.27 L269.30 197.00 L269.70 199.83 L270.20 203.37 L270.70 206.90 L271.20 210.44 L271.70 213.98 L272.20 217.52 L272.70 221.05 L273.20 224.59 L273.30 225.30 L273.70 226.03 L274.20 226.94 L274.70 227.86 L275.20 228.77 L275.70 229.68 L276.20 230.60 L276.70 231.51 L277.20 232.42 L277.70 233.33 L278.20 234.25 L278.70 235.16 L279.20 236.07 L279.70 236.99 L280.20 237.90 L280.70 233.61 L281.20 229.32 L281.40 227.60 L281.70 221.69 L282.20 211.85 L282.70 202.00 L283.20 199.62 L283.70 197.24 L284.20 194.86 L284.70 192.48 L284.80 192.00 L285.20 189.60 L285.70 186.24 L286.20 182.72 L286.70 179.29 L286.90 178.00 L287.20 176.12 L287.70 173.01 L288.20 169.94 L288.70 166.94 L289.20 164.04 L289.70 161.25 L290.20 158.60 L290.70 156.06 L291.20 153.60 L291.70 151.25 L292.20 149.00 L292.70 146.89 L293.00 145.70 L293.20 144.93 L293.70 143.04 L294.20 141.22 L294.70 139.50 L295.20 137.88 L295.70 136.37 L296.20 135.00 L296.70 133.75 L297.20 132.58 L297.70 131.49 L298.20 130.46 L298.70 129.47 L299.20 128.50 L299.70 127.55 L300.20 126.59 L300.70 125.60 L301.00 125.00 L301.20 124.59 L301.70 123.57 L302.20 122.54 L302.70 121.52 L303.20 120.50 L303.70 119.48 L304.20 118.47 L304.70 117.47 L305.20 116.47 L305.70 115.49 L306.20 114.52 L306.70 113.56 L307.00 113.00 L307.20 112.63 L307.70 111.69 L308.20 110.76 L308.70 109.83 L309.20 108.91 L309.70 107.99 L310.20 107.08 L310.70 106.18 L311.20 105.29 L311.70 104.41 L312.20 103.55 L312.70 102.70 L313.20 101.86 L313.70 101.04 L314.20 100.24 L314.70 99.46 L315.00 99.00 L315.20 98.70 L315.70 97.94 L316.20 97.19 L316.70 96.44 L317.20 95.69 L317.70 94.96 L318.20 94.23 L318.70 93.52 L319.20 92.82 L319.70 92.13 L320.20 91.45 L320.70 90.80 L321.20 90.16 L321.70 89.54 L322.20 88.95 L322.70 88.37 L323.20 87.82 L323.70 87.30 L324.00 87.00 L324.20 86.80 L324.70 86.32 L325.20 85.84 L325.70 85.37 L326.20 84.91 L326.70 84.46 L327.20 84.02 L327.70 83.58 L328.20 83.15 L328.70 82.73 L329.20 82.32 L329.70 81.91 L330.20 81.51 L330.70 81.12 L331.20 80.73 L331.70 80.36 L332.20 79.99 L332.70 79.62 L333.20 79.26 L333.70 78.91 L334.20 78.57 L334.70 78.23 L335.20 77.90 L335.70 77.57 L336.20 77.25 L336.70 76.94 L337.20 76.63 L337.70 76.33 L338.20 76.03 L338.70 75.74 L339.20 75.45 L339.70 75.17 L340.00 75.00 L340.20 74.89 L340.70 74.61 L341.20 74.34 L341.70 74.06 L342.20 73.79 L342.70 73.52 L343.20 73.25 L343.70 72.98 L344.20 72.71 L344.70 72.45 L345.20 72.19 L345.70 71.94 L346.20 71.69 L346.70 71.44 L347.20 71.19 L347.70 70.96 L348.20 70.72 L348.70 70.50 L349.20 70.27 L349.70 70.06 L350.20 69.85 L350.70 69.65 L351.20 69.45 L351.70 69.26 L352.20 69.08 L352.70 68.91 L353.20 68.75 L353.70 68.59 L354.20 68.44 L354.70 68.31 L355.20 68.18 L355.70 68.07 L356.00 68.00 L356.20 67.96 L356.70 67.85 L357.20 67.75 L357.70 67.65 L358.20 67.54 L358.70 67.44 L359.20 67.34 L359.70 67.24 L360.20 67.14 L360.70 67.04 L361.20 66.95 L361.70 66.85 L362.20 66.76 L362.70 66.67 L363.20 66.58 L363.70 66.49 L364.20 66.41 L364.70 66.33 L365.20 66.25 L365.70 66.17 L366.20 66.09 L366.70 66.02 L367.20 65.95 L367.70 65.89 L368.20 65.82 L368.70 65.76 L369.20 65.70 L369.70 65.65 L370.20 65.60 L370.70 65.55 L371.20 65.51 L371.70 65.47 L372.20 65.43 L372.70 65.40 L373.20 65.37 L373.70 65.35 L374.20 65.33 L374.70 65.32 L375.20 65.31 L375.70 65.30 L376.00 65.30 L376.20 65.30 L376.70 65.30 L377.20 65.31 L377.70 65.32 L378.20 65.34 L378.70 65.36 L379.20 65.39 L379.70 65.41 L380.20 65.44 L380.70 65.48 L381.20 65.52 L381.70 65.56 L382.20 65.61 L382.70 65.65 L383.20 65.71 L383.70 65.76 L384.20 65.82 L384.70 65.88 L385.20 65.94 L385.70 66.01 L386.20 66.08 L386.70 66.15 L387.20 66.22 L387.70 66.30 L388.20 66.37 L388.70 66.45 L389.20 66.54 L389.70 66.62 L390.20 66.70 L390.70 66.79 L391.20 66.88 L391.70 66.97 L392.20 67.06 L392.70 67.16 L393.20 67.25 L393.70 67.35 L394.20 67.44 L394.70 67.54 L395.20 67.64 L395.70 67.74 L396.00 67.80 L396.20 67.84 L396.70 67.95 L397.20 68.08 L397.70 68.22 L398.20 68.37 L398.70 68.53 L399.20 68.70 L399.70 68.89 L400.20 69.08 L400.70 69.27 L401.20 69.48 L401.70 69.69 L402.20 69.91 L402.70 70.13 L403.20 70.36 L403.70 70.59 L404.20 70.82 L404.70 71.06 L405.00 71.20 L405.20 71.30 L405.70 71.54 L406.20 71.80 L406.70 72.08 L407.20 72.36 L407.70 72.66 L408.20 72.96 L408.70 73.27 L409.20 73.59 L409.70 73.92 L410.20 74.25 L410.70 74.59 L411.20 74.94 L411.70 75.29 L412.00 75.50 L412.20 75.64 L412.70 76.01 L413.20 76.38 L413.70 76.76 L414.20 77.16 L414.70 77.56 L415.20 77.97 L415.70 78.39 L416.20 78.82 L416.70 79.25 L417.20 79.69 L417.70 80.14 L418.20 80.59 L418.70 81.04 L419.20 81.50 L419.70 81.96 L420.20 82.44 L420.70 82.92 L421.20 83.40 L421.70 83.90 L422.20 84.40 L422.70 84.91 L423.20 85.43 L423.70 85.96 L424.20 86.49 L424.70 87.04 L425.20 87.59 L425.70 88.16 L426.00 88.50 L426.20 88.73 L426.70 89.32 L427.20 89.92 L427.70 90.53 L428.20 91.16 L428.70 91.80 L429.20 92.44 L429.70 93.10 L430.20 93.76 L430.70 94.44 L431.20 95.12 L431.70 95.80 L432.20 96.49 L432.70 97.18 L433.20 97.88 L433.70 98.58 L434.00 99.00 L434.20 99.28 L434.70 99.99 L435.20 100.71 L435.70 101.44 L436.20 102.18 L436.70 102.92 L437.20 103.67 L437.70 104.43 L438.20 105.19 L438.70 105.95 L439.20 106.72 L439.70 107.49 L440.20 108.26 L440.70 109.04 L441.00 109.50 L441.20 109.81 L441.70 110.60 L442.20 111.40 L442.70 112.21 L443.20 113.03 L443.70 113.86 L444.20 114.69 L444.70 115.52 L445.20 116.34 L445.70 117.16 L446.20 117.97 L446.70 118.77 L447.20 119.55 L447.70 120.32 L448.20 121.06 L448.50 121.50 L448.70 121.79 L449.20 122.53 L449.70 123.29 L450.20 124.05 L450.70 124.83 L451.20 125.60 L451.70 126.36 L452.20 127.11 L452.70 127.85 L453.20 128.55 L453.70 129.23 L454.20 129.88 L454.70 130.48 L455.20 131.04 L455.70 131.54 L456.20 131.99 L456.70 132.37 L456.90 132.50 L457.20 132.69 L457.70 133.01 L458.20 133.32 L458.70 133.63 L459.20 133.92 L459.70 134.21 L460.20 134.47 L460.70 134.72 L461.20 134.95 L461.70 135.15 L462.20 135.33 L462.70 135.47 L463.20 135.58 L463.70 135.66 L464.20 135.70 L464.40 135.70 L464.70 135.68 L465.20 135.60 L465.70 135.44 L466.20 135.21 L466.70 134.93 L467.20 134.61 L467.70 134.25 L468.20 133.85 L468.70 133.44 L469.20 133.01 L469.70 132.58 L470.20 132.15 L470.70 131.74 L471.00 131.50 L471.20 131.34 L471.70 130.94 L472.20 130.52 L472.70 130.09 L473.20 129.64 L473.70 129.17 L474.20 128.69 L474.70 128.19 L475.20 127.67 L475.70 127.13 L476.20 126.57 L476.70 126.00 L477.20 125.40 L477.70 124.77 L478.20 124.13 L478.30 124.00 L478.70 123.42 L479.20 122.57 L479.70 121.66 L480.20 120.75 L480.70 119.93 L481.00 119.50 L481.20 119.24 L481.70 118.61 L482.20 118.00 L482.70 117.41 L483.20 116.85 L483.70 116.31 L484.20 115.78 L484.70 115.27 L485.20 114.77 L485.70 114.29 L486.20 113.82 L486.70 113.36 L487.20 112.90 L487.70 112.45 L488.20 112.01 L488.70 111.56 L489.20 111.12 L489.70 110.67 L490.20 110.23 L490.70 109.77 L491.00 109.50 L491.20 109.32 L491.70 108.85 L492.20 108.39 L492.70 107.93 L493.20 107.46 L493.70 107.00 L494.20 106.54 L494.70 106.09 L495.20 105.63 L495.70 105.19 L496.20 104.74 L496.70 104.31 L497.20 103.88 L497.70 103.47 L498.20 103.06 L498.70 102.66 L499.20 102.28 L499.70 101.90 L500.20 101.54 L500.70 101.20 L501.00 101.00 L501.20 100.87 L501.70 100.55 L502.20 100.23 L502.70 99.92 L503.20 99.62 L503.70 99.32 L504.20 99.03 L504.70 98.75 L505.20 98.46 L505.70 98.19 L506.20 97.92 L506.70 97.65 L507.20 97.39 L507.70 97.13 L508.20 96.88 L508.70 96.63 L509.20 96.38 L509.70 96.13 L510.20 95.89 L510.70 95.66 L511.20 95.42 L511.70 95.19 L512.20 94.96 L512.70 94.73 L513.20 94.50 L513.70 94.28 L514.20 94.05 L514.70 93.83 L515.00 93.70 L515.20 93.61 L515.70 93.39 L516.20 93.17 L516.70 92.96 L517.20 92.74 L517.70 92.53 L518.20 92.31 L518.70 92.10 L519.20 91.89 L519.70 91.68 L520.20 91.48 L520.70 91.27 L521.20 91.07 L521.70 90.87 L522.20 90.67 L522.70 90.48 L523.20 90.28 L523.70 90.09 L524.20 89.90 L524.70 89.72 L525.20 89.53 L525.70 89.35 L526.20 89.17 L526.70 89.00 L527.20 88.82 L527.70 88.65 L528.20 88.48 L528.70 88.32 L529.20 88.16 L529.70 88.00 L530.20 87.84 L530.70 87.69 L531.00 87.60 L531.20 87.54 L531.70 87.39 L532.20 87.25 L532.70 87.10 L533.20 86.96 L533.70 86.82 L534.20 86.67 L534.70 86.54 L535.20 86.40 L535.70 86.26 L536.20 86.13 L536.70 85.99 L537.20 85.86 L537.70 85.73 L538.20 85.60 L538.70 85.47 L539.20 85.35 L539.70 85.22 L540.20 85.10 L540.70 84.98 L541.20 84.86 L541.70 84.74 L542.20 84.62 L542.70 84.51 L543.20 84.39 L543.70 84.28 L544.20 84.17 L544.70 84.06 L545.20 83.95 L545.70 83.85 L546.20 83.74 L546.70 83.64 L547.20 83.54 L547.70 83.44 L548.20 83.34 L548.70 83.24 L549.20 83.15 L549.70 83.06 L550.00 83.00 L550.20 82.96 L550.70 82.87 L551.20 82.78 L551.70 82.70 L552.20 82.61 L552.70 82.52 L553.20 82.44 L553.70 82.36 L554.20 82.28 L554.70 82.19 L555.20 82.11 L555.70 82.04 L556.20 81.96 L556.70 81.88 L557.20 81.80 L557.70 81.73 L558.20 81.65 L558.70 81.58 L559.20 81.51 L559.70 81.43 L560.20 81.36 L560.70 81.29 L561.20 81.22 L561.70 81.15 L562.20 81.08 L562.70 81.01 L563.20 80.94 L563.70 80.88 L564.20 80.81 L564.70 80.74 L565.20 80.68 L565.70 80.61 L566.20 80.54 L566.70 80.48 L567.20 80.41 L567.70 80.35 L568.20 80.28 L568.70 80.22 L569.20 80.15 L569.70 80.09 L570.20 80.02 L570.70 79.96 L571.20 79.89 L571.70 79.83 L572.20 79.77 L572.70 79.70 L573.20 79.64 L573.70 79.57 L574.20 79.51 L574.70 79.44 L575.20 79.37 L575.70 79.31 L576.20 79.24 L576.70 79.18 L577.20 79.11 L577.70 79.04 L578.00 79.00 L578.20 78.97 L578.70 78.91 L579.20 78.84 L579.70 78.77 L580.20 78.70 L580.70 78.64 L581.20 78.57 L581.70 78.51 L582.20 78.44 L582.70 78.38 L583.20 78.31 L583.70 78.25 L584.20 78.18 L584.70 78.12 L585.20 78.06 L585.70 77.99 L586.20 77.93 L586.70 77.87 L587.20 77.80 L587.70 77.74 L588.20 77.68 L588.70 77.61 L589.20 77.55 L589.70 77.49 L590.20 77.42 L590.70 77.36 L591.20 77.30 L591.70 77.24 L592.20 77.17 L592.70 77.11 L593.20 77.05 L593.70 76.98 L594.20 76.92 L594.70 76.86 L595.20 76.79 L595.70 76.73 L596.20 76.67 L596.70 76.60 L597.20 76.54 L597.70 76.48 L598.20 76.41 L598.70 76.35 L599.20 76.28 L599.70 76.22 L600.20 76.15 L600.70 76.08 L601.20 76.02 L601.70 75.95 L602.20 75.88 L602.70 75.82 L603.20 75.75 L603.70 75.68 L604.20 75.61 L604.70 75.54 L605.00 75.50 L605.20 75.47 L605.70 75.40 L606.20 75.33 L606.70 75.26 L607.20 75.18 L607.70 75.11 L608.20 75.03 L608.70 74.95 L609.20 74.87 L609.70 74.79 L610.20 74.71 L610.70 74.63 L611.20 74.55 L611.70 74.47 L612.20 74.39 L612.70 74.30 L613.20 74.22 L613.70 74.13 L614.20 74.05 L614.70 73.96 L615.20 73.88 L615.70 73.79 L616.20 73.71 L616.70 73.62 L617.20 73.53 L617.70 73.45 L618.20 73.36 L618.70 73.27 L619.20 73.19 L619.70 73.10 L620.20 73.02 L620.70 72.93 L621.20 72.84 L621.70 72.76 L622.20 72.67 L622.70 72.59 L623.20 72.51 L623.70 72.42 L624.20 72.34 L624.70 72.26 L625.20 72.18 L625.70 72.10 L626.20 72.02 L626.70 71.94 L627.20 71.86 L627.70 71.78 L628.20 71.71 L628.70 71.63 L629.20 71.56 L629.70 71.49 L630.20 71.42 L630.70 71.35 L631.20 71.28 L631.70 71.21 L632.20 71.14 L632.70 71.08 L633.20 71.02 L633.70 70.95 L634.20 70.90 L634.70 70.84 L635.20 70.78 L635.70 70.73 L636.20 70.67 L636.70 70.62 L637.20 70.57 L637.70 70.53 L638.00 70.50 L638.20 70.48 L638.70 70.44 L639.20 70.39 L639.70 70.35 L640.20 70.30 L640.70 70.26 L641.20 70.22 L641.70 70.17 L642.20 70.13 L642.70 70.09 L643.20 70.04 L643.70 70.00 L644.20 69.96 L644.70 69.92 L645.20 69.87 L645.70 69.83 L646.20 69.79 L646.70 69.75 L647.20 69.71 L647.70 69.67 L648.20 69.63 L648.70 69.59 L649.20 69.55 L649.70 69.51 L650.20 69.47 L650.70 69.43 L651.20 69.39 L651.70 69.36 L652.20 69.32 L652.70 69.28 L653.20 69.25 L653.70 69.21 L654.20 69.17 L654.70 69.14 L655.20 69.11 L655.70 69.07 L656.20 69.04 L656.70 69.01 L657.20 68.97 L657.70 68.94 L658.20 68.91 L658.70 68.88 L659.20 68.85 L659.70 68.82 L660.20 68.79 L660.70 68.76 L661.20 68.74 L661.70 68.71 L662.20 68.68 L662.70 68.66 L663.20 68.63 L663.70 68.61 L664.20 68.58 L664.70 68.56 L665.20 68.54 L665.70 68.52 L666.20 68.50 L666.70 68.48 L667.20 68.46 L667.70 68.44 L668.20 68.42 L668.70 68.41 L669.20 68.39 L669.70 68.38 L670.20 68.36 L670.70 68.35 L671.20 68.34 L671.70 68.33 L672.20 68.31 L672.70 68.31 L673.00 68.30" stroke="#b3b3b3" />
</g>
<path d="M549.70 8.5 V269.5" stroke="#ff2020" stroke-width="1.1" fill="none"/>
<rect x="58.5" y="8.5" width="614.0" height="261.0" fill="none" stroke="#262626" stroke-width="1"/>
<path d="M119.50 269.5 v-6 M119.50 8.5 v6 M181.50 269.5 v-6 M181.50 8.5 v6 M242.50 269.5 v-6 M242.50 8.5 v6 M304.50 269.5 v-6 M304.50 8.5 v6 M365.50 269.5 v-6 M365.50 8.5 v6 M426.50 269.5 v-6 M426.50 8.5 v6 M488.50 269.5 v-6 M488.50 8.5 v6 M549.50 269.5 v-6 M549.50 8.5 v6 M611.50 269.5 v-6 M611.50 8.5 v6 M58.5 45.50 h6 M672.5 45.50 h-6 M58.5 83.50 h6 M672.5 83.50 h-6 M58.5 120.50 h6 M672.5 120.50 h-6 M58.5 157.50 h6 M672.5 157.50 h-6 M58.5 194.50 h6 M672.5 194.50 h-6 M58.5 232.50 h6 M672.5 232.50 h-6" stroke="#262626" stroke-width="1" fill="none"/>
<g font-family="'Liberation Serif', serif" font-size="18.5" fill="#1a1a1a">
<text x="58.50" y="295.2" text-anchor="middle">0.2</text>
<text x="119.90" y="295.2" text-anchor="middle">0.4</text>
<text x="181.30" y="295.2" text-anchor="middle">0.6</text>
<text x="242.70" y="295.2" text-anchor="middle">0.8</text>
<text x="304.10" y="295.2" text-anchor="middle">1</text>
<text x="365.50" y="295.2" text-anchor="middle">1.2</text>
<text x="426.90" y="295.2" text-anchor="middle">1.4</text>
<text x="488.30" y="295.2" text-anchor="middle">1.6</text>
<text x="549.70" y="295.2" text-anchor="middle">1.8</text>
<text x="611.10" y="295.2" text-anchor="middle">2</text>
<text x="672.50" y="295.2" text-anchor="middle">2.2</text>
<text x="51.3" y="15.90" text-anchor="end">0</text>
<text x="51.3" y="53.19" text-anchor="end">-5</text>
<text x="51.3" y="90.47" text-anchor="end">-10</text>
<text x="51.3" y="127.76" text-anchor="end">-15</text>
<text x="51.3" y="165.04" text-anchor="end">-20</text>
<text x="51.3" y="202.33" text-anchor="end">-25</text>
<text x="51.3" y="239.61" text-anchor="end">-30</text>
<text x="51.3" y="276.90" text-anchor="end">-35</text>
</g>
<g font-family="'Liberation Serif', serif" font-size="21" fill="#1a1a1a">
<text x="366" y="320" text-anchor="middle">Frequency [GHz]</text>
<text transform="translate(21.5,140) rotate(-90)" text-anchor="middle">S-parameters [dB]</text>
</g>
<rect x="86.3" y="88.3" width="115.2" height="154.1" fill="#fff" stroke="#6a6a6a" stroke-width="0.9"/>
<rect x="132.2" y="88.6" width="9.30" height="42.90" fill="#a6a6a6"/>
<rect x="165.7" y="139.5" width="35.50" height="9.20" fill="#a6a6a6"/>
<rect x="86.7" y="182.8" width="34.80" height="9.60" fill="#a6a6a6"/>
<rect x="146.2" y="198.7" width="9.40" height="43.40" fill="#a6a6a6"/>
<rect x="124.0" y="134" width="13.90" height="22.30" fill="#a6a6a6"/>
<rect x="149.1" y="133.2" width="13.70" height="30.20" fill="#a6a6a6"/>
<rect x="124.2" y="168" width="13.70" height="28.50" fill="#a6a6a6"/>
<rect x="149.5" y="174.1" width="13.80" height="22.40" fill="#a6a6a6"/>
<path d="M121.2 131.4 L166.7 131.4" fill="none" stroke="#b0b0b0" stroke-width="1.6" stroke-linejoin="miter"/>
<path d="M122 131.4 L122 158.9 L134.2 158.9 L134.2 164.7 L122 164.7 L122 199.4 L142.4 199.4 L142.4 182 L146.2 182 L146.2 199" fill="none" stroke="#b0b0b0" stroke-width="1.6" stroke-linejoin="miter"/>
<path d="M140.8 131.4 L140.8 149.2 L145.6 149.2 L145.6 131.4" fill="none" stroke="#b0b0b0" stroke-width="1.6" stroke-linejoin="miter"/>
<path d="M165.9 131.4 L165.9 166.3 L153.7 166.3 L153.7 170.8 L165.9 170.8 L165.9 197.3" fill="none" stroke="#b0b0b0" stroke-width="1.6" stroke-linejoin="miter"/>
<path d="M122.3 128.9 L164.6 128.9" stroke="#777" stroke-width="0.6" fill="none"/>
<circle cx="122.5" cy="129" r="1.25" fill="#1a1a1a"/>
<circle cx="164.5" cy="129" r="1.25" fill="#1a1a1a"/>
<path d="M117 135.7 L121 135.7" stroke="#999" stroke-width="0.8" fill="none"/>
<path d="M119 135.7 L123.6 135.7" stroke="#1a1a1a" stroke-width="0.8" fill="none"/>
<path d="M123.60 135.70 L120.20 137.30 L120.20 134.10 Z" fill="#1a1a1a"/>
<path d="M132 135.7 L126.3 135.7" stroke="#1a1a1a" stroke-width="0.8" fill="none"/>
<path d="M126.30 135.70 L129.70 134.10 L129.70 137.30 Z" fill="#1a1a1a"/>
<path d="M107.9 121 L124.6 135.1" stroke="#1a1a1a" stroke-width="0.8" fill="none"/>
<path d="M124.60 135.10 L120.54 134.02 L122.86 131.27 Z" fill="#1a1a1a"/>
<path d="M163.8 118 L159.9 133.4" stroke="#1a1a1a" stroke-width="0.8" fill="none"/>
<path d="M159.90 133.40 L159.09 129.27 L162.58 130.16 Z" fill="#1a1a1a"/>
<path d="M124.2 149.5 L137.5 149.5" stroke="#1a1a1a" stroke-width="0.8" fill="none"/>
<path d="M137.50 149.50 L134.10 151.10 L134.10 147.90 Z" fill="#1a1a1a"/>
<path d="M124.20 149.50 L127.60 147.90 L127.60 151.10 Z" fill="#1a1a1a"/>
<path d="M114 153.7 L121 153.7" stroke="#1a1a1a" stroke-width="0.8" fill="none"/>
<path d="M121.00 153.70 L117.60 155.30 L117.60 152.10 Z" fill="#1a1a1a"/>
<path d="M126 153.7 L129.5 153.7" stroke="#888" stroke-width="0.8" fill="none"/>
<path d="M126.5 153.7 L123.3 153.7" stroke="#1a1a1a" stroke-width="0.8" fill="none"/>
<path d="M123.30 153.70 L126.70 152.10 L126.70 155.30 Z" fill="#1a1a1a"/>
<path d="M124.7 168.6 L135.6 168.6" stroke="#1a1a1a" stroke-width="0.8" fill="none"/>
<path d="M135.60 168.60 L132.20 170.20 L132.20 167.00 Z" fill="#1a1a1a"/>
<path d="M124.70 168.60 L128.10 167.00 L128.10 170.20 Z" fill="#1a1a1a"/>
<path d="M87 180.6 L121 180.6" stroke="#1a1a1a" stroke-width="0.8" fill="none"/>
<path d="M121.00 180.60 L117.60 182.20 L117.60 179.00 Z" fill="#1a1a1a"/>
<path d="M87.00 180.60 L90.40 179.00 L90.40 182.20 Z" fill="#1a1a1a"/>
<path d="M137 181.3 L137 196.4" stroke="#1a1a1a" stroke-width="0.8" fill="none"/>
<path d="M137.00 196.40 L135.40 193.00 L138.60 193.00 Z" fill="#1a1a1a"/>
<path d="M137.00 181.30 L138.60 184.70 L135.40 184.70 Z" fill="#1a1a1a"/>
<path d="M125.5 189.5 L125.5 196.5" stroke="#1a1a1a" stroke-width="0.8" fill="none"/>
<path d="M125.50 196.50 L123.90 193.10 L127.10 193.10 Z" fill="#1a1a1a"/>
<path d="M125.5 206 L125.5 200" stroke="#1a1a1a" stroke-width="0.8" fill="none"/>
<path d="M125.50 200.00 L127.10 203.40 L123.90 203.40 Z" fill="#1a1a1a"/>
<path d="M152.4 133.8 L152.4 163" stroke="#1a1a1a" stroke-width="0.8" fill="none"/>
<path d="M152.40 163.00 L150.80 159.60 L154.00 159.60 Z" fill="#1a1a1a"/>
<path d="M152.40 133.80 L154.00 137.20 L150.80 137.20 Z" fill="#1a1a1a"/>
<path d="M152.4 174.5 L152.4 196.4" stroke="#1a1a1a" stroke-width="0.8" fill="none"/>
<path d="M152.40 196.40 L150.80 193.00 L154.00 193.00 Z" fill="#1a1a1a"/>
<path d="M152.40 174.50 L154.00 177.90 L150.80 177.90 Z" fill="#1a1a1a"/>
<path d="M159.1 161.3 L159.1 165.8" stroke="#1a1a1a" stroke-width="0.8" fill="none"/>
<path d="M159.10 165.80 L157.90 163.20 L160.30 163.20 Z" fill="#1a1a1a"/>
<path d="M159.1 175.2 L159.1 171.4" stroke="#1a1a1a" stroke-width="0.8" fill="none"/>
<path d="M159.10 171.40 L160.30 174.00 L157.90 174.00 Z" fill="#1a1a1a"/>
<path d="M180.2 183.3 L159.6 169.5" stroke="#1a1a1a" stroke-width="0.8" fill="none"/>
<path d="M159.60 169.50 L163.76 170.12 L161.76 173.11 Z" fill="#1a1a1a"/>
<path d="M168.7 131 L168.7 199" stroke="#1a1a1a" stroke-width="0.8" fill="none"/>
<path d="M168.70 199.00 L167.10 195.60 L170.30 195.60 Z" fill="#1a1a1a"/>
<path d="M168.70 131.00 L170.30 134.40 L167.10 134.40 Z" fill="#1a1a1a"/>
<path d="M178.7 139.6 L178.7 148.6" stroke="#1a1a1a" stroke-width="0.8" fill="none"/>
<path d="M178.70 148.60 L177.40 145.60 L180.00 145.60 Z" fill="#1a1a1a"/>
<path d="M178.70 139.60 L180.00 142.60 L177.40 142.60 Z" fill="#1a1a1a"/>
<path d="M152.5 198.6 L159.5 198.6" stroke="#1a1a1a" stroke-width="0.8" fill="none"/>
<path d="M159.50 198.60 L156.10 200.20 L156.10 197.00 Z" fill="#1a1a1a"/>
<path d="M169.5 198.6 L163.8 198.6" stroke="#1a1a1a" stroke-width="0.8" fill="none"/>
<path d="M163.80 198.60 L167.20 197.00 L167.20 200.20 Z" fill="#1a1a1a"/>
<circle cx="162" cy="199" r="1.2" fill="#1a1a1a"/>
<path d="M162 199.4 L183.3 212.6" stroke="#1a1a1a" stroke-width="0.8" fill="none"/>
<path d="M158.8 206.4 L138 189.6" stroke="#1a1a1a" stroke-width="0.8" fill="none"/>
<path d="M138.00 189.60 L142.09 190.59 L139.83 193.39 Z" fill="#1a1a1a"/>
<path d="M204.5 89 L204.5 241.5" stroke="#1a1a1a" stroke-width="0.8" fill="none"/>
<path d="M204.50 241.50 L202.90 238.10 L206.10 238.10 Z" fill="#1a1a1a"/>
<path d="M204.50 89.00 L206.10 92.40 L202.90 92.40 Z" fill="#1a1a1a"/>
<path d="M86.6 244.8 L201.3 244.8" stroke="#1a1a1a" stroke-width="0.8" fill="none"/>
<path d="M201.30 244.80 L198.70 246.00 L198.70 243.60 Z" fill="#1a1a1a"/>
<path d="M86.60 244.80 L89.20 243.60 L89.20 246.00 Z" fill="#1a1a1a"/>
<g font-family="'Liberation Serif', serif" fill="#1a1a1a" font-style="italic" font-size="12.5">
<text x="137.0" y="124.8">W</text>
<text x="147.0" y="126.9" font-size="8.8">s</text>
<text x="96.9" y="116.7">w</text>
<text x="105.2" y="119.2" font-size="8.8" font-style="normal">3</text>
<text x="157.3" y="116.7">w</text>
<text x="165.0" y="119.2" font-size="8.8" font-style="normal">4</text>
<text x="124.4" y="144.6">w</text>
<text x="131.8" y="146.6" font-size="8.8">a</text>
<text x="101.8" y="153.8">w</text>
<text x="109.4" y="156.3" font-size="8.8" font-style="normal">1</text>
<text x="125.0" y="177.7">w</text>
<text x="132.8" y="179.6" font-size="8.8" font-style="normal">2</text>
<text x="96.9" y="177.7">dL</text>
<text x="123.2" y="213.8">g</text>
<text x="154.2" y="153.3">l</text>
<text x="157.6" y="154.2" font-size="8.8">b</text>
<text x="154.2" y="190.2">l</text>
<text x="157.4" y="191.5" font-size="8.8">a</text>
<text x="170.6" y="169.4">L</text>
<text x="178.2" y="171.3" font-size="8.8">s</text>
<text x="181.8" y="188.9" font-size="14">s</text>
<text x="209.8" y="173.8">L</text>
<text x="182.1" y="145.8">w</text>
<text x="190.0" y="147.7" font-size="8.8">c</text>
<text x="160.5" y="214.5">l</text>
<text x="163.4" y="216.3" font-size="8.8" font-style="normal">1</text>
<text x="186.2" y="217.0">w</text>
<text x="194.2" y="219.5" font-size="8.8" font-style="normal">b</text>
<text x="121.3" y="256.5">W</text>
</g>
<g font-family="'Liberation Serif', serif" fill="#1a1a1a" font-size="11.5" text-anchor="middle">
<circle cx="136.8" cy="79.2" r="6.9" fill="#fff" stroke="#1a1a1a" stroke-width="0.7"/>
<text x="136.8" y="83.10000000000001">2</text>
<circle cx="212.9" cy="143.5" r="6.9" fill="#fff" stroke="#1a1a1a" stroke-width="0.7"/>
<text x="212.9" y="147.4">1</text>
<circle cx="74.5" cy="187.6" r="6.9" fill="#fff" stroke="#1a1a1a" stroke-width="0.7"/>
<text x="74.5" y="191.5">3</text>
<circle cx="150.8" cy="252.3" r="6.9" fill="#fff" stroke="#1a1a1a" stroke-width="0.7"/>
<text x="150.8" y="256.2">4</text>
</g>
<rect x="577.5" y="143.5" width="84" height="116" fill="#fff" stroke="#303030" stroke-width="0.9"/>
<path d="M581.6 158.9 H620.8" stroke="#000" stroke-width="2.9" stroke-dasharray="2.1 2.0" fill="none"/>
<path d="M581.6 187.1 H622.6" stroke="#000" stroke-width="2.9" stroke-dasharray="8.2 8.0" fill="none"/>
<path d="M581.6 215.8 H622.6" stroke="#000" stroke-width="2.9" stroke-dasharray="8.2 8.0" fill="none"/>
<path d="M581.6 244.0 H622.3" stroke="#000" stroke-width="2.9" fill="none"/>
<g font-family="'Liberation Serif', serif" fill="#1a1a1a">
<text x="625.75" y="163.50" font-size="18.5">|</text>
<text x="629.8" y="163.50" font-size="18.5" font-style="italic">S</text>
<text x="639.3" y="171.20" font-size="13.5">11</text>
<text x="652.75" y="163.50" font-size="18.5">|</text>
<text x="625.75" y="191.70" font-size="18.5">|</text>
<text x="629.8" y="191.70" font-size="18.5" font-style="italic">S</text>
<text x="639.3" y="199.40" font-size="13.5">21</text>
<text x="652.75" y="191.70" font-size="18.5">|</text>
<text x="625.75" y="220.40" font-size="18.5">|</text>
<text x="629.8" y="220.40" font-size="18.5" font-style="italic">S</text>
<text x="639.3" y="228.10" font-size="13.5">31</text>
<text x="652.75" y="220.40" font-size="18.5">|</text>
<text x="625.75" y="248.60" font-size="18.5">|</text>
<text x="629.8" y="248.60" font-size="18.5" font-style="italic">S</text>
<text x="639.3" y="256.30" font-size="13.5">41</text>
<text x="652.75" y="248.60" font-size="18.5">|</text>
</g>
</svg>
</body></html>
